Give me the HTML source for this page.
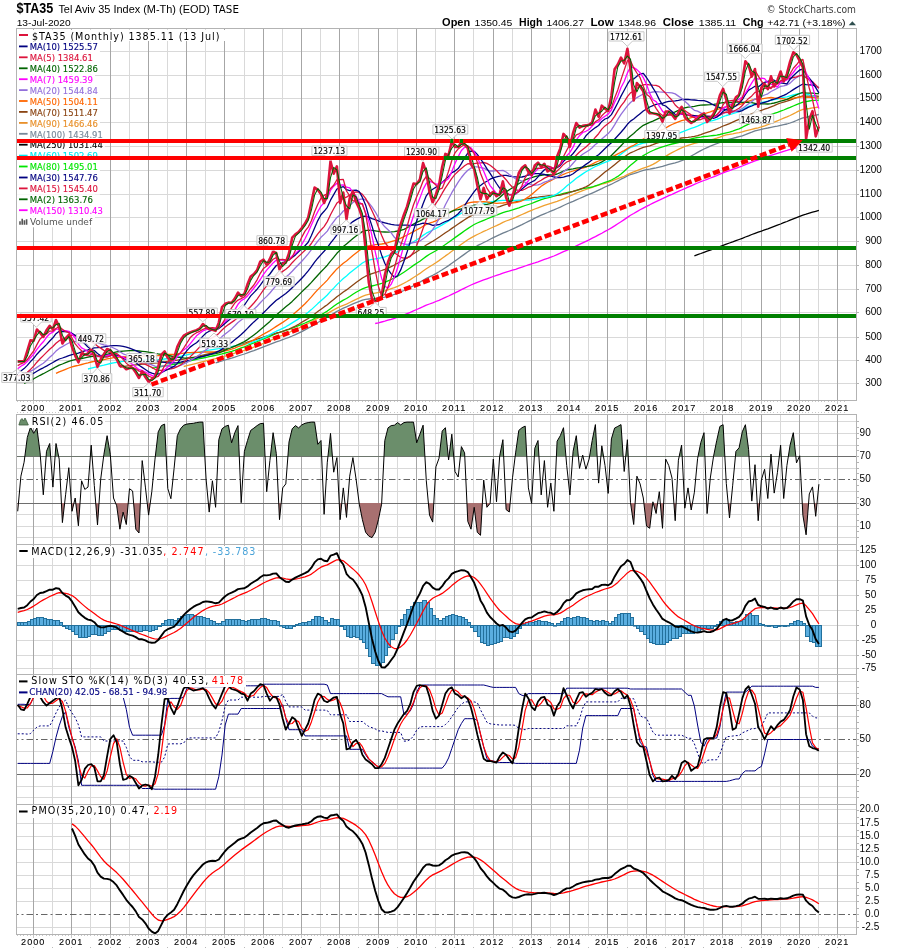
<!DOCTYPE html><html><head><meta charset="utf-8"><style>html,body{margin:0;padding:0;background:#fff;overflow:hidden}svg{display:block}text{font-family:'Liberation Sans', Arial, sans-serif}</style></head><body>
<svg width="900" height="950" viewBox="0 0 900 950">
<rect width="900" height="950" fill="#fff"/>
<text x="16.5" y="13.4" font-size="14.6" textLength="36.8" lengthAdjust="spacingAndGlyphs" style="font-family:'Liberation Sans', Arial, sans-serif" fill="#000" font-weight="bold">$TA35</text>
<text x="58.4" y="13.3" font-size="11" textLength="151.6" lengthAdjust="spacingAndGlyphs" style="font-family:'Liberation Sans', Arial, sans-serif" fill="#000">Tel Aviv 35 Index (M-Th) (EOD)</text>
<text x="213.3" y="13.3" font-size="10" textLength="25.6" lengthAdjust="spacingAndGlyphs" style="font-family:'DejaVu Sans', Verdana, sans-serif" fill="#000">TASE</text>
<text x="16.7" y="25.6" font-size="9.2" textLength="54.0" lengthAdjust="spacingAndGlyphs" style="font-family:'Liberation Sans', Arial, sans-serif" fill="#000">13-Jul-2020</text>
<text x="766.5" y="12.7" font-size="11" textLength="89.5" lengthAdjust="spacingAndGlyphs" style="font-family:'DejaVu Sans', Verdana, sans-serif" fill="#3a3a3a">© StockCharts.com</text>
<text x="442.1" y="25.7" font-size="11.6" textLength="28.1" lengthAdjust="spacingAndGlyphs" style="font-family:'Liberation Sans', Arial, sans-serif" fill="#000" font-weight="bold">Open</text>
<text x="474.6" y="25.7" font-size="9.8" textLength="37.7" lengthAdjust="spacingAndGlyphs" style="font-family:'Liberation Sans', Arial, sans-serif" fill="#000">1350.45</text>
<text x="519.1" y="25.7" font-size="11.6" textLength="23.3" lengthAdjust="spacingAndGlyphs" style="font-family:'Liberation Sans', Arial, sans-serif" fill="#000" font-weight="bold">High</text>
<text x="546.5" y="25.7" font-size="9.8" textLength="37.4" lengthAdjust="spacingAndGlyphs" style="font-family:'Liberation Sans', Arial, sans-serif" fill="#000">1406.27</text>
<text x="590.5" y="25.7" font-size="11.6" textLength="23.3" lengthAdjust="spacingAndGlyphs" style="font-family:'Liberation Sans', Arial, sans-serif" fill="#000" font-weight="bold">Low</text>
<text x="618.2" y="25.7" font-size="9.8" textLength="37.8" lengthAdjust="spacingAndGlyphs" style="font-family:'Liberation Sans', Arial, sans-serif" fill="#000">1348.96</text>
<text x="662.8" y="25.7" font-size="11.6" textLength="31.1" lengthAdjust="spacingAndGlyphs" style="font-family:'Liberation Sans', Arial, sans-serif" fill="#000" font-weight="bold">Close</text>
<text x="698.8" y="25.7" font-size="9.8" textLength="37.4" lengthAdjust="spacingAndGlyphs" style="font-family:'Liberation Sans', Arial, sans-serif" fill="#000">1385.11</text>
<text x="742.8" y="25.7" font-size="11.6" textLength="20.8" lengthAdjust="spacingAndGlyphs" style="font-family:'Liberation Sans', Arial, sans-serif" fill="#000" font-weight="bold">Chg</text>
<text x="767.2" y="25.7" font-size="9.8" textLength="78.3" lengthAdjust="spacingAndGlyphs" style="font-family:'Liberation Sans', Arial, sans-serif" fill="#000">+42.71 (+3.18%)</text>
<path d="M848.7,25.3 L852.35,21.2 L856,25.3 Z" fill="#2f4f4f"/>
<line x1="16" y1="51.5" x2="857" y2="51.5" stroke="#d9d9d9" stroke-width="1" />
<line x1="16" y1="75.5" x2="857" y2="75.5" stroke="#d9d9d9" stroke-width="1" />
<line x1="16" y1="98.5" x2="857" y2="98.5" stroke="#d9d9d9" stroke-width="1" />
<line x1="16" y1="122.5" x2="857" y2="122.5" stroke="#d9d9d9" stroke-width="1" />
<line x1="16" y1="146.5" x2="857" y2="146.5" stroke="#d9d9d9" stroke-width="1" />
<line x1="16" y1="170.5" x2="857" y2="170.5" stroke="#d9d9d9" stroke-width="1" />
<line x1="16" y1="194.5" x2="857" y2="194.5" stroke="#d9d9d9" stroke-width="1" />
<line x1="16" y1="217.5" x2="857" y2="217.5" stroke="#d9d9d9" stroke-width="1" />
<line x1="16" y1="241.5" x2="857" y2="241.5" stroke="#d9d9d9" stroke-width="1" />
<line x1="16" y1="265.5" x2="857" y2="265.5" stroke="#d9d9d9" stroke-width="1" />
<line x1="16" y1="289.5" x2="857" y2="289.5" stroke="#d9d9d9" stroke-width="1" />
<line x1="16" y1="312.5" x2="857" y2="312.5" stroke="#d9d9d9" stroke-width="1" />
<line x1="16" y1="337.5" x2="857" y2="337.5" stroke="#d9d9d9" stroke-width="1" />
<line x1="16" y1="360.5" x2="857" y2="360.5" stroke="#d9d9d9" stroke-width="1" />
<line x1="16" y1="383.5" x2="857" y2="383.5" stroke="#d9d9d9" stroke-width="1" />
<line x1="52.5" y1="28" x2="52.5" y2="401" stroke="#d9d9d9" stroke-width="1"/>
<line x1="33.5" y1="28" x2="33.5" y2="401" stroke="#a6a6a6" stroke-width="1"/>
<line x1="90.5" y1="28" x2="90.5" y2="401" stroke="#d9d9d9" stroke-width="1"/>
<line x1="71.5" y1="28" x2="71.5" y2="401" stroke="#a6a6a6" stroke-width="1"/>
<line x1="129.5" y1="28" x2="129.5" y2="401" stroke="#d9d9d9" stroke-width="1"/>
<line x1="110.5" y1="28" x2="110.5" y2="401" stroke="#a6a6a6" stroke-width="1"/>
<line x1="167.5" y1="28" x2="167.5" y2="401" stroke="#d9d9d9" stroke-width="1"/>
<line x1="148.5" y1="28" x2="148.5" y2="401" stroke="#a6a6a6" stroke-width="1"/>
<line x1="205.5" y1="28" x2="205.5" y2="401" stroke="#d9d9d9" stroke-width="1"/>
<line x1="186.5" y1="28" x2="186.5" y2="401" stroke="#a6a6a6" stroke-width="1"/>
<line x1="244.5" y1="28" x2="244.5" y2="401" stroke="#d9d9d9" stroke-width="1"/>
<line x1="224.5" y1="28" x2="224.5" y2="401" stroke="#a6a6a6" stroke-width="1"/>
<line x1="282.5" y1="28" x2="282.5" y2="401" stroke="#d9d9d9" stroke-width="1"/>
<line x1="263.5" y1="28" x2="263.5" y2="401" stroke="#a6a6a6" stroke-width="1"/>
<line x1="320.5" y1="28" x2="320.5" y2="401" stroke="#d9d9d9" stroke-width="1"/>
<line x1="301.5" y1="28" x2="301.5" y2="401" stroke="#a6a6a6" stroke-width="1"/>
<line x1="358.5" y1="28" x2="358.5" y2="401" stroke="#d9d9d9" stroke-width="1"/>
<line x1="339.5" y1="28" x2="339.5" y2="401" stroke="#a6a6a6" stroke-width="1"/>
<line x1="397.5" y1="28" x2="397.5" y2="401" stroke="#d9d9d9" stroke-width="1"/>
<line x1="378.5" y1="28" x2="378.5" y2="401" stroke="#a6a6a6" stroke-width="1"/>
<line x1="435.5" y1="28" x2="435.5" y2="401" stroke="#d9d9d9" stroke-width="1"/>
<line x1="416.5" y1="28" x2="416.5" y2="401" stroke="#a6a6a6" stroke-width="1"/>
<line x1="473.5" y1="28" x2="473.5" y2="401" stroke="#d9d9d9" stroke-width="1"/>
<line x1="454.5" y1="28" x2="454.5" y2="401" stroke="#a6a6a6" stroke-width="1"/>
<line x1="512.5" y1="28" x2="512.5" y2="401" stroke="#d9d9d9" stroke-width="1"/>
<line x1="493.5" y1="28" x2="493.5" y2="401" stroke="#a6a6a6" stroke-width="1"/>
<line x1="550.5" y1="28" x2="550.5" y2="401" stroke="#d9d9d9" stroke-width="1"/>
<line x1="531.5" y1="28" x2="531.5" y2="401" stroke="#a6a6a6" stroke-width="1"/>
<line x1="588.5" y1="28" x2="588.5" y2="401" stroke="#d9d9d9" stroke-width="1"/>
<line x1="569.5" y1="28" x2="569.5" y2="401" stroke="#a6a6a6" stroke-width="1"/>
<line x1="627.5" y1="28" x2="627.5" y2="401" stroke="#d9d9d9" stroke-width="1"/>
<line x1="607.5" y1="28" x2="607.5" y2="401" stroke="#a6a6a6" stroke-width="1"/>
<line x1="665.5" y1="28" x2="665.5" y2="401" stroke="#d9d9d9" stroke-width="1"/>
<line x1="646.5" y1="28" x2="646.5" y2="401" stroke="#a6a6a6" stroke-width="1"/>
<line x1="703.5" y1="28" x2="703.5" y2="401" stroke="#d9d9d9" stroke-width="1"/>
<line x1="684.5" y1="28" x2="684.5" y2="401" stroke="#a6a6a6" stroke-width="1"/>
<line x1="741.5" y1="28" x2="741.5" y2="401" stroke="#d9d9d9" stroke-width="1"/>
<line x1="722.5" y1="28" x2="722.5" y2="401" stroke="#a6a6a6" stroke-width="1"/>
<line x1="780.5" y1="28" x2="780.5" y2="401" stroke="#d9d9d9" stroke-width="1"/>
<line x1="761.5" y1="28" x2="761.5" y2="401" stroke="#a6a6a6" stroke-width="1"/>
<line x1="818.5" y1="28" x2="818.5" y2="401" stroke="#d9d9d9" stroke-width="1"/>
<line x1="799.5" y1="28" x2="799.5" y2="401" stroke="#a6a6a6" stroke-width="1"/>
<line x1="837.5" y1="28" x2="837.5" y2="401" stroke="#a6a6a6" stroke-width="1"/>
<line x1="857" y1="383.5" x2="859" y2="383.5" stroke="#b3b3b3" stroke-width="1"/>
<line x1="857" y1="360.5" x2="859" y2="360.5" stroke="#b3b3b3" stroke-width="1"/>
<line x1="857" y1="337.5" x2="859" y2="337.5" stroke="#b3b3b3" stroke-width="1"/>
<line x1="857" y1="312.5" x2="859" y2="312.5" stroke="#b3b3b3" stroke-width="1"/>
<line x1="857" y1="289.5" x2="859" y2="289.5" stroke="#b3b3b3" stroke-width="1"/>
<line x1="857" y1="265.5" x2="859" y2="265.5" stroke="#b3b3b3" stroke-width="1"/>
<line x1="857" y1="241.5" x2="859" y2="241.5" stroke="#b3b3b3" stroke-width="1"/>
<line x1="857" y1="217.5" x2="859" y2="217.5" stroke="#b3b3b3" stroke-width="1"/>
<line x1="857" y1="194.5" x2="859" y2="194.5" stroke="#b3b3b3" stroke-width="1"/>
<line x1="857" y1="170.5" x2="859" y2="170.5" stroke="#b3b3b3" stroke-width="1"/>
<line x1="857" y1="146.5" x2="859" y2="146.5" stroke="#b3b3b3" stroke-width="1"/>
<line x1="857" y1="122.5" x2="859" y2="122.5" stroke="#b3b3b3" stroke-width="1"/>
<line x1="857" y1="98.5" x2="859" y2="98.5" stroke="#b3b3b3" stroke-width="1"/>
<line x1="857" y1="75.5" x2="859" y2="75.5" stroke="#b3b3b3" stroke-width="1"/>
<line x1="857" y1="51.5" x2="859" y2="51.5" stroke="#b3b3b3" stroke-width="1"/>
<text x="865.2" y="385.6" font-size="10" textLength="16.6" lengthAdjust="spacing" style="font-family:'Liberation Sans', Arial, sans-serif" fill="#000">300</text>
<text x="865.2" y="362.6" font-size="10" textLength="16.6" lengthAdjust="spacing" style="font-family:'Liberation Sans', Arial, sans-serif" fill="#000">400</text>
<text x="865.2" y="339.6" font-size="10" textLength="16.6" lengthAdjust="spacing" style="font-family:'Liberation Sans', Arial, sans-serif" fill="#000">500</text>
<text x="865.2" y="314.6" font-size="10" textLength="16.6" lengthAdjust="spacing" style="font-family:'Liberation Sans', Arial, sans-serif" fill="#000">600</text>
<text x="865.2" y="291.6" font-size="10" textLength="16.6" lengthAdjust="spacing" style="font-family:'Liberation Sans', Arial, sans-serif" fill="#000">700</text>
<text x="865.2" y="267.6" font-size="10" textLength="16.6" lengthAdjust="spacing" style="font-family:'Liberation Sans', Arial, sans-serif" fill="#000">800</text>
<text x="865.2" y="243.6" font-size="10" textLength="16.6" lengthAdjust="spacing" style="font-family:'Liberation Sans', Arial, sans-serif" fill="#000">900</text>
<text x="859.6" y="219.6" font-size="10" textLength="22.2" lengthAdjust="spacing" style="font-family:'Liberation Sans', Arial, sans-serif" fill="#000">1000</text>
<text x="859.6" y="196.6" font-size="10" textLength="22.2" lengthAdjust="spacing" style="font-family:'Liberation Sans', Arial, sans-serif" fill="#000">1100</text>
<text x="859.6" y="172.6" font-size="10" textLength="22.2" lengthAdjust="spacing" style="font-family:'Liberation Sans', Arial, sans-serif" fill="#000">1200</text>
<text x="859.6" y="148.6" font-size="10" textLength="22.2" lengthAdjust="spacing" style="font-family:'Liberation Sans', Arial, sans-serif" fill="#000">1300</text>
<text x="859.6" y="124.6" font-size="10" textLength="22.2" lengthAdjust="spacing" style="font-family:'Liberation Sans', Arial, sans-serif" fill="#000">1400</text>
<text x="859.6" y="100.6" font-size="10" textLength="22.2" lengthAdjust="spacing" style="font-family:'Liberation Sans', Arial, sans-serif" fill="#000">1500</text>
<text x="859.6" y="77.6" font-size="10" textLength="22.2" lengthAdjust="spacing" style="font-family:'Liberation Sans', Arial, sans-serif" fill="#000">1600</text>
<text x="859.6" y="53.6" font-size="10" textLength="22.2" lengthAdjust="spacing" style="font-family:'Liberation Sans', Arial, sans-serif" fill="#000">1700</text>
<polyline points="694.4,255.8 697.6,254.6 700.8,253.5 704.0,252.3 707.1,251.2 710.3,250.1 713.5,248.9 716.7,247.7 719.9,246.5 723.1,245.3 726.3,244.1 729.5,243.0 732.7,241.9 735.9,240.7 739.1,239.5 742.3,238.3 745.4,237.0 748.6,235.8 751.8,234.5 755.0,233.3 758.2,232.2 761.4,231.1 764.6,229.9 767.8,228.8 771.0,227.6 774.2,226.4 777.4,225.2 780.6,224.0 783.7,222.7 786.9,221.5 790.1,220.2 793.3,218.9 796.5,217.6 799.7,216.3 802.9,215.1 806.1,214.2 809.3,213.2 812.5,212.2 815.7,211.3 818.9,210.4" fill="none" stroke="#000000" stroke-width="1.3" stroke-linejoin="round" />
<polyline points="375.2,323.5 378.4,322.8 381.6,322.0 384.8,321.2 388.0,320.2 391.2,319.3 394.4,318.3 397.6,317.2 400.7,316.1 403.9,314.9 407.1,313.6 410.3,312.3 413.5,310.9 416.7,309.5 419.9,308.1 423.1,306.7 426.3,305.2 429.5,304.0 432.7,302.8 435.9,301.5 439.0,300.3 442.2,298.9 445.4,297.4 448.6,296.0 451.8,294.4 455.0,292.9 458.2,291.3 461.4,289.7 464.6,288.1 467.8,286.5 471.0,285.0 474.2,283.6 477.3,282.3 480.5,281.1 483.7,279.9 486.9,278.8 490.1,277.7 493.3,276.5 496.5,275.4 499.7,274.3 502.9,273.1 506.1,272.1 509.3,271.2 512.5,270.2 515.6,269.3 518.8,268.2 522.0,267.1 525.2,266.0 528.4,264.9 531.6,263.9 534.8,262.9 538.0,261.8 541.2,260.6 544.4,259.4 547.6,258.4 550.8,257.2 553.9,256.0 557.1,254.6 560.3,253.2 563.5,251.7 566.7,250.3 569.9,249.0 573.1,247.5 576.3,245.8 579.5,244.3 582.7,242.8 585.9,241.3 589.1,239.8 592.2,238.2 595.4,236.6 598.6,234.9 601.8,233.2 605.0,231.4 608.2,229.7 611.4,227.9 614.6,225.9 617.8,223.8 621.0,221.7 624.2,219.6 627.4,217.4 630.5,215.3 633.7,213.5 636.9,211.6 640.1,209.8 643.3,208.1 646.5,206.4 649.7,204.8 652.9,203.1 656.1,201.6 659.3,200.1 662.5,198.7 665.7,197.2 668.8,195.7 672.0,194.3 675.2,192.8 678.4,191.4 681.6,190.0 684.8,188.6 688.0,187.2 691.2,185.8 694.4,184.4 697.6,183.0 700.8,181.7 704.0,180.5 707.1,179.3 710.3,178.0 713.5,176.8 716.7,175.6 719.9,174.2 723.1,172.9 726.3,171.6 729.5,170.6 732.7,169.4 735.9,168.3 739.1,167.2 742.3,166.0 745.4,164.6 748.6,163.3 751.8,162.2 755.0,160.9 758.2,159.8 761.4,158.7 764.6,157.5 767.8,156.4 771.0,155.3 774.2,154.3 777.4,153.3 780.6,152.3 783.7,151.3 786.9,150.4 790.1,149.4 793.3,148.5 796.5,147.6 799.7,146.7 802.9,145.8 806.1,145.5 809.3,145.2 812.5,144.8 815.7,144.6 818.9,144.1" fill="none" stroke="#ff00ff" stroke-width="1.3" stroke-linejoin="round" />
<polyline points="215.6,362.8 218.8,362.0 222.0,361.0 225.2,360.0 228.4,359.0 231.6,358.1 234.8,357.1 238.0,356.0 241.2,355.0 244.4,354.0 247.5,352.9 250.7,351.7 253.9,350.6 257.1,349.4 260.3,348.1 263.5,346.9 266.7,345.7 269.9,344.4 273.1,343.1 276.3,341.8 279.5,340.8 282.7,339.6 285.8,338.5 289.0,337.3 292.2,336.0 295.4,334.6 298.6,333.1 301.8,331.6 305.0,329.9 308.2,328.2 311.4,326.4 314.6,324.4 317.8,322.5 321.0,320.7 324.1,319.0 327.3,317.3 330.5,315.3 333.7,313.4 336.9,311.4 340.1,309.8 343.3,308.2 346.5,306.8 349.7,305.4 352.9,303.9 356.1,302.6 359.3,301.4 362.4,300.2 365.6,299.4 368.8,299.0 372.0,298.7 375.2,298.5 378.4,298.2 381.6,297.7 384.8,297.1 388.0,296.4 391.2,295.5 394.4,294.4 397.6,293.1 400.7,291.9 403.9,290.5 407.1,289.0 410.3,287.4 413.5,285.7 416.7,283.9 419.9,282.1 423.1,280.2 426.3,278.4 429.5,276.8 432.7,275.3 435.9,273.6 439.0,271.8 442.2,269.8 445.4,267.7 448.6,265.6 451.8,263.3 455.0,261.0 458.2,258.7 461.4,256.4 464.6,254.1 467.8,251.8 471.0,249.6 474.2,247.6 477.3,245.7 480.5,244.2 483.7,242.5 486.9,241.0 490.1,239.3 493.3,237.6 496.5,236.1 499.7,234.7 502.9,233.1 506.1,231.8 509.3,230.5 512.5,229.1 515.6,227.7 518.8,226.1 522.0,224.6 525.2,223.0 528.4,221.4 531.6,219.8 534.8,218.2 538.0,216.6 541.2,215.2 544.4,213.8 547.6,212.5 550.8,211.1 553.9,209.9 557.1,208.5 560.3,207.1 563.5,205.5 566.7,204.0 569.9,202.7 573.1,201.3 576.3,199.8 579.5,198.5 582.7,197.1 585.9,195.7 589.1,194.4 592.2,193.1 595.4,191.7 598.6,190.1 601.8,188.6 605.0,187.0 608.2,185.6 611.4,184.2 614.6,182.5 617.8,180.9 621.0,179.2 624.2,177.6 627.4,175.9 630.5,174.5 633.7,173.7 636.9,172.6 640.1,171.5 643.3,170.4 646.5,169.6 649.7,169.1 652.9,168.5 656.1,167.9 659.3,167.1 662.5,166.4 665.7,165.3 668.8,164.4 672.0,163.6 675.2,162.8 678.4,161.9 681.6,160.7 684.8,159.4 688.0,157.8 691.2,156.0 694.4,154.2 697.6,152.4 700.8,150.6 704.0,149.0 707.1,147.6 710.3,146.2 713.5,144.8 716.7,143.6 719.9,142.3 723.1,141.0 726.3,140.0 729.5,139.1 732.7,138.3 735.9,137.5 739.1,136.6 742.3,135.8 745.4,134.7 748.6,133.4 751.8,132.2 755.0,130.9 758.2,130.1 761.4,129.3 764.6,128.6 767.8,128.0 771.0,127.3 774.2,126.7 777.4,126.1 780.6,125.4 783.7,124.7 786.9,124.0 790.1,123.0 793.3,121.8 796.5,120.5 799.7,119.1 802.9,117.9 806.1,117.3 809.3,116.5 812.5,115.7 815.7,115.1 818.9,114.5" fill="none" stroke="#708090" stroke-width="1.3" stroke-linejoin="round" />
<polyline points="183.7,366.5 186.9,365.7 190.1,364.9 193.3,364.1 196.5,363.3 199.7,362.5 202.9,361.7 206.1,360.9 209.2,360.1 212.4,359.4 215.6,358.7 218.8,358.0 222.0,357.0 225.2,356.1 228.4,355.1 231.6,354.2 234.8,353.2 238.0,352.2 241.2,351.3 244.4,350.3 247.5,349.3 250.7,348.2 253.9,347.1 257.1,346.0 260.3,344.7 263.5,343.4 266.7,342.2 269.9,340.8 273.1,339.2 276.3,337.7 279.5,336.4 282.7,335.1 285.8,333.8 289.0,332.5 292.2,331.0 295.4,329.5 298.6,328.1 301.8,326.6 305.0,325.0 308.2,323.4 311.4,321.7 314.6,319.8 317.8,318.2 321.0,316.5 324.1,315.1 327.3,313.6 330.5,311.6 333.7,309.9 336.9,308.1 340.1,306.7 343.3,305.3 346.5,304.1 349.7,302.5 352.9,300.9 356.1,299.4 359.3,297.9 362.4,296.3 365.6,295.1 368.8,294.3 372.0,293.7 375.2,293.1 378.4,292.5 381.6,291.9 384.8,290.9 388.0,289.8 391.2,288.7 394.4,287.6 397.6,286.3 400.7,284.9 403.9,283.2 407.1,281.5 410.3,279.6 413.5,277.5 416.7,275.5 419.9,273.4 423.1,271.0 426.3,268.8 429.5,266.8 432.7,264.8 435.9,262.7 439.0,260.6 442.2,258.3 445.4,255.9 448.6,253.7 451.8,251.3 455.0,249.0 458.2,246.6 461.4,244.2 464.6,242.0 467.8,239.8 471.0,237.9 474.2,236.1 477.3,234.5 480.5,233.0 483.7,231.4 486.9,230.0 490.1,228.5 493.3,227.0 496.5,225.6 499.7,224.1 502.9,222.4 506.1,221.0 509.3,219.9 512.5,218.7 515.6,217.4 518.8,215.9 522.0,214.5 525.2,213.1 528.4,211.7 531.6,210.4 534.8,209.0 538.0,207.8 541.2,206.6 544.4,205.4 547.6,204.4 550.8,203.4 553.9,202.4 557.1,201.3 560.3,200.1 563.5,198.8 566.7,197.3 569.9,196.0 573.1,194.6 576.3,193.1 579.5,191.9 582.7,190.7 585.9,189.5 589.1,188.4 592.2,187.3 595.4,186.1 598.6,185.1 601.8,184.2 605.0,183.3 608.2,182.4 611.4,181.2 614.6,179.8 617.8,178.7 621.0,177.4 624.2,176.3 627.4,174.6 630.5,173.2 633.7,171.9 636.9,170.6 640.1,169.4 643.3,168.2 646.5,167.1 649.7,165.9 652.9,164.4 656.1,162.6 659.3,160.5 662.5,158.5 665.7,156.4 668.8,154.4 672.0,152.6 675.2,151.0 678.4,149.4 681.6,147.8 684.8,146.5 688.0,145.3 691.2,144.3 694.4,143.4 697.6,142.5 700.8,141.8 704.0,141.0 707.1,140.3 710.3,139.8 713.5,139.2 716.7,138.2 719.9,137.1 723.1,135.9 726.3,134.9 729.5,134.3 732.7,133.8 735.9,133.1 739.1,132.6 742.3,131.9 745.4,130.9 748.6,130.1 751.8,129.3 755.0,128.5 758.2,127.8 761.4,126.9 764.6,125.8 767.8,124.6 771.0,123.3 774.2,122.1 777.4,120.8 780.6,119.5 783.7,118.2 786.9,116.9 790.1,115.5 793.3,113.9 796.5,112.2 799.7,110.7 802.9,109.4 806.1,109.0 809.3,108.5 812.5,107.9 815.7,107.5 818.9,107.0" fill="none" stroke="#f0a030" stroke-width="1.3" stroke-linejoin="round" />
<polyline points="151.8,368.0 155.0,367.6 158.2,367.1 161.4,366.5 164.6,365.9 167.8,365.4 170.9,364.9 174.1,364.4 177.3,363.8 180.5,363.1 183.7,362.4 186.9,361.6 190.1,360.9 193.3,360.2 196.5,359.4 199.7,358.7 202.9,358.0 206.1,357.3 209.2,356.6 212.4,356.0 215.6,355.4 218.8,354.7 222.0,353.9 225.2,353.0 228.4,352.2 231.6,351.3 234.8,350.3 238.0,349.1 241.2,347.9 244.4,346.8 247.5,345.5 250.7,344.2 253.9,342.9 257.1,341.6 260.3,340.2 263.5,338.9 266.7,337.6 269.9,336.3 273.1,334.9 276.3,333.6 279.5,332.4 282.7,331.3 285.8,330.4 289.0,329.3 292.2,328.1 295.4,326.9 298.6,325.6 301.8,324.3 305.0,323.0 308.2,321.6 311.4,320.2 314.6,318.4 317.8,316.5 321.0,314.7 324.1,313.0 327.3,311.1 330.5,308.7 333.7,306.3 336.9,304.0 340.1,302.1 343.3,300.1 346.5,298.5 349.7,296.5 352.9,294.3 356.1,292.3 359.3,290.5 362.4,288.9 365.6,287.6 368.8,286.7 372.0,286.0 375.2,285.2 378.4,284.3 381.6,283.4 384.8,282.3 388.0,280.9 391.2,279.5 394.4,277.9 397.6,276.2 400.7,274.3 403.9,272.2 407.1,270.0 410.3,267.7 413.5,265.4 416.7,263.3 419.9,261.2 423.1,258.7 426.3,256.4 429.5,254.3 432.7,252.5 435.9,250.7 439.0,248.8 442.2,246.7 445.4,244.5 448.6,242.3 451.8,239.9 455.0,237.6 458.2,235.4 461.4,233.1 464.6,230.8 467.8,228.6 471.0,226.5 474.2,224.5 477.3,223.0 480.5,221.7 483.7,220.3 486.9,219.0 490.1,217.7 493.3,216.4 496.5,215.2 499.7,213.9 502.9,212.6 506.1,211.6 509.3,210.8 512.5,209.9 515.6,208.9 518.8,207.8 522.0,206.6 525.2,205.5 528.4,204.5 531.6,203.5 534.8,202.2 538.0,200.9 541.2,199.7 544.4,198.6 547.6,197.8 550.8,197.0 553.9,196.2 557.1,195.4 560.3,194.4 563.5,193.4 566.7,192.6 569.9,192.0 573.1,191.3 576.3,190.4 579.5,189.5 582.7,188.6 585.9,188.2 589.1,187.6 592.2,187.0 595.4,185.9 598.6,184.9 601.8,183.5 605.0,182.4 608.2,181.4 611.4,180.0 614.6,178.3 617.8,176.4 621.0,174.0 624.2,171.2 627.4,168.1 630.5,165.2 633.7,162.7 636.9,160.1 640.1,157.7 643.3,155.6 646.5,153.8 649.7,152.0 652.9,150.5 656.1,149.1 659.3,147.9 662.5,146.8 665.7,145.8 668.8,144.9 672.0,144.0 675.2,143.3 678.4,142.6 681.6,141.8 684.8,140.9 688.0,139.8 691.2,139.0 694.4,138.1 697.6,137.5 700.8,137.1 704.0,136.5 707.1,136.3 710.3,135.9 713.5,135.5 716.7,135.1 719.9,134.5 723.1,133.7 726.3,132.9 729.5,132.2 732.7,131.2 735.9,129.9 739.1,128.8 742.3,127.3 745.4,125.6 748.6,124.1 751.8,122.6 755.0,121.0 758.2,120.1 761.4,118.7 764.6,117.2 767.8,115.8 771.0,114.5 774.2,113.4 777.4,112.3 780.6,111.1 783.7,110.0 786.9,108.7 790.1,107.4 793.3,106.0 796.5,104.6 799.7,103.4 802.9,102.1 806.1,101.7 809.3,101.0 812.5,100.4 815.7,100.3 818.9,100.2" fill="none" stroke="#00e000" stroke-width="1.3" stroke-linejoin="round" />
<polyline points="119.9,367.2 123.1,366.7 126.3,366.2 129.5,365.7 132.6,365.2 135.8,364.8 139.0,364.5 142.2,364.1 145.4,363.8 148.6,363.6 151.8,363.4 155.0,363.2 158.2,362.9 161.4,362.4 164.6,361.8 167.8,361.4 170.9,361.1 174.1,360.7 177.3,360.2 180.5,359.7 183.7,359.1 186.9,358.5 190.1,357.9 193.3,357.3 196.5,356.7 199.7,356.0 202.9,355.2 206.1,354.4 209.2,353.5 212.4,352.7 215.6,351.9 218.8,351.1 222.0,350.1 225.2,349.1 228.4,348.1 231.6,347.2 234.8,346.2 238.0,345.2 241.2,344.3 244.4,343.3 247.5,342.2 250.7,341.1 253.9,340.2 257.1,339.2 260.3,338.2 263.5,337.2 266.7,336.1 269.9,335.1 273.1,334.1 276.3,333.0 279.5,332.3 282.7,331.3 285.8,330.2 289.0,329.0 292.2,327.6 295.4,326.0 298.6,324.2 301.8,322.3 305.0,320.4 308.2,318.5 311.4,316.3 314.6,314.0 317.8,311.6 321.0,309.2 324.1,306.9 327.3,304.7 330.5,302.0 333.7,299.4 336.9,296.7 340.1,294.5 343.3,292.0 346.5,289.9 349.7,287.5 352.9,285.0 356.1,282.6 359.3,280.3 362.4,278.0 365.6,276.2 368.8,274.9 372.0,273.7 375.2,272.6 378.4,271.5 381.6,270.5 384.8,269.4 388.0,268.1 391.2,266.6 394.4,265.0 397.6,263.3 400.7,261.5 403.9,259.7 407.1,257.9 410.3,255.9 413.5,253.8 416.7,251.7 419.9,249.5 423.1,247.2 426.3,245.0 429.5,243.1 432.7,241.3 435.9,239.3 439.0,237.2 442.2,235.0 445.4,232.8 448.6,230.7 451.8,228.4 455.0,226.2 458.2,224.0 461.4,221.9 464.6,219.7 467.8,217.6 471.0,215.9 474.2,214.4 477.3,213.1 480.5,212.1 483.7,211.0 486.9,210.2 490.1,209.2 493.3,208.2 496.5,207.4 499.7,206.6 502.9,205.3 506.1,204.4 509.3,203.5 512.5,202.7 515.6,202.0 518.8,201.1 522.0,200.2 525.2,199.3 528.4,198.6 531.6,198.0 534.8,197.4 538.0,197.1 541.2,196.7 544.4,196.3 547.6,195.9 550.8,195.5 553.9,195.7 557.1,195.4 560.3,195.2 563.5,194.2 566.7,193.4 569.9,192.4 573.1,191.4 576.3,190.5 579.5,189.4 582.7,188.2 585.9,186.9 589.1,185.1 592.2,182.8 595.4,180.1 598.6,177.5 601.8,174.7 605.0,172.0 608.2,169.7 611.4,167.3 614.6,164.7 617.8,162.0 621.0,159.4 624.2,157.1 627.4,154.8 630.5,152.8 633.7,151.5 636.9,150.0 640.1,148.6 643.3,147.4 646.5,146.6 649.7,145.8 652.9,144.7 656.1,143.4 659.3,142.3 662.5,141.3 665.7,140.6 668.8,140.0 672.0,139.4 675.2,139.1 678.4,138.6 681.6,138.0 684.8,137.6 688.0,137.3 691.2,136.9 694.4,136.3 697.6,135.6 700.8,134.6 704.0,133.4 707.1,132.4 710.3,131.3 713.5,130.1 716.7,128.9 719.9,127.5 723.1,126.0 726.3,124.8 729.5,123.6 732.7,122.1 735.9,120.7 739.1,119.4 742.3,118.1 745.4,116.6 748.6,115.2 751.8,113.8 755.0,112.3 758.2,111.4 761.4,110.4 764.6,109.2 767.8,108.1 771.0,106.8 774.2,105.6 777.4,104.2 780.6,103.0 783.7,102.1 786.9,101.2 790.1,100.1 793.3,98.8 796.5,97.7 799.7,96.8 802.9,95.9 806.1,96.1 809.3,96.0 812.5,95.8 815.7,96.0 818.9,96.3" fill="none" stroke="#8b4513" stroke-width="1.3" stroke-linejoin="round" />
<polyline points="88.0,369.0 91.2,368.1 94.3,367.3 97.5,366.7 100.7,365.9 103.9,365.2 107.1,364.3 110.3,363.5 113.5,362.9 116.7,362.3 119.9,361.8 123.1,361.4 126.3,361.0 129.5,360.6 132.6,360.3 135.8,360.1 139.0,360.0 142.2,359.8 145.4,359.7 148.6,359.7 151.8,359.8 155.0,359.8 158.2,359.7 161.4,359.4 164.6,359.0 167.8,358.7 170.9,358.4 174.1,358.0 177.3,357.3 180.5,356.5 183.7,355.6 186.9,354.8 190.1,354.1 193.3,353.4 196.5,352.7 199.7,352.0 202.9,351.3 206.1,350.7 209.2,350.2 212.4,349.7 215.6,349.2 218.8,348.7 222.0,348.1 225.2,347.5 228.4,347.1 231.6,346.6 234.8,345.9 238.0,345.3 241.2,344.8 244.4,344.2 247.5,343.6 250.7,342.8 253.9,341.6 257.1,340.5 260.3,339.3 263.5,337.8 266.7,336.3 269.9,334.6 273.1,332.9 276.3,331.2 279.5,329.8 282.7,328.4 285.8,326.8 289.0,324.9 292.2,322.9 295.4,320.9 298.6,318.9 301.8,316.9 305.0,314.7 308.2,312.3 311.4,309.6 314.6,306.6 317.8,303.6 321.0,300.8 324.1,298.0 327.3,295.0 330.5,291.4 333.7,288.1 336.9,284.6 340.1,281.6 343.3,278.5 346.5,275.9 349.7,273.1 352.9,270.4 356.1,267.9 359.3,265.4 362.4,263.0 365.6,261.2 368.8,260.1 372.0,259.4 375.2,258.9 378.4,258.3 381.6,257.7 384.8,256.8 388.0,255.6 391.2,254.4 394.4,253.2 397.6,251.7 400.7,249.9 403.9,248.0 407.1,245.9 410.3,243.8 413.5,241.7 416.7,239.7 419.9,237.7 423.1,235.4 426.3,233.2 429.5,231.6 432.7,230.0 435.9,228.4 439.0,226.7 442.2,224.9 445.4,222.9 448.6,221.0 451.8,219.0 455.0,217.1 458.2,215.1 461.4,213.2 464.6,211.4 467.8,209.6 471.0,207.9 474.2,206.3 477.3,205.0 480.5,204.1 483.7,203.3 486.9,202.7 490.1,202.1 493.3,201.5 496.5,201.0 499.7,200.6 502.9,200.3 506.1,200.4 509.3,200.7 512.5,200.7 515.6,200.4 518.8,200.1 522.0,200.2 525.2,200.1 528.4,200.1 531.6,199.7 534.8,199.2 538.0,198.3 541.2,197.8 544.4,197.3 547.6,196.8 550.8,196.1 553.9,195.4 557.1,193.9 560.3,191.6 563.5,188.9 566.7,186.1 569.9,183.6 573.1,180.9 576.3,178.3 579.5,176.1 582.7,173.9 585.9,171.8 589.1,170.0 592.2,168.3 595.4,166.5 598.6,165.1 601.8,163.6 605.0,162.3 608.2,161.1 611.4,159.7 614.6,158.1 617.8,156.4 621.0,154.1 624.2,151.8 627.4,149.4 630.5,147.4 633.7,146.3 636.9,145.1 640.1,144.0 643.3,143.2 646.5,142.5 649.7,142.0 652.9,141.5 656.1,141.0 659.3,140.4 662.5,139.7 665.7,138.8 668.8,137.5 672.0,136.1 675.2,135.0 678.4,133.5 681.6,132.1 684.8,130.8 688.0,129.6 691.2,128.4 694.4,127.4 697.6,126.1 700.8,124.6 704.0,123.2 707.1,122.1 710.3,121.2 713.5,120.3 716.7,119.3 719.9,118.1 723.1,116.6 726.3,115.5 729.5,114.7 732.7,113.7 735.9,112.6 739.1,111.3 742.3,109.8 745.4,107.9 748.6,106.4 751.8,105.2 755.0,104.1 758.2,103.6 761.4,102.6 764.6,101.8 767.8,101.2 771.0,100.4 774.2,99.7 777.4,99.0 780.6,98.1 783.7,97.4 786.9,96.8 790.1,95.9 793.3,95.0 796.5,94.1 799.7,93.3 802.9,92.8 806.1,94.0 809.3,94.9 812.5,95.8 815.7,97.0 818.9,98.3" fill="none" stroke="#00ffff" stroke-width="1.3" stroke-linejoin="round" />
<polyline points="56.0,373.4 59.2,371.8 62.4,370.6 65.6,369.3 68.8,368.0 72.0,366.9 75.2,366.0 78.4,365.3 81.6,364.5 84.8,363.7 88.0,362.9 91.2,362.0 94.3,361.3 97.5,360.8 100.7,360.3 103.9,359.6 107.1,358.9 110.3,358.3 113.5,357.7 116.7,357.3 119.9,357.1 123.1,356.9 126.3,356.8 129.5,356.7 132.6,356.6 135.8,356.6 139.0,356.6 142.2,356.3 145.4,356.0 148.6,355.9 151.8,355.8 155.0,355.7 158.2,355.5 161.4,355.1 164.6,354.7 167.8,354.5 170.9,354.4 174.1,354.3 177.3,354.0 180.5,353.6 183.7,353.1 186.9,352.7 190.1,352.6 193.3,352.4 196.5,352.4 199.7,352.3 202.9,352.0 206.1,352.0 209.2,352.0 212.4,352.0 215.6,352.3 218.8,352.2 222.0,351.5 225.2,350.8 228.4,350.1 231.6,349.2 234.8,348.1 238.0,346.7 241.2,345.6 244.4,344.3 247.5,343.0 250.7,341.5 253.9,339.9 257.1,337.9 260.3,336.0 263.5,334.1 266.7,332.4 269.9,330.6 273.1,328.5 276.3,326.4 279.5,324.4 282.7,322.4 285.8,320.3 289.0,318.0 292.2,315.3 295.4,312.6 298.6,309.7 301.8,306.8 305.0,303.7 308.2,300.4 311.4,296.9 314.6,293.1 317.8,289.6 321.0,286.4 324.1,283.4 327.3,280.1 330.5,276.1 333.7,272.5 336.9,268.9 340.1,266.1 343.3,263.2 346.5,261.0 349.7,258.3 352.9,255.5 356.1,252.9 359.3,250.5 362.4,248.4 365.6,246.8 368.8,245.9 372.0,245.3 375.2,244.7 378.4,244.3 381.6,244.0 384.8,243.5 388.0,242.7 391.2,241.7 394.4,240.7 397.6,239.6 400.7,238.2 403.9,236.6 407.1,235.0 410.3,233.4 413.5,231.6 416.7,229.8 419.9,228.2 423.1,226.3 426.3,224.4 429.5,223.1 432.7,222.1 435.9,220.9 439.0,219.3 442.2,217.3 445.4,215.1 448.6,213.2 451.8,211.3 455.0,209.5 458.2,207.8 461.4,206.1 464.6,204.5 467.8,203.1 471.0,202.4 474.2,202.0 477.3,201.9 480.5,202.0 483.7,201.7 486.9,201.8 490.1,202.5 493.3,202.8 496.5,203.4 499.7,203.2 502.9,203.0 506.1,202.6 509.3,202.7 512.5,202.8 515.6,202.5 518.8,201.8 522.0,200.8 525.2,199.1 528.4,196.9 531.6,194.4 534.8,191.7 538.0,188.9 541.2,186.3 544.4,184.1 547.6,182.3 550.8,180.6 553.9,179.0 557.1,177.5 560.3,176.0 563.5,174.3 566.7,173.0 569.9,172.0 573.1,171.0 576.3,169.8 579.5,168.7 582.7,168.0 585.9,167.1 589.1,165.7 592.2,164.1 595.4,162.4 598.6,161.0 601.8,159.8 605.0,158.9 608.2,158.0 611.4,157.1 614.6,155.6 617.8,153.9 621.0,152.2 624.2,150.6 627.4,148.6 630.5,146.7 633.7,145.3 636.9,143.3 640.1,141.0 643.3,139.1 646.5,137.3 649.7,135.7 652.9,134.1 656.1,132.5 659.3,130.9 662.5,129.7 665.7,128.0 668.8,126.1 672.0,124.5 675.2,123.2 678.4,121.9 681.6,120.7 684.8,119.8 688.0,118.7 691.2,117.7 694.4,116.8 697.6,115.9 700.8,114.9 704.0,113.9 707.1,112.9 710.3,111.9 713.5,110.6 716.7,109.7 719.9,108.6 723.1,107.7 726.3,106.9 729.5,106.3 732.7,105.7 735.9,105.2 739.1,104.5 742.3,103.6 745.4,102.3 748.6,101.2 751.8,100.2 755.0,99.4 758.2,99.2 761.4,98.9 764.6,98.4 767.8,97.9 771.0,97.5 774.2,97.9 777.4,98.2 780.6,98.5 783.7,98.9 786.9,99.4 790.1,99.2 793.3,98.2 796.5,97.7 799.7,97.2 802.9,96.7 806.1,97.3 809.3,97.4 812.5,97.3 815.7,97.8 818.9,98.0" fill="none" stroke="#ff6600" stroke-width="1.3" stroke-linejoin="round" />
<polyline points="24.1,383.3 27.3,382.0 30.5,380.4 33.7,378.8 36.9,377.0 40.1,375.3 43.3,373.7 46.5,372.0 49.7,370.3 52.9,368.6 56.0,366.8 59.2,365.2 62.4,364.0 65.6,362.7 68.8,361.4 72.0,360.4 75.2,359.7 78.4,359.2 81.6,358.5 84.8,357.8 88.0,357.2 91.2,356.5 94.3,356.1 97.5,356.0 100.7,355.6 103.9,355.1 107.1,354.4 110.3,353.5 113.5,352.7 116.7,351.9 119.9,351.5 123.1,351.1 126.3,350.8 129.5,350.7 132.6,350.6 135.8,350.7 139.0,351.0 142.2,351.3 145.4,351.6 148.6,352.2 151.8,352.6 155.0,353.3 158.2,353.9 161.4,354.3 164.6,354.8 167.8,355.4 170.9,356.0 174.1,356.7 177.3,357.2 180.5,357.5 183.7,357.9 186.9,358.1 190.1,357.8 193.3,357.6 196.5,357.5 199.7,357.0 202.9,356.3 206.1,355.4 209.2,354.8 212.4,354.1 215.6,353.6 218.8,352.9 222.0,351.7 225.2,350.1 228.4,348.7 231.6,347.4 234.8,346.1 238.0,344.7 241.2,343.2 244.4,341.6 247.5,339.6 250.7,337.3 253.9,334.9 257.1,332.5 260.3,329.8 263.5,327.0 266.7,324.2 269.9,321.4 273.1,318.2 276.3,315.0 279.5,312.3 282.7,309.4 285.8,306.8 289.0,304.3 292.2,301.4 295.4,298.3 298.6,295.1 301.8,291.9 305.0,288.8 308.2,285.7 311.4,282.4 314.6,278.8 317.8,275.2 321.0,271.8 324.1,268.6 327.3,265.2 330.5,261.2 333.7,257.3 336.9,253.3 340.1,250.1 343.3,246.6 346.5,244.0 349.7,241.3 352.9,238.5 356.1,236.0 359.3,233.6 362.4,231.6 365.6,230.6 368.8,230.2 372.0,230.3 375.2,230.8 378.4,231.3 381.6,231.9 384.8,232.0 388.0,232.1 391.2,231.9 394.4,231.6 397.6,231.0 400.7,230.3 403.9,229.3 407.1,227.8 410.3,226.0 413.5,224.1 416.7,222.3 419.9,220.9 423.1,219.1 426.3,217.6 429.5,216.7 432.7,216.2 435.9,215.6 439.0,215.2 442.2,214.7 445.4,213.8 448.6,212.8 451.8,211.3 455.0,210.1 458.2,209.7 461.4,208.9 464.6,208.4 467.8,207.0 471.0,206.3 474.2,205.1 477.3,204.7 480.5,204.9 483.7,204.6 486.9,204.3 490.1,203.7 493.3,202.3 496.5,200.1 499.7,197.5 502.9,194.5 506.1,191.9 509.3,189.7 512.5,187.7 515.6,185.8 518.8,183.7 522.0,181.7 525.2,179.9 528.4,178.6 531.6,177.6 534.8,176.6 538.0,175.8 541.2,175.4 544.4,174.9 547.6,174.7 550.8,174.8 553.9,174.9 557.1,174.0 560.3,172.6 563.5,171.1 566.7,169.9 569.9,169.4 573.1,168.9 576.3,168.1 579.5,167.7 582.7,167.2 585.9,166.7 589.1,166.2 592.2,165.7 595.4,164.7 598.6,163.5 601.8,161.9 605.0,160.0 608.2,157.8 611.4,155.5 614.6,152.3 617.8,149.0 621.0,145.7 624.2,142.4 627.4,138.7 630.5,135.9 633.7,133.5 636.9,130.4 640.1,127.7 643.3,125.3 646.5,123.8 649.7,122.4 652.9,121.1 656.1,119.6 659.3,118.1 662.5,117.1 665.7,115.8 668.8,114.4 672.0,113.2 675.2,111.9 678.4,110.4 681.6,108.7 684.8,107.8 688.0,107.1 691.2,106.8 694.4,106.4 697.6,105.7 700.8,105.2 704.0,105.0 707.1,104.8 710.3,104.7 713.5,104.4 716.7,103.9 719.9,103.2 723.1,102.7 726.3,102.3 729.5,102.5 732.7,102.4 735.9,102.0 739.1,102.0 742.3,102.3 745.4,102.2 748.6,102.4 751.8,102.7 755.0,103.3 758.2,104.2 761.4,103.9 764.6,103.9 767.8,104.0 771.0,103.6 774.2,103.0 777.4,102.2 780.6,101.1 783.7,100.3 786.9,99.3 790.1,97.8 793.3,96.3 796.5,94.9 799.7,93.5 802.9,92.3 806.1,92.9 809.3,93.2 812.5,93.1 815.7,93.5 818.9,93.6" fill="none" stroke="#006400" stroke-width="1.3" stroke-linejoin="round" />
<polyline points="17.7,380.0 20.9,378.9 24.1,377.8 27.3,376.5 30.5,374.8 33.7,373.2 36.9,371.2 40.1,369.4 43.3,367.8 46.5,366.1 49.7,364.2 52.9,362.5 56.0,360.6 59.2,359.0 62.4,358.0 65.6,356.9 68.8,355.6 72.0,354.6 75.2,353.9 78.4,353.2 81.6,351.9 84.8,350.8 88.0,349.8 91.2,348.7 94.3,347.9 97.5,347.7 100.7,347.3 103.9,346.8 107.1,346.3 110.3,345.9 113.5,345.7 116.7,345.6 119.9,345.8 123.1,346.3 126.3,347.2 129.5,348.1 132.6,349.4 135.8,350.7 139.0,352.1 142.2,353.5 145.4,355.2 148.6,356.9 151.8,358.9 155.0,360.6 158.2,361.4 161.4,361.9 164.6,362.4 167.8,362.8 170.9,363.0 174.1,362.8 177.3,362.6 180.5,362.1 183.7,361.5 186.9,361.0 190.1,360.2 193.3,359.0 196.5,358.1 199.7,357.2 202.9,356.4 206.1,355.6 209.2,354.7 212.4,353.7 215.6,352.6 218.8,351.1 222.0,349.1 225.2,346.9 228.4,344.7 231.6,342.4 234.8,339.8 238.0,337.2 241.2,334.5 244.4,331.5 247.5,328.4 250.7,325.0 253.9,321.9 257.1,319.1 260.3,316.1 263.5,312.8 266.7,309.6 269.9,306.3 273.1,303.2 276.3,300.3 279.5,298.1 282.7,295.7 285.8,293.4 289.0,290.8 292.2,287.7 295.4,284.6 298.6,281.5 301.8,278.2 305.0,274.7 308.2,270.9 311.4,266.7 314.6,262.2 317.8,258.2 321.0,254.6 324.1,251.3 327.3,247.6 330.5,243.1 333.7,239.1 336.9,234.8 340.1,231.7 343.3,228.7 346.5,226.8 349.7,224.2 352.9,221.6 356.1,219.6 359.3,217.9 362.4,216.4 365.6,216.1 368.8,217.1 372.0,218.6 375.2,219.7 378.4,220.9 381.6,222.0 384.8,222.8 388.0,223.6 391.2,224.3 394.4,224.9 397.6,225.1 400.7,225.2 403.9,225.1 407.1,225.2 410.3,225.4 413.5,225.2 416.7,224.9 419.9,224.1 423.1,223.1 426.3,223.4 429.5,224.1 432.7,225.3 435.9,225.0 439.0,224.7 442.2,223.0 445.4,221.5 448.6,220.3 451.8,218.3 455.0,216.2 458.2,213.8 461.4,210.3 464.6,205.7 467.8,200.6 471.0,196.1 474.2,191.7 477.3,188.0 480.5,185.5 483.7,183.0 486.9,181.2 490.1,179.2 493.3,177.8 496.5,176.9 499.7,176.2 502.9,175.3 506.1,175.4 509.3,176.2 512.5,176.6 515.6,176.8 518.8,177.1 522.0,177.0 525.2,176.1 528.4,175.0 531.6,174.4 534.8,173.7 538.0,173.6 541.2,174.0 544.4,174.3 547.6,175.3 550.8,176.1 553.9,177.0 557.1,177.5 560.3,177.6 563.5,177.1 566.7,176.2 569.9,175.5 573.1,173.7 576.3,171.2 579.5,169.2 582.7,166.7 585.9,164.4 589.1,162.2 592.2,159.7 595.4,156.9 598.6,154.8 601.8,151.7 605.0,148.5 608.2,145.6 611.4,142.7 614.6,139.2 617.8,135.7 621.0,132.2 624.2,128.5 627.4,124.3 630.5,121.1 633.7,119.0 636.9,116.3 640.1,113.7 643.3,111.0 646.5,109.0 649.7,107.0 652.9,105.6 656.1,104.4 659.3,103.8 662.5,103.3 665.7,102.1 668.8,101.4 672.0,101.1 675.2,100.8 678.4,100.4 681.6,99.7 684.8,99.5 688.0,99.4 691.2,99.9 694.4,100.0 697.6,100.4 700.8,100.6 704.0,100.7 707.1,101.6 710.3,103.2 713.5,104.9 716.7,106.5 719.9,107.6 723.1,108.9 726.3,109.9 729.5,110.4 732.7,111.1 735.9,111.4 739.1,111.5 742.3,110.6 745.4,108.8 748.6,107.2 751.8,106.0 755.0,104.5 758.2,104.0 761.4,103.2 764.6,102.3 767.8,101.4 771.0,100.0 774.2,99.1 777.4,98.2 780.6,96.7 783.7,95.4 786.9,93.8 790.1,91.8 793.3,89.6 796.5,87.6 799.7,85.8 802.9,84.0 806.1,84.7 809.3,84.9 812.5,85.0 815.7,86.4 818.9,87.6" fill="none" stroke="#000080" stroke-width="1.3" stroke-linejoin="round" />
<polyline points="17.7,375.8 20.9,374.9 24.1,374.1 27.3,372.8 30.5,371.2 33.7,369.6 36.9,367.4 40.1,365.3 43.3,363.2 46.5,360.5 49.7,357.3 52.9,354.4 56.0,351.1 59.2,348.4 62.4,346.6 65.6,344.8 68.8,343.0 72.0,342.0 75.2,341.5 78.4,341.5 81.6,341.1 84.8,340.8 88.0,340.4 91.2,340.3 94.3,341.1 97.5,342.4 100.7,343.9 103.9,344.9 107.1,345.5 110.3,346.5 113.5,348.0 116.7,349.5 119.9,351.8 123.1,353.8 126.3,355.0 129.5,356.5 132.6,358.2 135.8,359.5 139.0,360.6 142.2,361.0 145.4,362.2 148.6,363.6 151.8,364.8 155.0,366.2 158.2,366.8 161.4,366.2 164.6,365.8 167.8,366.0 170.9,366.5 174.1,366.9 177.3,366.5 180.5,365.5 183.7,364.0 186.9,362.4 190.1,360.6 193.3,358.7 196.5,356.8 199.7,354.6 202.9,351.9 206.1,349.7 209.2,347.3 212.4,344.7 215.6,342.3 218.8,339.6 222.0,336.6 225.2,334.1 228.4,331.6 231.6,328.9 234.8,325.8 238.0,322.5 241.2,320.0 244.4,317.7 247.5,315.1 250.7,312.2 253.9,309.3 257.1,306.3 260.3,302.8 263.5,299.4 266.7,296.4 269.9,293.0 273.1,289.1 276.3,285.3 279.5,282.2 282.7,279.3 285.8,277.0 289.0,274.5 292.2,271.3 295.4,267.8 298.6,264.5 301.8,261.3 305.0,257.6 308.2,253.8 311.4,249.7 314.6,245.3 317.8,241.1 321.0,237.3 324.1,234.4 327.3,231.1 330.5,225.9 333.7,221.6 336.9,217.4 340.1,214.9 343.3,211.0 346.5,208.8 349.7,205.6 352.9,202.5 356.1,200.7 359.3,199.5 362.4,198.8 365.6,199.8 368.8,202.8 372.0,206.8 375.2,211.8 378.4,217.4 381.6,222.8 384.8,226.8 388.0,229.8 391.2,232.8 394.4,237.3 397.6,240.3 400.7,243.2 403.9,243.8 407.1,244.5 410.3,243.3 413.5,242.5 416.7,242.2 419.9,241.0 423.1,238.8 426.3,236.5 429.5,233.6 432.7,229.6 435.9,224.4 439.0,218.6 442.2,211.9 445.4,204.8 448.6,198.8 451.8,192.7 455.0,187.4 458.2,182.2 461.4,177.5 464.6,173.5 467.8,170.2 471.0,168.1 474.2,166.8 477.3,166.9 480.5,167.7 483.7,168.1 486.9,169.9 490.1,171.0 493.3,171.0 496.5,170.6 499.7,170.6 502.9,170.4 506.1,172.0 509.3,174.5 512.5,176.6 515.6,178.8 518.8,180.1 522.0,181.2 525.2,182.3 528.4,183.7 531.6,185.0 534.8,185.1 538.0,184.8 541.2,183.8 544.4,182.1 547.6,181.2 550.8,179.7 553.9,178.8 557.1,177.0 560.3,174.6 563.5,171.6 566.7,169.4 569.9,166.9 573.1,163.2 576.3,159.6 579.5,156.7 582.7,154.3 585.9,152.2 589.1,150.2 592.2,147.7 595.4,144.4 598.6,142.0 601.8,139.1 605.0,136.2 608.2,133.6 611.4,129.8 614.6,124.8 617.8,119.3 621.0,114.4 624.2,110.1 627.4,105.9 630.5,102.5 633.7,100.1 636.9,97.6 640.1,95.8 643.3,94.0 646.5,93.2 649.7,92.6 652.9,92.0 656.1,91.6 659.3,91.9 662.5,92.1 665.7,92.4 668.8,92.6 672.0,92.8 675.2,93.9 678.4,96.1 681.6,98.2 684.8,101.2 688.0,104.0 691.2,107.7 694.4,110.3 697.6,111.2 700.8,112.8 704.0,114.1 707.1,115.7 710.3,116.1 713.5,116.1 716.7,115.8 719.9,114.9 723.1,113.6 726.3,112.5 729.5,112.6 732.7,112.2 735.9,111.3 739.1,110.1 742.3,108.5 745.4,106.3 748.6,103.7 751.8,101.5 755.0,98.8 758.2,98.1 761.4,96.5 764.6,95.0 767.8,93.8 771.0,91.5 774.2,89.9 777.4,88.2 780.6,86.4 783.7,85.8 786.9,85.0 790.1,83.1 793.3,80.0 796.5,77.6 799.7,75.8 802.9,74.4 806.1,77.3 809.3,80.2 812.5,82.5 815.7,85.5 818.9,88.3" fill="none" stroke="#9370db" stroke-width="1.3" stroke-linejoin="round" />
<polyline points="17.7,375.8 20.9,375.0 24.1,374.1 27.3,372.3 30.5,369.4 33.7,366.1 36.9,362.2 40.1,358.7 43.3,355.6 46.5,352.4 49.7,349.2 52.9,346.5 56.0,343.3 59.2,340.7 62.4,339.4 65.6,337.9 68.8,336.1 72.0,335.2 75.2,335.5 78.4,336.9 81.6,337.8 84.8,339.5 88.0,340.9 91.2,341.7 94.3,343.4 97.5,346.1 100.7,348.1 103.9,350.4 107.1,351.9 110.3,352.3 113.5,353.5 116.7,355.1 119.9,356.4 123.1,357.1 126.3,357.5 129.5,358.5 132.6,359.4 135.8,360.6 139.0,362.6 142.2,363.6 145.4,364.3 148.6,365.8 151.8,367.4 155.0,369.3 158.2,370.4 161.4,370.3 164.6,369.8 167.8,369.3 170.9,368.9 174.1,368.1 177.3,366.7 180.5,364.9 183.7,362.4 186.9,359.5 190.1,356.9 193.3,353.8 196.5,350.4 199.7,347.0 202.9,343.5 206.1,340.8 209.2,339.1 212.4,337.7 215.6,335.9 218.8,333.4 222.0,330.0 225.2,327.1 228.4,324.6 231.6,322.4 234.8,320.1 238.0,317.4 241.2,315.1 244.4,312.7 247.5,309.7 250.7,306.5 253.9,303.0 257.1,299.1 260.3,294.5 263.5,289.8 266.7,285.9 269.9,282.7 273.1,279.2 276.3,275.9 279.5,273.7 282.7,271.4 285.8,269.3 289.0,266.5 292.2,262.7 295.4,259.4 298.6,256.4 301.8,253.4 305.0,250.3 308.2,247.3 311.4,243.5 314.6,238.4 317.8,233.8 321.0,230.0 324.1,226.6 327.3,221.6 330.5,214.8 333.7,208.8 336.9,203.1 340.1,200.7 343.3,198.0 346.5,197.1 349.7,195.1 352.9,193.0 356.1,191.9 359.3,192.4 362.4,194.4 365.6,198.4 368.8,204.2 372.0,210.7 375.2,217.8 378.4,227.0 381.6,235.3 384.8,242.5 388.0,246.5 391.2,250.5 394.4,252.7 397.6,255.1 400.7,257.3 403.9,258.2 407.1,258.0 410.3,256.4 413.5,252.1 416.7,245.5 419.9,237.5 423.1,228.3 426.3,219.8 429.5,212.8 432.7,208.0 435.9,203.5 439.0,198.9 442.2,193.2 445.4,187.8 448.6,183.2 451.8,178.4 455.0,174.4 458.2,171.2 461.4,168.5 464.6,165.8 467.8,163.7 471.0,163.8 474.2,163.6 477.3,163.1 480.5,162.9 483.7,162.5 486.9,163.4 490.1,165.2 493.3,167.7 496.5,170.5 499.7,174.0 502.9,176.3 506.1,179.7 509.3,183.9 512.5,187.3 515.6,189.8 518.8,190.4 522.0,190.3 525.2,189.0 528.4,187.2 531.6,186.3 534.8,184.1 538.0,182.0 541.2,180.3 544.4,178.1 547.6,176.6 550.8,175.8 553.9,174.3 557.1,171.0 560.3,167.9 563.5,164.4 566.7,162.0 569.9,160.6 573.1,158.4 576.3,155.2 579.5,152.0 582.7,149.4 585.9,146.9 589.1,144.1 592.2,141.3 595.4,137.2 598.6,133.7 601.8,129.1 605.0,125.9 608.2,123.4 611.4,120.9 614.6,116.4 617.8,110.9 621.0,105.9 624.2,101.9 627.4,96.6 630.5,92.9 633.7,91.2 636.9,88.4 640.1,86.0 643.3,84.8 646.5,84.4 649.7,84.9 652.9,85.2 656.1,85.4 659.3,86.7 662.5,90.1 665.7,93.3 668.8,96.9 672.0,100.3 675.2,105.0 678.4,107.9 681.6,108.3 684.8,110.6 688.0,112.8 691.2,114.9 694.4,115.7 697.6,116.0 700.8,116.1 704.0,116.1 707.1,116.5 710.3,116.3 713.5,116.5 716.7,116.2 719.9,114.9 723.1,112.9 726.3,112.0 729.5,112.5 732.7,111.6 735.9,110.0 739.1,108.2 742.3,105.5 745.4,101.7 748.6,98.4 751.8,95.9 755.0,92.4 758.2,91.6 761.4,89.9 764.6,88.3 767.8,87.9 771.0,87.1 774.2,86.2 777.4,84.0 780.6,81.8 783.7,80.8 786.9,79.4 790.1,78.1 793.3,77.5 796.5,76.8 799.7,75.7 802.9,75.6 806.1,77.8 809.3,79.9 812.5,81.7 815.7,84.9 818.9,88.2" fill="none" stroke="#dc143c" stroke-width="1.3" stroke-linejoin="round" />
<polyline points="17.7,373.6 20.9,371.0 24.1,368.6 27.3,365.4 30.5,361.6 33.7,358.3 36.9,354.2 40.1,350.7 43.3,347.8 46.5,344.6 49.7,341.0 52.9,337.8 56.0,333.7 59.2,331.3 62.4,331.6 65.6,331.4 68.8,331.9 72.0,333.3 75.2,335.2 78.4,338.4 81.6,341.1 84.8,343.7 88.0,347.0 91.2,349.3 94.3,350.5 97.5,353.4 100.7,355.8 103.9,356.5 107.1,355.9 110.3,354.7 113.5,354.9 116.7,355.3 119.9,356.5 123.1,358.3 126.3,359.6 129.5,359.7 132.6,360.5 135.8,362.4 139.0,365.3 142.2,367.4 145.4,369.5 148.6,371.8 151.8,373.1 155.0,374.2 158.2,374.0 161.4,372.7 164.6,371.0 167.8,369.5 170.9,367.8 174.1,366.4 177.3,363.4 180.5,359.2 183.7,354.9 186.9,350.6 190.1,347.1 193.3,344.8 196.5,342.7 199.7,339.7 202.9,336.1 206.1,333.0 209.2,331.2 212.4,330.2 215.6,329.7 218.8,328.6 222.0,326.1 225.2,323.3 228.4,320.6 231.6,318.0 234.8,315.5 238.0,312.0 241.2,308.7 244.4,305.1 247.5,300.5 250.7,295.9 253.9,292.6 257.1,289.2 260.3,285.1 263.5,280.7 266.7,277.4 269.9,274.0 273.1,269.5 276.3,265.5 279.5,264.0 282.7,262.7 285.8,261.5 289.0,259.8 292.2,257.5 295.4,254.9 298.6,251.7 301.8,248.6 305.0,245.8 308.2,242.2 311.4,235.5 314.6,227.9 317.8,220.6 321.0,214.7 324.1,211.3 327.3,207.3 330.5,200.2 333.7,194.7 336.9,189.0 340.1,187.6 343.3,186.6 346.5,189.7 349.7,190.6 352.9,190.3 356.1,190.2 359.3,191.7 362.4,197.4 365.6,204.9 368.8,216.5 372.0,226.1 375.2,237.0 378.4,245.1 381.6,254.9 384.8,263.3 388.0,269.3 391.2,273.9 394.4,277.2 397.6,275.8 400.7,269.9 403.9,261.5 407.1,252.0 410.3,241.5 413.5,230.1 416.7,221.0 419.9,212.7 423.1,203.7 426.3,195.8 429.5,191.5 432.7,189.3 435.9,187.3 439.0,185.2 442.2,182.4 445.4,179.4 448.6,176.5 451.8,172.7 455.0,171.1 458.2,168.6 461.4,163.6 464.6,157.8 467.8,153.1 471.0,151.0 474.2,151.3 477.3,154.4 480.5,158.8 483.7,163.5 486.9,168.7 490.1,173.4 493.3,178.4 496.5,183.5 499.7,188.1 502.9,189.8 506.1,192.6 509.3,194.7 512.5,194.3 515.6,194.1 518.8,191.5 522.0,188.9 525.2,186.3 528.4,183.8 531.6,182.0 534.8,180.4 538.0,176.9 541.2,173.0 544.4,169.8 547.6,168.3 550.8,168.0 553.9,168.6 557.1,167.7 560.3,165.4 563.5,161.3 566.7,158.5 569.9,156.9 573.1,153.5 576.3,149.4 579.5,145.0 582.7,140.7 585.9,135.8 589.1,132.6 592.2,130.0 595.4,127.6 598.6,125.5 601.8,121.4 605.0,119.0 608.2,117.8 611.4,114.6 614.6,108.9 617.8,102.8 621.0,96.1 624.2,90.2 627.4,84.2 630.5,79.4 633.7,78.9 636.9,76.3 640.1,73.9 643.3,73.4 646.5,77.5 649.7,82.4 652.9,87.9 656.1,93.0 659.3,99.6 662.5,104.9 665.7,106.0 668.8,108.8 672.0,111.6 675.2,114.4 678.4,114.7 681.6,114.0 684.8,114.4 688.0,115.1 691.2,115.8 694.4,115.7 697.6,116.4 700.8,116.8 704.0,116.6 707.1,117.0 710.3,117.5 713.5,118.3 716.7,117.2 719.9,114.7 723.1,111.3 726.3,109.2 729.5,108.7 732.7,107.6 735.9,106.0 739.1,103.3 742.3,99.6 745.4,94.3 748.6,90.1 751.8,88.2 755.0,86.2 758.2,87.0 761.4,84.4 764.6,82.4 767.8,81.5 771.0,79.7 774.2,80.2 777.4,82.1 780.6,82.8 783.7,83.3 786.9,83.8 790.1,79.2 793.3,75.7 796.5,72.8 799.7,70.0 802.9,69.1 806.1,74.3 809.3,78.2 812.5,82.2 815.7,87.7 818.9,92.9" fill="none" stroke="#000080" stroke-width="1.3" stroke-linejoin="round" />
<polyline points="17.7,368.7 20.9,366.3 24.1,364.4 27.3,361.6 30.5,357.7 33.7,354.1 36.9,349.4 40.1,345.3 43.3,341.8 46.5,337.3 49.7,333.8 52.9,332.2 56.0,329.3 59.2,328.9 62.4,330.4 65.6,330.6 68.8,331.3 72.0,334.3 75.2,338.0 78.4,344.1 81.6,347.9 84.8,349.5 88.0,351.7 91.2,353.7 94.3,355.0 97.5,356.6 100.7,356.2 103.9,356.3 107.1,355.4 110.3,355.0 113.5,355.9 116.7,356.4 119.9,356.2 123.1,357.2 126.3,359.3 129.5,362.0 132.6,364.6 135.8,367.0 139.0,369.7 142.2,370.5 145.4,372.0 148.6,373.8 151.8,375.4 155.0,376.7 158.2,375.9 161.4,372.6 164.6,369.7 167.8,367.0 170.9,363.9 174.1,360.9 177.3,356.6 180.5,352.8 183.7,350.0 186.9,347.6 190.1,343.9 193.3,339.8 196.5,335.8 199.7,333.2 202.9,330.9 206.1,329.6 209.2,328.9 212.4,328.5 215.6,328.5 218.8,327.4 222.0,324.4 225.2,321.5 228.4,318.0 231.6,314.3 234.8,309.8 238.0,304.3 241.2,300.6 244.4,298.7 247.5,295.9 250.7,292.1 253.9,288.0 257.1,284.0 260.3,279.5 263.5,274.3 266.7,270.1 269.9,266.5 273.1,262.9 276.3,260.0 279.5,259.9 282.7,260.2 285.8,260.6 289.0,258.9 292.2,255.9 295.4,253.4 298.6,250.4 301.8,244.5 305.0,238.8 308.2,232.3 311.4,225.1 314.6,218.0 317.8,211.6 321.0,206.2 324.1,202.6 327.3,198.4 330.5,190.4 333.7,186.2 336.9,183.2 340.1,185.1 343.3,184.9 346.5,187.2 349.7,187.8 352.9,192.1 356.1,196.1 359.3,202.2 362.4,204.4 365.6,212.4 368.8,221.5 372.0,235.9 375.2,251.6 378.4,265.6 381.6,278.2 384.8,286.3 388.0,288.2 391.2,284.1 394.4,277.3 397.6,267.8 400.7,257.0 403.9,245.3 407.1,235.4 410.3,225.8 413.5,215.7 416.7,206.1 419.9,198.1 423.1,189.4 426.3,183.4 429.5,181.3 432.7,182.5 435.9,184.1 439.0,184.2 442.2,182.4 445.4,181.1 448.6,178.6 451.8,171.4 455.0,163.4 458.2,156.6 461.4,150.5 464.6,147.3 467.8,146.5 471.0,147.8 474.2,151.8 477.3,157.2 480.5,164.7 483.7,171.2 486.9,179.0 490.1,185.6 493.3,189.5 496.5,193.4 499.7,194.6 502.9,192.1 506.1,193.4 509.3,194.3 512.5,194.6 515.6,193.8 518.8,190.5 522.0,186.7 525.2,184.5 528.4,180.8 531.6,176.4 534.8,172.1 538.0,168.8 541.2,167.9 544.4,167.3 547.6,168.2 550.8,167.8 553.9,167.7 557.1,166.4 560.3,164.4 563.5,159.7 566.7,155.9 569.9,152.4 573.1,147.2 576.3,139.8 579.5,135.7 582.7,132.5 585.9,131.3 589.1,129.5 592.2,126.0 595.4,122.6 598.6,121.8 601.8,118.6 605.0,116.2 608.2,114.1 611.4,110.0 614.6,102.4 617.8,96.0 621.0,87.5 624.2,81.5 627.4,72.9 630.5,67.0 633.7,67.6 636.9,69.6 640.1,72.7 643.3,77.6 646.5,84.2 649.7,93.4 652.9,99.7 656.1,101.6 659.3,106.2 662.5,111.2 665.7,114.1 668.8,114.3 672.0,114.6 675.2,115.4 678.4,115.2 681.6,114.0 684.8,113.3 688.0,114.6 691.2,116.2 694.4,117.1 697.6,117.0 700.8,117.4 704.0,118.3 707.1,119.0 710.3,118.7 713.5,117.4 716.7,115.4 719.9,112.1 723.1,108.4 726.3,106.4 729.5,105.2 732.7,103.2 735.9,100.8 739.1,99.1 742.3,97.0 745.4,93.1 748.6,88.2 751.8,82.9 755.0,77.9 758.2,79.2 761.4,78.2 764.6,78.6 767.8,82.6 771.0,84.2 774.2,85.6 777.4,87.2 780.6,82.2 783.7,81.3 786.9,79.9 790.1,76.0 793.3,72.5 796.5,68.0 799.7,65.2 802.9,64.6 806.1,72.8 809.3,79.3 812.5,86.4 815.7,98.4 818.9,108.6" fill="none" stroke="#ff00ff" stroke-width="1.3" stroke-linejoin="round" />
<polyline points="17.7,365.6 20.9,363.8 24.1,362.5 27.3,359.6 30.5,355.1 33.7,351.0 36.9,344.6 40.1,338.9 43.3,336.1 46.5,334.0 49.7,331.1 52.9,331.1 56.0,328.5 59.2,326.5 62.4,329.2 65.6,331.6 68.8,332.7 72.0,338.1 75.2,343.9 78.4,347.6 81.6,350.7 84.8,354.6 88.0,356.0 91.2,354.6 94.3,353.4 97.5,356.1 100.7,357.0 103.9,357.1 107.1,357.1 110.3,355.9 113.5,353.7 116.7,353.6 119.9,356.0 123.1,359.4 126.3,363.2 129.5,365.7 132.6,367.4 135.8,368.8 139.0,371.1 142.2,371.6 145.4,373.4 148.6,376.2 151.8,377.5 155.0,377.3 158.2,376.4 161.4,371.9 164.6,365.8 167.8,361.6 170.9,358.2 174.1,356.5 177.3,354.9 180.5,352.7 183.7,348.2 186.9,343.0 190.1,337.8 193.3,334.7 196.5,332.7 199.7,331.3 202.9,329.3 206.1,328.2 209.2,327.8 212.4,327.7 215.6,328.2 218.8,327.9 222.0,323.9 225.2,318.9 228.4,313.4 231.6,307.8 234.8,303.0 238.0,300.1 241.2,298.6 244.4,296.8 247.5,293.1 250.7,288.7 253.9,285.0 257.1,279.8 260.3,273.3 263.5,268.4 266.7,266.0 269.9,263.0 273.1,259.3 276.3,257.6 279.5,259.6 282.7,259.3 285.8,260.0 289.0,260.4 292.2,257.3 295.4,250.3 298.6,244.0 301.8,237.1 305.0,231.1 308.2,227.1 311.4,220.7 314.6,211.8 317.8,204.2 321.0,198.3 324.1,195.4 327.3,193.8 330.5,188.5 333.7,185.3 336.9,179.7 340.1,179.7 343.3,179.4 346.5,191.0 349.7,195.9 352.9,200.9 356.1,200.7 359.3,203.9 362.4,203.7 365.6,213.9 368.8,232.1 372.0,251.6 375.2,270.1 378.4,286.4 381.6,295.9 384.8,294.5 388.0,287.1 391.2,277.7 394.4,268.0 397.6,255.6 400.7,245.4 403.9,235.9 407.1,226.4 410.3,215.0 413.5,204.7 416.7,196.7 419.9,189.6 423.1,181.0 426.3,176.5 429.5,178.3 432.7,182.0 435.9,185.0 439.0,189.4 442.2,188.2 445.4,180.6 448.6,171.1 451.8,160.5 455.0,152.8 458.2,148.9 461.4,146.5 464.6,144.5 467.8,145.8 471.0,149.3 474.2,153.7 477.3,162.3 480.5,173.2 483.7,181.2 486.9,188.1 490.1,193.1 493.3,194.4 496.5,193.8 499.7,195.0 502.9,191.5 506.1,192.2 509.3,194.9 512.5,194.9 515.6,193.2 518.8,191.6 522.0,185.6 525.2,177.6 528.4,172.8 531.6,170.7 534.8,169.2 538.0,168.1 541.2,168.4 544.4,166.8 547.6,166.0 550.8,166.8 553.9,169.1 557.1,167.1 560.3,164.0 563.5,156.5 566.7,150.2 569.9,144.6 573.1,139.9 576.3,134.8 579.5,133.6 582.7,131.2 585.9,126.9 589.1,125.3 592.2,125.2 595.4,121.6 598.6,119.8 601.8,115.8 605.0,112.6 608.2,110.3 611.4,107.6 614.6,98.1 617.8,89.9 621.0,79.6 624.2,70.1 627.4,60.7 630.5,60.7 633.7,67.9 636.9,73.0 640.1,77.7 643.3,86.2 646.5,94.2 649.7,96.8 652.9,102.8 656.1,108.3 659.3,113.1 662.5,115.5 665.7,115.1 668.8,114.8 672.0,115.0 675.2,115.7 678.4,113.8 681.6,112.9 684.8,114.0 688.0,115.2 691.2,116.0 694.4,117.6 697.6,120.0 700.8,119.5 704.0,118.1 707.1,117.9 710.3,117.4 713.5,116.5 716.7,114.9 719.9,111.3 723.1,104.7 726.3,100.9 729.5,100.8 732.7,100.3 735.9,100.7 739.1,101.9 742.3,98.2 745.4,87.7 748.6,79.9 751.8,75.8 755.0,70.6 758.2,75.8 761.4,81.1 764.6,84.8 767.8,87.3 771.0,88.7 774.2,84.7 777.4,83.2 780.6,80.8 783.7,79.2 786.9,78.8 790.1,73.8 793.3,68.2 796.5,64.8 799.7,60.7 802.9,59.4 806.1,74.9 809.3,88.3 812.5,99.6 815.7,114.7 818.9,126.4" fill="none" stroke="#dc143c" stroke-width="1.3" stroke-linejoin="round" />
<polyline points="17.7,361.4 20.9,361.4 24.1,361.4 27.3,350.9 30.5,340.4 33.7,340.7 36.9,329.5 40.1,332.8 43.3,336.9 46.5,330.2 49.7,325.9 52.9,329.5 56.0,320.0 59.2,326.9 62.4,343.5 65.6,338.3 68.8,335.0 72.0,346.9 75.2,355.6 78.4,362.3 81.6,353.5 84.8,354.9 88.0,353.5 91.2,349.0 94.3,356.1 97.5,366.8 100.7,359.4 103.9,354.2 107.1,349.0 110.3,350.2 113.5,355.6 116.7,359.2 119.9,365.9 123.1,366.1 126.3,369.2 129.5,368.0 132.6,368.0 135.8,372.5 139.0,378.0 142.2,371.3 145.4,377.0 148.6,381.9 151.8,379.2 155.0,377.0 158.2,366.8 161.4,354.7 164.6,351.4 167.8,358.0 170.9,360.2 174.1,358.0 177.3,346.9 180.5,340.2 183.7,335.7 186.9,334.0 190.1,332.4 193.3,331.2 196.5,330.2 199.7,328.5 202.9,324.0 206.1,326.9 209.2,329.3 212.4,329.7 215.6,330.9 218.8,322.6 222.0,307.2 225.2,303.8 228.4,302.6 231.6,302.9 234.8,298.6 238.0,292.7 241.2,296.2 244.4,293.8 247.5,284.3 250.7,276.5 253.9,274.1 257.1,270.1 260.3,261.5 263.5,259.6 266.7,264.8 269.9,258.9 273.1,251.5 276.3,253.2 279.5,269.4 282.7,263.7 285.8,262.5 289.0,253.2 292.2,237.7 295.4,234.4 298.6,232.0 301.8,228.0 305.0,223.5 308.2,217.5 311.4,202.6 314.6,187.6 317.8,189.7 321.0,194.2 324.1,203.0 327.3,194.2 330.5,161.2 333.7,173.6 336.9,166.4 340.1,203.0 343.3,192.6 346.5,219.2 349.7,198.3 352.9,191.4 356.1,201.9 359.3,208.8 362.4,218.3 365.6,249.2 368.8,282.5 372.0,299.1 375.2,301.2 378.4,300.1 381.6,296.7 384.8,275.3 388.0,262.3 391.2,253.9 394.4,251.6 397.6,234.9 400.7,224.2 403.9,214.7 407.1,206.4 410.3,194.5 413.5,183.6 416.7,184.1 419.9,179.5 423.1,163.1 426.3,172.4 429.5,192.1 432.7,202.6 435.9,194.5 439.0,185.2 442.2,166.7 445.4,153.9 448.6,155.1 451.8,141.5 455.0,147.0 458.2,147.0 461.4,142.2 464.6,144.6 467.8,148.2 471.0,164.3 474.2,169.1 477.3,185.2 480.5,199.3 483.7,187.9 486.9,199.3 490.1,194.0 493.3,191.7 496.5,196.2 499.7,194.0 502.9,181.4 506.1,197.5 509.3,205.6 512.5,195.9 515.6,185.9 518.8,173.0 522.0,167.8 525.2,165.4 528.4,171.9 531.6,175.2 534.8,165.5 538.0,162.6 541.2,166.7 544.4,163.8 547.6,171.4 550.8,169.3 553.9,174.5 557.1,156.5 560.3,148.4 563.5,133.9 566.7,137.5 569.9,146.8 573.1,132.8 576.3,123.0 579.5,127.6 582.7,125.9 585.9,125.4 589.1,124.7 592.2,122.3 595.4,109.5 598.6,116.8 601.8,105.7 605.0,108.7 608.2,110.9 611.4,95.9 614.6,69.3 617.8,64.5 621.0,57.6 624.2,63.3 627.4,48.8 630.5,69.3 633.7,100.4 636.9,83.1 640.1,86.6 643.3,91.4 646.5,109.7 649.7,113.3 652.9,113.3 656.1,114.0 659.3,115.2 662.5,121.7 665.7,111.5 668.8,111.5 672.0,114.8 675.2,118.9 678.4,112.5 681.6,106.8 684.8,117.2 688.0,120.5 691.2,122.9 694.4,120.8 697.6,118.4 700.8,115.1 704.0,113.4 707.1,122.0 710.3,118.4 713.5,113.9 716.7,107.0 719.9,95.3 723.1,88.9 726.3,99.5 729.5,113.5 732.7,104.2 735.9,97.3 739.1,94.9 742.3,80.9 745.4,61.2 748.6,65.2 751.8,76.6 755.0,69.0 758.2,106.7 761.4,87.7 764.6,83.9 767.8,89.1 771.0,76.3 774.2,86.5 777.4,80.3 780.6,71.5 783.7,81.5 786.9,73.9 790.1,61.6 793.3,52.3 796.5,54.7 799.7,60.9 802.9,67.5 806.1,138.9 809.3,119.4 812.5,111.1 815.7,136.4 818.9,126.3" fill="none" stroke="#dc143c" stroke-width="2.6" stroke-linejoin="round" />
<polyline points="17.7,362.1 20.9,361.4 24.1,361.4 27.3,356.1 30.5,345.7 33.7,340.6 36.9,335.1 40.1,331.2 43.3,334.8 46.5,333.5 49.7,328.1 52.9,327.7 56.0,324.7 59.2,323.4 62.4,335.2 65.6,340.9 68.8,336.6 72.0,340.9 75.2,351.2 78.4,359.0 81.6,357.9 84.8,354.2 88.0,354.2 91.2,351.2 94.3,352.6 97.5,361.5 100.7,363.1 103.9,356.8 107.1,351.6 110.3,349.6 113.5,352.9 116.7,357.4 119.9,362.5 123.1,366.0 126.3,367.7 129.5,368.6 132.6,368.0 135.8,370.3 139.0,375.3 142.2,374.7 145.4,374.2 148.6,379.5 151.8,380.6 155.0,378.1 158.2,371.9 161.4,360.8 164.6,353.0 167.8,354.7 170.9,359.1 174.1,359.1 177.3,352.4 180.5,343.5 183.7,337.9 186.9,334.8 190.1,333.2 193.3,331.8 196.5,330.7 199.7,329.4 202.9,326.3 206.1,325.5 209.2,328.1 212.4,329.5 215.6,330.3 218.8,326.8 222.0,314.9 225.2,305.5 228.4,303.2 231.6,302.8 234.8,300.7 238.0,295.6 241.2,294.4 244.4,295.0 247.5,289.1 250.7,280.4 253.9,275.3 257.1,272.1 260.3,265.8 263.5,260.6 266.7,262.2 269.9,261.9 273.1,255.2 276.3,252.4 279.5,261.3 282.7,266.5 285.8,263.1 289.0,257.8 292.2,245.5 295.4,236.1 298.6,233.2 301.8,230.0 305.0,225.7 308.2,220.5 311.4,210.1 314.6,195.1 317.8,188.7 321.0,192.0 324.1,198.6 327.3,198.6 330.5,177.7 333.7,167.4 336.9,170.0 340.1,184.7 343.3,197.8 346.5,205.9 349.7,208.8 352.9,194.9 356.1,196.7 359.3,205.3 362.4,213.5 365.6,233.7 368.8,265.8 372.0,290.8 375.2,300.2 378.4,300.6 381.6,298.4 384.8,286.0 388.0,268.8 391.2,258.1 394.4,252.8 397.6,243.2 400.7,229.6 403.9,219.5 407.1,210.6 410.3,200.5 413.5,189.0 416.7,183.8 419.9,181.8 423.1,171.3 426.3,167.8 429.5,182.3 432.7,197.4 435.9,198.6 439.0,189.9 442.2,176.0 445.4,160.3 448.6,154.5 451.8,148.3 455.0,144.2 458.2,147.0 461.4,144.6 464.6,143.4 467.8,146.4 471.0,156.2 474.2,166.7 477.3,177.2 480.5,192.3 483.7,193.6 486.9,193.6 490.1,196.7 493.3,192.9 496.5,193.9 499.7,195.1 502.9,187.7 506.1,189.4 509.3,201.6 512.5,200.7 515.6,190.9 518.8,179.5 522.0,170.4 525.2,166.6 528.4,168.6 531.6,173.5 534.8,170.3 538.0,164.1 541.2,164.7 544.4,165.2 547.6,167.6 550.8,170.4 553.9,171.9 557.1,165.5 560.3,152.4 563.5,141.1 566.7,135.7 569.9,142.2 573.1,139.8 576.3,127.9 579.5,125.3 582.7,126.7 585.9,125.7 589.1,125.1 592.2,123.5 595.4,115.9 598.6,113.2 601.8,111.2 605.0,107.2 608.2,109.8 611.4,103.4 614.6,82.6 617.8,66.9 621.0,61.1 624.2,60.5 627.4,56.1 630.5,59.1 633.7,84.9 636.9,91.7 640.1,84.9 643.3,89.0 646.5,100.5 649.7,111.5 652.9,113.3 656.1,113.6 659.3,114.6 662.5,118.4 665.7,116.6 668.8,111.5 672.0,113.2 675.2,116.9 678.4,115.7 681.6,109.6 684.8,112.0 688.0,118.9 691.2,121.7 694.4,121.8 697.6,119.6 700.8,116.7 704.0,114.2 707.1,117.7 710.3,120.2 713.5,116.1 716.7,110.4 719.9,101.2 723.1,92.1 726.3,94.2 729.5,106.5 732.7,108.9 735.9,100.8 739.1,96.1 742.3,87.9 745.4,71.1 748.6,63.2 751.8,70.9 755.0,72.8 758.2,87.9 761.4,97.2 764.6,85.8 767.8,86.5 771.0,82.7 774.2,81.4 777.4,83.4 780.6,75.9 783.7,76.5 786.9,77.7 790.1,67.8 793.3,57.0 796.5,53.5 799.7,57.8 802.9,64.2 806.1,103.2 809.3,129.1 812.5,115.2 815.7,123.8 818.9,131.4" fill="none" stroke="#006400" stroke-width="1.05" stroke-linejoin="round" />
<path d="M1.8,372.7 H12.2 L17.5,369.0 L22.8,372.7 H32.4 V382.4 H1.8 Z" fill="#fff" fill-opacity="0.88" stroke="#c8c8c8" stroke-width="1"/>
<text x="3.1" y="381.0" font-size="9.2" textLength="27.4" lengthAdjust="spacingAndGlyphs" style="font-family:'DejaVu Sans Condensed', 'DejaVu Sans', sans-serif" fill="#000" stroke="#000" stroke-width="0.15">377.03</text>
<path d="M20.8,312.7 H51.2 V322.0 H41.6 L36.3,327.3 L31.0,322.0 H20.8 Z" fill="#fff" fill-opacity="0.88" stroke="#c8c8c8" stroke-width="1"/>
<text x="22.1" y="321.0" font-size="9.2" textLength="27.2" lengthAdjust="spacingAndGlyphs" style="font-family:'DejaVu Sans Condensed', 'DejaVu Sans', sans-serif" fill="#000" stroke="#000" stroke-width="0.15">557.42</text>
<path d="M76.5,333.8 H105.8 V343.0 H96.6 L91.3,348.7 L86.0,343.0 H76.5 Z" fill="#fff" fill-opacity="0.88" stroke="#c8c8c8" stroke-width="1"/>
<text x="77.8" y="342.1" font-size="9.2" textLength="26.1" lengthAdjust="spacingAndGlyphs" style="font-family:'DejaVu Sans Condensed', 'DejaVu Sans', sans-serif" fill="#000" stroke="#000" stroke-width="0.15">449.72</text>
<path d="M82.3,373.7 H92.1 L97.4,368.0 L102.7,373.7 H111.8 V382.9 H82.3 Z" fill="#fff" fill-opacity="0.88" stroke="#c8c8c8" stroke-width="1"/>
<text x="83.6" y="382.0" font-size="9.2" textLength="26.3" lengthAdjust="spacingAndGlyphs" style="font-family:'DejaVu Sans Condensed', 'DejaVu Sans', sans-serif" fill="#000" stroke="#000" stroke-width="0.15">370.86</text>
<path d="M126.8,353.5 H156.8 V362.7 H126.8 Z" fill="#fff" fill-opacity="0.88" stroke="#c8c8c8" stroke-width="1"/>
<text x="128.1" y="361.8" font-size="9.2" textLength="26.8" lengthAdjust="spacingAndGlyphs" style="font-family:'DejaVu Sans Condensed', 'DejaVu Sans', sans-serif" fill="#000" stroke="#000" stroke-width="0.15">365.18</text>
<path d="M132.8,387.5 H143.4 L148.7,383.0 L154.0,387.5 H163.2 V396.8 H132.8 Z" fill="#fff" fill-opacity="0.88" stroke="#c8c8c8" stroke-width="1"/>
<text x="134.1" y="395.8" font-size="9.2" textLength="27.2" lengthAdjust="spacingAndGlyphs" style="font-family:'DejaVu Sans Condensed', 'DejaVu Sans', sans-serif" fill="#000" stroke="#000" stroke-width="0.15">311.70</text>
<path d="M187.2,308.0 H217.3 V317.3 H208.0 L202.7,321.7 L197.4,317.3 H187.2 Z" fill="#fff" fill-opacity="0.88" stroke="#c8c8c8" stroke-width="1"/>
<text x="188.5" y="316.3" font-size="9.2" textLength="26.9" lengthAdjust="spacingAndGlyphs" style="font-family:'DejaVu Sans Condensed', 'DejaVu Sans', sans-serif" fill="#000" stroke="#000" stroke-width="0.15">557.89</text>
<path d="M199.9,338.2 H208.7 L214.0,333.0 L219.3,338.2 H230.1 V347.6 H199.9 Z" fill="#fff" fill-opacity="0.88" stroke="#c8c8c8" stroke-width="1"/>
<text x="201.2" y="346.5" font-size="9.2" textLength="27.0" lengthAdjust="spacingAndGlyphs" style="font-family:'DejaVu Sans Condensed', 'DejaVu Sans', sans-serif" fill="#000" stroke="#000" stroke-width="0.15">519.33</text>
<path d="M225.8,309.5 H237.6 L242.9,304.5 L248.2,309.5 H255.9 V318.7 H225.8 Z" fill="#fff" fill-opacity="0.88" stroke="#c8c8c8" stroke-width="1"/>
<text x="227.1" y="317.8" font-size="9.2" textLength="26.9" lengthAdjust="spacingAndGlyphs" style="font-family:'DejaVu Sans Condensed', 'DejaVu Sans', sans-serif" fill="#000" stroke="#000" stroke-width="0.15">670.10</text>
<path d="M256.9,235.7 H287.1 V245.0 H277.9 L272.6,251.0 L267.3,245.0 H256.9 Z" fill="#fff" fill-opacity="0.88" stroke="#c8c8c8" stroke-width="1"/>
<text x="258.2" y="244.0" font-size="9.2" textLength="27.0" lengthAdjust="spacingAndGlyphs" style="font-family:'DejaVu Sans Condensed', 'DejaVu Sans', sans-serif" fill="#000" stroke="#000" stroke-width="0.15">860.78</text>
<path d="M264.0,276.8 H274.2 L279.5,270.5 L284.8,276.8 H294.1 V286.0 H264.0 Z" fill="#fff" fill-opacity="0.88" stroke="#c8c8c8" stroke-width="1"/>
<text x="265.3" y="285.1" font-size="9.2" textLength="26.9" lengthAdjust="spacingAndGlyphs" style="font-family:'DejaVu Sans Condensed', 'DejaVu Sans', sans-serif" fill="#000" stroke="#000" stroke-width="0.15">779.69</text>
<path d="M311.9,146.1 H347.0 V155.3 H335.3 L330.0,160.8 L324.7,155.3 H311.9 Z" fill="#fff" fill-opacity="0.88" stroke="#c8c8c8" stroke-width="1"/>
<text x="313.2" y="154.4" font-size="9.2" textLength="31.9" lengthAdjust="spacingAndGlyphs" style="font-family:'DejaVu Sans Condensed', 'DejaVu Sans', sans-serif" fill="#000" stroke="#000" stroke-width="0.15">1237.13</text>
<path d="M331.0,225.1 H340.9 L346.2,220.0 L351.5,225.1 H360.1 V234.3 H331.0 Z" fill="#fff" fill-opacity="0.88" stroke="#c8c8c8" stroke-width="1"/>
<text x="332.3" y="233.4" font-size="9.2" textLength="25.9" lengthAdjust="spacingAndGlyphs" style="font-family:'DejaVu Sans Condensed', 'DejaVu Sans', sans-serif" fill="#000" stroke="#000" stroke-width="0.15">997.16</text>
<path d="M356.3,307.4 H369.7 L375.0,302.5 L380.3,307.4 H386.2 V316.7 H356.3 Z" fill="#fff" fill-opacity="0.88" stroke="#c8c8c8" stroke-width="1"/>
<text x="357.6" y="315.7" font-size="9.2" textLength="26.7" lengthAdjust="spacingAndGlyphs" style="font-family:'DejaVu Sans Condensed', 'DejaVu Sans', sans-serif" fill="#000" stroke="#000" stroke-width="0.15">648.25</text>
<path d="M404.6,146.9 H438.9 V156.1 H427.9 L422.6,161.1 L417.3,156.1 H404.6 Z" fill="#fff" fill-opacity="0.88" stroke="#c8c8c8" stroke-width="1"/>
<text x="405.9" y="155.2" font-size="9.2" textLength="31.1" lengthAdjust="spacingAndGlyphs" style="font-family:'DejaVu Sans Condensed', 'DejaVu Sans', sans-serif" fill="#000" stroke="#000" stroke-width="0.15">1230.90</text>
<path d="M432.9,124.9 H467.8 V134.1 H457.4 L452.1,139.1 L446.8,134.1 H432.9 Z" fill="#fff" fill-opacity="0.88" stroke="#c8c8c8" stroke-width="1"/>
<text x="434.2" y="133.2" font-size="9.2" textLength="31.7" lengthAdjust="spacingAndGlyphs" style="font-family:'DejaVu Sans Condensed', 'DejaVu Sans', sans-serif" fill="#000" stroke="#000" stroke-width="0.15">1325.63</text>
<path d="M414.4,208.7 H427.1 L432.4,203.0 L437.7,208.7 H448.7 V217.9 H414.4 Z" fill="#fff" fill-opacity="0.88" stroke="#c8c8c8" stroke-width="1"/>
<text x="415.7" y="217.0" font-size="9.2" textLength="31.1" lengthAdjust="spacingAndGlyphs" style="font-family:'DejaVu Sans Condensed', 'DejaVu Sans', sans-serif" fill="#000" stroke="#000" stroke-width="0.15">1064.17</text>
<path d="M462.5,205.9 H474.6 L479.9,201.0 L485.2,205.9 H496.8 V215.1 H462.5 Z" fill="#fff" fill-opacity="0.88" stroke="#c8c8c8" stroke-width="1"/>
<text x="463.8" y="214.2" font-size="9.2" textLength="31.1" lengthAdjust="spacingAndGlyphs" style="font-family:'DejaVu Sans Condensed', 'DejaVu Sans', sans-serif" fill="#000" stroke="#000" stroke-width="0.15">1077.79</text>
<path d="M608.8,31.8 H644.0 V41.0 H632.6 L627.3,46.3 L622.0,41.0 H608.8 Z" fill="#fff" fill-opacity="0.88" stroke="#c8c8c8" stroke-width="1"/>
<text x="610.1" y="40.1" font-size="9.2" textLength="32.0" lengthAdjust="spacingAndGlyphs" style="font-family:'DejaVu Sans Condensed', 'DejaVu Sans', sans-serif" fill="#000" stroke="#000" stroke-width="0.15">1712.61</text>
<path d="M644.8,130.5 H656.9 L662.2,123.0 L667.5,130.5 H679.1 V139.7 H644.8 Z" fill="#fff" fill-opacity="0.88" stroke="#c8c8c8" stroke-width="1"/>
<text x="646.1" y="138.8" font-size="9.2" textLength="31.1" lengthAdjust="spacingAndGlyphs" style="font-family:'DejaVu Sans Condensed', 'DejaVu Sans', sans-serif" fill="#000" stroke="#000" stroke-width="0.15">1397.95</text>
<path d="M704.7,72.1 H739.0 V81.3 H728.0 L722.7,86.7 L717.4,81.3 H704.7 Z" fill="#fff" fill-opacity="0.88" stroke="#c8c8c8" stroke-width="1"/>
<text x="706.0" y="80.4" font-size="9.2" textLength="31.1" lengthAdjust="spacingAndGlyphs" style="font-family:'DejaVu Sans Condensed', 'DejaVu Sans', sans-serif" fill="#000" stroke="#000" stroke-width="0.15">1547.55</text>
<path d="M727.2,44.1 H762.1 V53.3 H750.6 L745.3,58.7 L740.0,53.3 H727.2 Z" fill="#fff" fill-opacity="0.88" stroke="#c8c8c8" stroke-width="1"/>
<text x="728.5" y="52.4" font-size="9.2" textLength="31.7" lengthAdjust="spacingAndGlyphs" style="font-family:'DejaVu Sans Condensed', 'DejaVu Sans', sans-serif" fill="#000" stroke="#000" stroke-width="0.15">1666.04</text>
<path d="M739.4,114.3 H752.1 L757.4,108.7 L762.7,114.3 H773.7 V123.5 H739.4 Z" fill="#fff" fill-opacity="0.88" stroke="#c8c8c8" stroke-width="1"/>
<text x="740.7" y="122.6" font-size="9.2" textLength="31.1" lengthAdjust="spacingAndGlyphs" style="font-family:'DejaVu Sans Condensed', 'DejaVu Sans', sans-serif" fill="#000" stroke="#000" stroke-width="0.15">1463.87</text>
<path d="M775.3,35.3 H809.6 V44.5 H799.0 L793.7,50.2 L788.4,44.5 H775.3 Z" fill="#fff" fill-opacity="0.88" stroke="#c8c8c8" stroke-width="1"/>
<text x="776.6" y="43.6" font-size="9.2" textLength="31.1" lengthAdjust="spacingAndGlyphs" style="font-family:'DejaVu Sans Condensed', 'DejaVu Sans', sans-serif" fill="#000" stroke="#000" stroke-width="0.15">1702.52</text>
<path d="M796.8,143.1 H832.2 V152.1 H796.8 Z" fill="#fff" fill-opacity="0.88" stroke="#c8c8c8" stroke-width="1"/>
<text x="798.1" y="151.4" font-size="9.2" textLength="32.2" lengthAdjust="spacingAndGlyphs" style="font-family:'DejaVu Sans Condensed', 'DejaVu Sans', sans-serif" fill="#000" stroke="#000" stroke-width="0.15">1342.40</text>
<rect x="17" y="30" width="208" height="11" fill="#fff"/>
<rect x="19" y="34" width="9" height="2" fill="#dc143c"/>
<text x="31.9" y="39.5" font-size="9.6" textLength="187.5" lengthAdjust="spacing" style="font-family:'DejaVu Sans', Verdana, sans-serif" fill="#000">$TA35 (Monthly) 1385.11 (13 Jul)</text>
<rect x="17" y="41.6" width="82.9" height="11" fill="#fff"/>
<rect x="19" y="45.5" width="8.6" height="1.8" fill="#000080"/>
<text x="29.7" y="50.1" font-size="9.2" textLength="68.2" lengthAdjust="spacingAndGlyphs" style="font-family:'DejaVu Sans Condensed', 'DejaVu Sans', sans-serif" fill="#000080" stroke="#000080" stroke-width="0.12">MA(10) 1525.57</text>
<rect x="17" y="52.5" width="78.0" height="11" fill="#fff"/>
<rect x="19" y="56.4" width="8.6" height="1.8" fill="#dc143c"/>
<text x="29.7" y="61.0" font-size="9.2" textLength="63.3" lengthAdjust="spacingAndGlyphs" style="font-family:'DejaVu Sans Condensed', 'DejaVu Sans', sans-serif" fill="#dc143c" stroke="#dc143c" stroke-width="0.12">MA(5) 1384.61</text>
<rect x="17" y="63.5" width="82.9" height="11" fill="#fff"/>
<rect x="19" y="67.4" width="8.6" height="1.8" fill="#006400"/>
<text x="29.7" y="72.0" font-size="9.2" textLength="68.2" lengthAdjust="spacingAndGlyphs" style="font-family:'DejaVu Sans Condensed', 'DejaVu Sans', sans-serif" fill="#006400" stroke="#006400" stroke-width="0.12">MA(40) 1522.86</text>
<rect x="17" y="74.4" width="78.0" height="11" fill="#fff"/>
<rect x="19" y="78.3" width="8.6" height="1.8" fill="#ff00ff"/>
<text x="29.7" y="82.9" font-size="9.2" textLength="63.3" lengthAdjust="spacingAndGlyphs" style="font-family:'DejaVu Sans Condensed', 'DejaVu Sans', sans-serif" fill="#ff00ff" stroke="#ff00ff" stroke-width="0.12">MA(7) 1459.39</text>
<rect x="17" y="85.3" width="82.9" height="11" fill="#fff"/>
<rect x="19" y="89.2" width="8.6" height="1.8" fill="#9370db"/>
<text x="29.7" y="93.8" font-size="9.2" textLength="68.2" lengthAdjust="spacingAndGlyphs" style="font-family:'DejaVu Sans Condensed', 'DejaVu Sans', sans-serif" fill="#9370db" stroke="#9370db" stroke-width="0.12">MA(20) 1544.84</text>
<rect x="17" y="96.2" width="82.9" height="11" fill="#fff"/>
<rect x="19" y="100.1" width="8.6" height="1.8" fill="#ff6600"/>
<text x="29.7" y="104.7" font-size="9.2" textLength="68.2" lengthAdjust="spacingAndGlyphs" style="font-family:'DejaVu Sans Condensed', 'DejaVu Sans', sans-serif" fill="#ff6600" stroke="#ff6600" stroke-width="0.12">MA(50) 1504.11</text>
<rect x="17" y="107.1" width="82.9" height="11" fill="#fff"/>
<rect x="19" y="111.0" width="8.6" height="1.8" fill="#8b4513"/>
<text x="29.7" y="115.6" font-size="9.2" textLength="68.2" lengthAdjust="spacingAndGlyphs" style="font-family:'DejaVu Sans Condensed', 'DejaVu Sans', sans-serif" fill="#8b4513" stroke="#8b4513" stroke-width="0.12">MA(70) 1511.47</text>
<rect x="17" y="118.1" width="82.9" height="11" fill="#fff"/>
<rect x="19" y="122.0" width="8.6" height="1.8" fill="#e8902a"/>
<text x="29.7" y="126.6" font-size="9.2" textLength="68.2" lengthAdjust="spacingAndGlyphs" style="font-family:'DejaVu Sans Condensed', 'DejaVu Sans', sans-serif" fill="#e8902a" stroke="#e8902a" stroke-width="0.12">MA(90) 1466.46</text>
<rect x="17" y="129.0" width="87.8" height="11" fill="#fff"/>
<rect x="19" y="132.9" width="8.6" height="1.8" fill="#778899"/>
<text x="29.7" y="137.5" font-size="9.2" textLength="73.1" lengthAdjust="spacingAndGlyphs" style="font-family:'DejaVu Sans Condensed', 'DejaVu Sans', sans-serif" fill="#778899" stroke="#778899" stroke-width="0.12">MA(100) 1434.91</text>
<rect x="17" y="139.9" width="87.8" height="11" fill="#fff"/>
<rect x="19" y="143.8" width="8.6" height="1.8" fill="#000000"/>
<text x="29.7" y="148.4" font-size="9.2" textLength="73.1" lengthAdjust="spacingAndGlyphs" style="font-family:'DejaVu Sans Condensed', 'DejaVu Sans', sans-serif" fill="#000000" stroke="#000000" stroke-width="0.12">MA(250) 1031.44</text>
<rect x="17" y="150.8" width="82.9" height="11" fill="#fff"/>
<rect x="19" y="154.7" width="8.6" height="1.8" fill="#00e5ee"/>
<text x="29.7" y="159.3" font-size="9.2" textLength="68.2" lengthAdjust="spacingAndGlyphs" style="font-family:'DejaVu Sans Condensed', 'DejaVu Sans', sans-serif" fill="#00e5ee" stroke="#00e5ee" stroke-width="0.12">MA(60) 1502.69</text>
<rect x="17" y="161.7" width="82.9" height="11" fill="#fff"/>
<rect x="19" y="165.6" width="8.6" height="1.8" fill="#00e600"/>
<text x="29.7" y="170.2" font-size="9.2" textLength="68.2" lengthAdjust="spacingAndGlyphs" style="font-family:'DejaVu Sans Condensed', 'DejaVu Sans', sans-serif" fill="#00e600" stroke="#00e600" stroke-width="0.12">MA(80) 1495.01</text>
<rect x="17" y="172.7" width="82.9" height="11" fill="#fff"/>
<rect x="19" y="176.6" width="8.6" height="1.8" fill="#000080"/>
<text x="29.7" y="181.2" font-size="9.2" textLength="68.2" lengthAdjust="spacingAndGlyphs" style="font-family:'DejaVu Sans Condensed', 'DejaVu Sans', sans-serif" fill="#000080" stroke="#000080" stroke-width="0.12">MA(30) 1547.76</text>
<rect x="17" y="183.6" width="82.9" height="11" fill="#fff"/>
<rect x="19" y="187.5" width="8.6" height="1.8" fill="#dc143c"/>
<text x="29.7" y="192.1" font-size="9.2" textLength="68.2" lengthAdjust="spacingAndGlyphs" style="font-family:'DejaVu Sans Condensed', 'DejaVu Sans', sans-serif" fill="#dc143c" stroke="#dc143c" stroke-width="0.12">MA(15) 1545.40</text>
<rect x="17" y="194.5" width="78.0" height="11" fill="#fff"/>
<rect x="19" y="198.4" width="8.6" height="1.8" fill="#006400"/>
<text x="29.7" y="203.0" font-size="9.2" textLength="63.3" lengthAdjust="spacingAndGlyphs" style="font-family:'DejaVu Sans Condensed', 'DejaVu Sans', sans-serif" fill="#006400" stroke="#006400" stroke-width="0.12">MA(2) 1363.76</text>
<rect x="17" y="205.4" width="87.8" height="11" fill="#fff"/>
<rect x="19" y="209.3" width="8.6" height="1.8" fill="#ff00ff"/>
<text x="29.7" y="213.9" font-size="9.2" textLength="73.1" lengthAdjust="spacingAndGlyphs" style="font-family:'DejaVu Sans Condensed', 'DejaVu Sans', sans-serif" fill="#ff00ff" stroke="#ff00ff" stroke-width="0.12">MA(150) 1310.43</text>
<rect x="17" y="216.3" width="78" height="11" fill="#fff"/>
<path d="M19.2,224.83999999999997 v-3.5 h1.6 v3.5 z M21.4,224.83999999999997 v-6 h1.6 v6 z M23.6,224.83999999999997 v-4.5 h1.6 v4.5 z M25.8,224.83999999999997 v-5.5 h1.6 v5.5 z" fill="#555"/>
<text x="29.9" y="224.8" font-size="9.2" textLength="62.2" lengthAdjust="spacingAndGlyphs" style="font-family:'DejaVu Sans Condensed', 'DejaVu Sans', sans-serif" fill="#555">Volume undef</text>
<rect x="17.0" y="139" width="433.2" height="4" fill="#ff0000"/>
<rect x="450.2" y="139" width="3.2" height="4" fill="#008000"/>
<rect x="453.4" y="139" width="6.4" height="4" fill="#ff0000"/>
<rect x="459.8" y="139" width="3.2" height="4" fill="#008000"/>
<rect x="463.0" y="139" width="98.9" height="4" fill="#ff0000"/>
<rect x="561.9" y="139" width="6.4" height="4" fill="#008000"/>
<rect x="568.3" y="139" width="3.2" height="4" fill="#ff0000"/>
<rect x="571.5" y="139" width="284.5" height="4" fill="#008000"/>
<rect x="17.0" y="156" width="426.8" height="4" fill="#ff0000"/>
<rect x="443.8" y="156" width="25.5" height="4" fill="#008000"/>
<rect x="469.4" y="156" width="86.2" height="4" fill="#ff0000"/>
<rect x="555.5" y="156" width="300.5" height="4" fill="#008000"/>
<rect x="17.0" y="246" width="273.6" height="4" fill="#ff0000"/>
<rect x="290.6" y="246" width="76.6" height="4" fill="#008000"/>
<rect x="367.2" y="246" width="28.7" height="4" fill="#ff0000"/>
<rect x="396.0" y="246" width="460.0" height="4" fill="#008000"/>
<rect x="17.0" y="314" width="203.4" height="4" fill="#ff0000"/>
<rect x="220.4" y="314" width="635.6" height="4" fill="#008000"/>
<line x1="151.5" y1="384.5" x2="789.0" y2="144.8" stroke="#ff0000" stroke-width="4.5" stroke-dasharray="7,3"/>
<path d="M802.7,140.3 L786.2,138.0 L791.6,151.8 Z" fill="#ff0000"/>
<line x1="17.5" y1="401" x2="17.5" y2="402" stroke="#c8c8c8" stroke-width="1"/>
<line x1="20.5" y1="401" x2="20.5" y2="402" stroke="#c8c8c8" stroke-width="1"/>
<line x1="23.5" y1="401" x2="23.5" y2="402" stroke="#c8c8c8" stroke-width="1"/>
<line x1="27.5" y1="401" x2="27.5" y2="402" stroke="#c8c8c8" stroke-width="1"/>
<line x1="30.5" y1="401" x2="30.5" y2="402" stroke="#c8c8c8" stroke-width="1"/>
<line x1="33.5" y1="401" x2="33.5" y2="404" stroke="#c8c8c8" stroke-width="1"/>
<line x1="36.5" y1="401" x2="36.5" y2="402" stroke="#c8c8c8" stroke-width="1"/>
<line x1="39.5" y1="401" x2="39.5" y2="402" stroke="#c8c8c8" stroke-width="1"/>
<line x1="42.5" y1="401" x2="42.5" y2="402" stroke="#c8c8c8" stroke-width="1"/>
<line x1="46.5" y1="401" x2="46.5" y2="402" stroke="#c8c8c8" stroke-width="1"/>
<line x1="49.5" y1="401" x2="49.5" y2="402" stroke="#c8c8c8" stroke-width="1"/>
<line x1="52.5" y1="401" x2="52.5" y2="402" stroke="#c8c8c8" stroke-width="1"/>
<line x1="55.5" y1="401" x2="55.5" y2="402" stroke="#c8c8c8" stroke-width="1"/>
<line x1="58.5" y1="401" x2="58.5" y2="402" stroke="#c8c8c8" stroke-width="1"/>
<line x1="62.5" y1="401" x2="62.5" y2="402" stroke="#c8c8c8" stroke-width="1"/>
<line x1="65.5" y1="401" x2="65.5" y2="402" stroke="#c8c8c8" stroke-width="1"/>
<line x1="68.5" y1="401" x2="68.5" y2="402" stroke="#c8c8c8" stroke-width="1"/>
<line x1="71.5" y1="401" x2="71.5" y2="404" stroke="#c8c8c8" stroke-width="1"/>
<line x1="74.5" y1="401" x2="74.5" y2="402" stroke="#c8c8c8" stroke-width="1"/>
<line x1="78.5" y1="401" x2="78.5" y2="402" stroke="#c8c8c8" stroke-width="1"/>
<line x1="81.5" y1="401" x2="81.5" y2="402" stroke="#c8c8c8" stroke-width="1"/>
<line x1="84.5" y1="401" x2="84.5" y2="402" stroke="#c8c8c8" stroke-width="1"/>
<line x1="87.5" y1="401" x2="87.5" y2="402" stroke="#c8c8c8" stroke-width="1"/>
<line x1="90.5" y1="401" x2="90.5" y2="402" stroke="#c8c8c8" stroke-width="1"/>
<line x1="94.5" y1="401" x2="94.5" y2="402" stroke="#c8c8c8" stroke-width="1"/>
<line x1="97.5" y1="401" x2="97.5" y2="402" stroke="#c8c8c8" stroke-width="1"/>
<line x1="100.5" y1="401" x2="100.5" y2="402" stroke="#c8c8c8" stroke-width="1"/>
<line x1="103.5" y1="401" x2="103.5" y2="402" stroke="#c8c8c8" stroke-width="1"/>
<line x1="106.5" y1="401" x2="106.5" y2="402" stroke="#c8c8c8" stroke-width="1"/>
<line x1="110.5" y1="401" x2="110.5" y2="404" stroke="#c8c8c8" stroke-width="1"/>
<line x1="113.5" y1="401" x2="113.5" y2="402" stroke="#c8c8c8" stroke-width="1"/>
<line x1="116.5" y1="401" x2="116.5" y2="402" stroke="#c8c8c8" stroke-width="1"/>
<line x1="119.5" y1="401" x2="119.5" y2="402" stroke="#c8c8c8" stroke-width="1"/>
<line x1="122.5" y1="401" x2="122.5" y2="402" stroke="#c8c8c8" stroke-width="1"/>
<line x1="125.5" y1="401" x2="125.5" y2="402" stroke="#c8c8c8" stroke-width="1"/>
<line x1="129.5" y1="401" x2="129.5" y2="402" stroke="#c8c8c8" stroke-width="1"/>
<line x1="132.5" y1="401" x2="132.5" y2="402" stroke="#c8c8c8" stroke-width="1"/>
<line x1="135.5" y1="401" x2="135.5" y2="402" stroke="#c8c8c8" stroke-width="1"/>
<line x1="138.5" y1="401" x2="138.5" y2="402" stroke="#c8c8c8" stroke-width="1"/>
<line x1="141.5" y1="401" x2="141.5" y2="402" stroke="#c8c8c8" stroke-width="1"/>
<line x1="145.5" y1="401" x2="145.5" y2="402" stroke="#c8c8c8" stroke-width="1"/>
<line x1="148.5" y1="401" x2="148.5" y2="404" stroke="#c8c8c8" stroke-width="1"/>
<line x1="151.5" y1="401" x2="151.5" y2="402" stroke="#c8c8c8" stroke-width="1"/>
<line x1="154.5" y1="401" x2="154.5" y2="402" stroke="#c8c8c8" stroke-width="1"/>
<line x1="157.5" y1="401" x2="157.5" y2="402" stroke="#c8c8c8" stroke-width="1"/>
<line x1="161.5" y1="401" x2="161.5" y2="402" stroke="#c8c8c8" stroke-width="1"/>
<line x1="164.5" y1="401" x2="164.5" y2="402" stroke="#c8c8c8" stroke-width="1"/>
<line x1="167.5" y1="401" x2="167.5" y2="402" stroke="#c8c8c8" stroke-width="1"/>
<line x1="170.5" y1="401" x2="170.5" y2="402" stroke="#c8c8c8" stroke-width="1"/>
<line x1="173.5" y1="401" x2="173.5" y2="402" stroke="#c8c8c8" stroke-width="1"/>
<line x1="177.5" y1="401" x2="177.5" y2="402" stroke="#c8c8c8" stroke-width="1"/>
<line x1="180.5" y1="401" x2="180.5" y2="402" stroke="#c8c8c8" stroke-width="1"/>
<line x1="183.5" y1="401" x2="183.5" y2="402" stroke="#c8c8c8" stroke-width="1"/>
<line x1="186.5" y1="401" x2="186.5" y2="404" stroke="#c8c8c8" stroke-width="1"/>
<line x1="189.5" y1="401" x2="189.5" y2="402" stroke="#c8c8c8" stroke-width="1"/>
<line x1="192.5" y1="401" x2="192.5" y2="402" stroke="#c8c8c8" stroke-width="1"/>
<line x1="196.5" y1="401" x2="196.5" y2="402" stroke="#c8c8c8" stroke-width="1"/>
<line x1="199.5" y1="401" x2="199.5" y2="402" stroke="#c8c8c8" stroke-width="1"/>
<line x1="202.5" y1="401" x2="202.5" y2="402" stroke="#c8c8c8" stroke-width="1"/>
<line x1="205.5" y1="401" x2="205.5" y2="402" stroke="#c8c8c8" stroke-width="1"/>
<line x1="208.5" y1="401" x2="208.5" y2="402" stroke="#c8c8c8" stroke-width="1"/>
<line x1="212.5" y1="401" x2="212.5" y2="402" stroke="#c8c8c8" stroke-width="1"/>
<line x1="215.5" y1="401" x2="215.5" y2="402" stroke="#c8c8c8" stroke-width="1"/>
<line x1="218.5" y1="401" x2="218.5" y2="402" stroke="#c8c8c8" stroke-width="1"/>
<line x1="221.5" y1="401" x2="221.5" y2="402" stroke="#c8c8c8" stroke-width="1"/>
<line x1="224.5" y1="401" x2="224.5" y2="404" stroke="#c8c8c8" stroke-width="1"/>
<line x1="228.5" y1="401" x2="228.5" y2="402" stroke="#c8c8c8" stroke-width="1"/>
<line x1="231.5" y1="401" x2="231.5" y2="402" stroke="#c8c8c8" stroke-width="1"/>
<line x1="234.5" y1="401" x2="234.5" y2="402" stroke="#c8c8c8" stroke-width="1"/>
<line x1="237.5" y1="401" x2="237.5" y2="402" stroke="#c8c8c8" stroke-width="1"/>
<line x1="240.5" y1="401" x2="240.5" y2="402" stroke="#c8c8c8" stroke-width="1"/>
<line x1="244.5" y1="401" x2="244.5" y2="402" stroke="#c8c8c8" stroke-width="1"/>
<line x1="247.5" y1="401" x2="247.5" y2="402" stroke="#c8c8c8" stroke-width="1"/>
<line x1="250.5" y1="401" x2="250.5" y2="402" stroke="#c8c8c8" stroke-width="1"/>
<line x1="253.5" y1="401" x2="253.5" y2="402" stroke="#c8c8c8" stroke-width="1"/>
<line x1="256.5" y1="401" x2="256.5" y2="402" stroke="#c8c8c8" stroke-width="1"/>
<line x1="260.5" y1="401" x2="260.5" y2="402" stroke="#c8c8c8" stroke-width="1"/>
<line x1="263.5" y1="401" x2="263.5" y2="404" stroke="#c8c8c8" stroke-width="1"/>
<line x1="266.5" y1="401" x2="266.5" y2="402" stroke="#c8c8c8" stroke-width="1"/>
<line x1="269.5" y1="401" x2="269.5" y2="402" stroke="#c8c8c8" stroke-width="1"/>
<line x1="272.5" y1="401" x2="272.5" y2="402" stroke="#c8c8c8" stroke-width="1"/>
<line x1="275.5" y1="401" x2="275.5" y2="402" stroke="#c8c8c8" stroke-width="1"/>
<line x1="279.5" y1="401" x2="279.5" y2="402" stroke="#c8c8c8" stroke-width="1"/>
<line x1="282.5" y1="401" x2="282.5" y2="402" stroke="#c8c8c8" stroke-width="1"/>
<line x1="285.5" y1="401" x2="285.5" y2="402" stroke="#c8c8c8" stroke-width="1"/>
<line x1="288.5" y1="401" x2="288.5" y2="402" stroke="#c8c8c8" stroke-width="1"/>
<line x1="291.5" y1="401" x2="291.5" y2="402" stroke="#c8c8c8" stroke-width="1"/>
<line x1="295.5" y1="401" x2="295.5" y2="402" stroke="#c8c8c8" stroke-width="1"/>
<line x1="298.5" y1="401" x2="298.5" y2="402" stroke="#c8c8c8" stroke-width="1"/>
<line x1="301.5" y1="401" x2="301.5" y2="404" stroke="#c8c8c8" stroke-width="1"/>
<line x1="304.5" y1="401" x2="304.5" y2="402" stroke="#c8c8c8" stroke-width="1"/>
<line x1="307.5" y1="401" x2="307.5" y2="402" stroke="#c8c8c8" stroke-width="1"/>
<line x1="311.5" y1="401" x2="311.5" y2="402" stroke="#c8c8c8" stroke-width="1"/>
<line x1="314.5" y1="401" x2="314.5" y2="402" stroke="#c8c8c8" stroke-width="1"/>
<line x1="317.5" y1="401" x2="317.5" y2="402" stroke="#c8c8c8" stroke-width="1"/>
<line x1="320.5" y1="401" x2="320.5" y2="402" stroke="#c8c8c8" stroke-width="1"/>
<line x1="323.5" y1="401" x2="323.5" y2="402" stroke="#c8c8c8" stroke-width="1"/>
<line x1="327.5" y1="401" x2="327.5" y2="402" stroke="#c8c8c8" stroke-width="1"/>
<line x1="330.5" y1="401" x2="330.5" y2="402" stroke="#c8c8c8" stroke-width="1"/>
<line x1="333.5" y1="401" x2="333.5" y2="402" stroke="#c8c8c8" stroke-width="1"/>
<line x1="336.5" y1="401" x2="336.5" y2="402" stroke="#c8c8c8" stroke-width="1"/>
<line x1="339.5" y1="401" x2="339.5" y2="404" stroke="#c8c8c8" stroke-width="1"/>
<line x1="342.5" y1="401" x2="342.5" y2="402" stroke="#c8c8c8" stroke-width="1"/>
<line x1="346.5" y1="401" x2="346.5" y2="402" stroke="#c8c8c8" stroke-width="1"/>
<line x1="349.5" y1="401" x2="349.5" y2="402" stroke="#c8c8c8" stroke-width="1"/>
<line x1="352.5" y1="401" x2="352.5" y2="402" stroke="#c8c8c8" stroke-width="1"/>
<line x1="355.5" y1="401" x2="355.5" y2="402" stroke="#c8c8c8" stroke-width="1"/>
<line x1="358.5" y1="401" x2="358.5" y2="402" stroke="#c8c8c8" stroke-width="1"/>
<line x1="362.5" y1="401" x2="362.5" y2="402" stroke="#c8c8c8" stroke-width="1"/>
<line x1="365.5" y1="401" x2="365.5" y2="402" stroke="#c8c8c8" stroke-width="1"/>
<line x1="368.5" y1="401" x2="368.5" y2="402" stroke="#c8c8c8" stroke-width="1"/>
<line x1="371.5" y1="401" x2="371.5" y2="402" stroke="#c8c8c8" stroke-width="1"/>
<line x1="374.5" y1="401" x2="374.5" y2="402" stroke="#c8c8c8" stroke-width="1"/>
<line x1="378.5" y1="401" x2="378.5" y2="404" stroke="#c8c8c8" stroke-width="1"/>
<line x1="381.5" y1="401" x2="381.5" y2="402" stroke="#c8c8c8" stroke-width="1"/>
<line x1="384.5" y1="401" x2="384.5" y2="402" stroke="#c8c8c8" stroke-width="1"/>
<line x1="387.5" y1="401" x2="387.5" y2="402" stroke="#c8c8c8" stroke-width="1"/>
<line x1="390.5" y1="401" x2="390.5" y2="402" stroke="#c8c8c8" stroke-width="1"/>
<line x1="394.5" y1="401" x2="394.5" y2="402" stroke="#c8c8c8" stroke-width="1"/>
<line x1="397.5" y1="401" x2="397.5" y2="402" stroke="#c8c8c8" stroke-width="1"/>
<line x1="400.5" y1="401" x2="400.5" y2="402" stroke="#c8c8c8" stroke-width="1"/>
<line x1="403.5" y1="401" x2="403.5" y2="402" stroke="#c8c8c8" stroke-width="1"/>
<line x1="406.5" y1="401" x2="406.5" y2="402" stroke="#c8c8c8" stroke-width="1"/>
<line x1="410.5" y1="401" x2="410.5" y2="402" stroke="#c8c8c8" stroke-width="1"/>
<line x1="413.5" y1="401" x2="413.5" y2="402" stroke="#c8c8c8" stroke-width="1"/>
<line x1="416.5" y1="401" x2="416.5" y2="404" stroke="#c8c8c8" stroke-width="1"/>
<line x1="419.5" y1="401" x2="419.5" y2="402" stroke="#c8c8c8" stroke-width="1"/>
<line x1="422.5" y1="401" x2="422.5" y2="402" stroke="#c8c8c8" stroke-width="1"/>
<line x1="425.5" y1="401" x2="425.5" y2="402" stroke="#c8c8c8" stroke-width="1"/>
<line x1="429.5" y1="401" x2="429.5" y2="402" stroke="#c8c8c8" stroke-width="1"/>
<line x1="432.5" y1="401" x2="432.5" y2="402" stroke="#c8c8c8" stroke-width="1"/>
<line x1="435.5" y1="401" x2="435.5" y2="402" stroke="#c8c8c8" stroke-width="1"/>
<line x1="438.5" y1="401" x2="438.5" y2="402" stroke="#c8c8c8" stroke-width="1"/>
<line x1="441.5" y1="401" x2="441.5" y2="402" stroke="#c8c8c8" stroke-width="1"/>
<line x1="445.5" y1="401" x2="445.5" y2="402" stroke="#c8c8c8" stroke-width="1"/>
<line x1="448.5" y1="401" x2="448.5" y2="402" stroke="#c8c8c8" stroke-width="1"/>
<line x1="451.5" y1="401" x2="451.5" y2="402" stroke="#c8c8c8" stroke-width="1"/>
<line x1="454.5" y1="401" x2="454.5" y2="404" stroke="#c8c8c8" stroke-width="1"/>
<line x1="457.5" y1="401" x2="457.5" y2="402" stroke="#c8c8c8" stroke-width="1"/>
<line x1="461.5" y1="401" x2="461.5" y2="402" stroke="#c8c8c8" stroke-width="1"/>
<line x1="464.5" y1="401" x2="464.5" y2="402" stroke="#c8c8c8" stroke-width="1"/>
<line x1="467.5" y1="401" x2="467.5" y2="402" stroke="#c8c8c8" stroke-width="1"/>
<line x1="470.5" y1="401" x2="470.5" y2="402" stroke="#c8c8c8" stroke-width="1"/>
<line x1="473.5" y1="401" x2="473.5" y2="402" stroke="#c8c8c8" stroke-width="1"/>
<line x1="477.5" y1="401" x2="477.5" y2="402" stroke="#c8c8c8" stroke-width="1"/>
<line x1="480.5" y1="401" x2="480.5" y2="402" stroke="#c8c8c8" stroke-width="1"/>
<line x1="483.5" y1="401" x2="483.5" y2="402" stroke="#c8c8c8" stroke-width="1"/>
<line x1="486.5" y1="401" x2="486.5" y2="402" stroke="#c8c8c8" stroke-width="1"/>
<line x1="489.5" y1="401" x2="489.5" y2="402" stroke="#c8c8c8" stroke-width="1"/>
<line x1="493.5" y1="401" x2="493.5" y2="404" stroke="#c8c8c8" stroke-width="1"/>
<line x1="496.5" y1="401" x2="496.5" y2="402" stroke="#c8c8c8" stroke-width="1"/>
<line x1="499.5" y1="401" x2="499.5" y2="402" stroke="#c8c8c8" stroke-width="1"/>
<line x1="502.5" y1="401" x2="502.5" y2="402" stroke="#c8c8c8" stroke-width="1"/>
<line x1="505.5" y1="401" x2="505.5" y2="402" stroke="#c8c8c8" stroke-width="1"/>
<line x1="508.5" y1="401" x2="508.5" y2="402" stroke="#c8c8c8" stroke-width="1"/>
<line x1="512.5" y1="401" x2="512.5" y2="402" stroke="#c8c8c8" stroke-width="1"/>
<line x1="515.5" y1="401" x2="515.5" y2="402" stroke="#c8c8c8" stroke-width="1"/>
<line x1="518.5" y1="401" x2="518.5" y2="402" stroke="#c8c8c8" stroke-width="1"/>
<line x1="521.5" y1="401" x2="521.5" y2="402" stroke="#c8c8c8" stroke-width="1"/>
<line x1="524.5" y1="401" x2="524.5" y2="402" stroke="#c8c8c8" stroke-width="1"/>
<line x1="528.5" y1="401" x2="528.5" y2="402" stroke="#c8c8c8" stroke-width="1"/>
<line x1="531.5" y1="401" x2="531.5" y2="404" stroke="#c8c8c8" stroke-width="1"/>
<line x1="534.5" y1="401" x2="534.5" y2="402" stroke="#c8c8c8" stroke-width="1"/>
<line x1="537.5" y1="401" x2="537.5" y2="402" stroke="#c8c8c8" stroke-width="1"/>
<line x1="540.5" y1="401" x2="540.5" y2="402" stroke="#c8c8c8" stroke-width="1"/>
<line x1="544.5" y1="401" x2="544.5" y2="402" stroke="#c8c8c8" stroke-width="1"/>
<line x1="547.5" y1="401" x2="547.5" y2="402" stroke="#c8c8c8" stroke-width="1"/>
<line x1="550.5" y1="401" x2="550.5" y2="402" stroke="#c8c8c8" stroke-width="1"/>
<line x1="553.5" y1="401" x2="553.5" y2="402" stroke="#c8c8c8" stroke-width="1"/>
<line x1="556.5" y1="401" x2="556.5" y2="402" stroke="#c8c8c8" stroke-width="1"/>
<line x1="560.5" y1="401" x2="560.5" y2="402" stroke="#c8c8c8" stroke-width="1"/>
<line x1="563.5" y1="401" x2="563.5" y2="402" stroke="#c8c8c8" stroke-width="1"/>
<line x1="566.5" y1="401" x2="566.5" y2="402" stroke="#c8c8c8" stroke-width="1"/>
<line x1="569.5" y1="401" x2="569.5" y2="404" stroke="#c8c8c8" stroke-width="1"/>
<line x1="572.5" y1="401" x2="572.5" y2="402" stroke="#c8c8c8" stroke-width="1"/>
<line x1="575.5" y1="401" x2="575.5" y2="402" stroke="#c8c8c8" stroke-width="1"/>
<line x1="579.5" y1="401" x2="579.5" y2="402" stroke="#c8c8c8" stroke-width="1"/>
<line x1="582.5" y1="401" x2="582.5" y2="402" stroke="#c8c8c8" stroke-width="1"/>
<line x1="585.5" y1="401" x2="585.5" y2="402" stroke="#c8c8c8" stroke-width="1"/>
<line x1="588.5" y1="401" x2="588.5" y2="402" stroke="#c8c8c8" stroke-width="1"/>
<line x1="591.5" y1="401" x2="591.5" y2="402" stroke="#c8c8c8" stroke-width="1"/>
<line x1="595.5" y1="401" x2="595.5" y2="402" stroke="#c8c8c8" stroke-width="1"/>
<line x1="598.5" y1="401" x2="598.5" y2="402" stroke="#c8c8c8" stroke-width="1"/>
<line x1="601.5" y1="401" x2="601.5" y2="402" stroke="#c8c8c8" stroke-width="1"/>
<line x1="604.5" y1="401" x2="604.5" y2="402" stroke="#c8c8c8" stroke-width="1"/>
<line x1="607.5" y1="401" x2="607.5" y2="404" stroke="#c8c8c8" stroke-width="1"/>
<line x1="611.5" y1="401" x2="611.5" y2="402" stroke="#c8c8c8" stroke-width="1"/>
<line x1="614.5" y1="401" x2="614.5" y2="402" stroke="#c8c8c8" stroke-width="1"/>
<line x1="617.5" y1="401" x2="617.5" y2="402" stroke="#c8c8c8" stroke-width="1"/>
<line x1="620.5" y1="401" x2="620.5" y2="402" stroke="#c8c8c8" stroke-width="1"/>
<line x1="623.5" y1="401" x2="623.5" y2="402" stroke="#c8c8c8" stroke-width="1"/>
<line x1="627.5" y1="401" x2="627.5" y2="402" stroke="#c8c8c8" stroke-width="1"/>
<line x1="630.5" y1="401" x2="630.5" y2="402" stroke="#c8c8c8" stroke-width="1"/>
<line x1="633.5" y1="401" x2="633.5" y2="402" stroke="#c8c8c8" stroke-width="1"/>
<line x1="636.5" y1="401" x2="636.5" y2="402" stroke="#c8c8c8" stroke-width="1"/>
<line x1="639.5" y1="401" x2="639.5" y2="402" stroke="#c8c8c8" stroke-width="1"/>
<line x1="643.5" y1="401" x2="643.5" y2="402" stroke="#c8c8c8" stroke-width="1"/>
<line x1="646.5" y1="401" x2="646.5" y2="404" stroke="#c8c8c8" stroke-width="1"/>
<line x1="649.5" y1="401" x2="649.5" y2="402" stroke="#c8c8c8" stroke-width="1"/>
<line x1="652.5" y1="401" x2="652.5" y2="402" stroke="#c8c8c8" stroke-width="1"/>
<line x1="655.5" y1="401" x2="655.5" y2="402" stroke="#c8c8c8" stroke-width="1"/>
<line x1="658.5" y1="401" x2="658.5" y2="402" stroke="#c8c8c8" stroke-width="1"/>
<line x1="662.5" y1="401" x2="662.5" y2="402" stroke="#c8c8c8" stroke-width="1"/>
<line x1="665.5" y1="401" x2="665.5" y2="402" stroke="#c8c8c8" stroke-width="1"/>
<line x1="668.5" y1="401" x2="668.5" y2="402" stroke="#c8c8c8" stroke-width="1"/>
<line x1="671.5" y1="401" x2="671.5" y2="402" stroke="#c8c8c8" stroke-width="1"/>
<line x1="674.5" y1="401" x2="674.5" y2="402" stroke="#c8c8c8" stroke-width="1"/>
<line x1="678.5" y1="401" x2="678.5" y2="402" stroke="#c8c8c8" stroke-width="1"/>
<line x1="681.5" y1="401" x2="681.5" y2="402" stroke="#c8c8c8" stroke-width="1"/>
<line x1="684.5" y1="401" x2="684.5" y2="404" stroke="#c8c8c8" stroke-width="1"/>
<line x1="687.5" y1="401" x2="687.5" y2="402" stroke="#c8c8c8" stroke-width="1"/>
<line x1="690.5" y1="401" x2="690.5" y2="402" stroke="#c8c8c8" stroke-width="1"/>
<line x1="694.5" y1="401" x2="694.5" y2="402" stroke="#c8c8c8" stroke-width="1"/>
<line x1="697.5" y1="401" x2="697.5" y2="402" stroke="#c8c8c8" stroke-width="1"/>
<line x1="700.5" y1="401" x2="700.5" y2="402" stroke="#c8c8c8" stroke-width="1"/>
<line x1="703.5" y1="401" x2="703.5" y2="402" stroke="#c8c8c8" stroke-width="1"/>
<line x1="706.5" y1="401" x2="706.5" y2="402" stroke="#c8c8c8" stroke-width="1"/>
<line x1="710.5" y1="401" x2="710.5" y2="402" stroke="#c8c8c8" stroke-width="1"/>
<line x1="713.5" y1="401" x2="713.5" y2="402" stroke="#c8c8c8" stroke-width="1"/>
<line x1="716.5" y1="401" x2="716.5" y2="402" stroke="#c8c8c8" stroke-width="1"/>
<line x1="719.5" y1="401" x2="719.5" y2="402" stroke="#c8c8c8" stroke-width="1"/>
<line x1="722.5" y1="401" x2="722.5" y2="404" stroke="#c8c8c8" stroke-width="1"/>
<line x1="725.5" y1="401" x2="725.5" y2="402" stroke="#c8c8c8" stroke-width="1"/>
<line x1="729.5" y1="401" x2="729.5" y2="402" stroke="#c8c8c8" stroke-width="1"/>
<line x1="732.5" y1="401" x2="732.5" y2="402" stroke="#c8c8c8" stroke-width="1"/>
<line x1="735.5" y1="401" x2="735.5" y2="402" stroke="#c8c8c8" stroke-width="1"/>
<line x1="738.5" y1="401" x2="738.5" y2="402" stroke="#c8c8c8" stroke-width="1"/>
<line x1="741.5" y1="401" x2="741.5" y2="402" stroke="#c8c8c8" stroke-width="1"/>
<line x1="745.5" y1="401" x2="745.5" y2="402" stroke="#c8c8c8" stroke-width="1"/>
<line x1="748.5" y1="401" x2="748.5" y2="402" stroke="#c8c8c8" stroke-width="1"/>
<line x1="751.5" y1="401" x2="751.5" y2="402" stroke="#c8c8c8" stroke-width="1"/>
<line x1="754.5" y1="401" x2="754.5" y2="402" stroke="#c8c8c8" stroke-width="1"/>
<line x1="757.5" y1="401" x2="757.5" y2="402" stroke="#c8c8c8" stroke-width="1"/>
<line x1="761.5" y1="401" x2="761.5" y2="404" stroke="#c8c8c8" stroke-width="1"/>
<line x1="764.5" y1="401" x2="764.5" y2="402" stroke="#c8c8c8" stroke-width="1"/>
<line x1="767.5" y1="401" x2="767.5" y2="402" stroke="#c8c8c8" stroke-width="1"/>
<line x1="770.5" y1="401" x2="770.5" y2="402" stroke="#c8c8c8" stroke-width="1"/>
<line x1="773.5" y1="401" x2="773.5" y2="402" stroke="#c8c8c8" stroke-width="1"/>
<line x1="777.5" y1="401" x2="777.5" y2="402" stroke="#c8c8c8" stroke-width="1"/>
<line x1="780.5" y1="401" x2="780.5" y2="402" stroke="#c8c8c8" stroke-width="1"/>
<line x1="783.5" y1="401" x2="783.5" y2="402" stroke="#c8c8c8" stroke-width="1"/>
<line x1="786.5" y1="401" x2="786.5" y2="402" stroke="#c8c8c8" stroke-width="1"/>
<line x1="789.5" y1="401" x2="789.5" y2="402" stroke="#c8c8c8" stroke-width="1"/>
<line x1="793.5" y1="401" x2="793.5" y2="402" stroke="#c8c8c8" stroke-width="1"/>
<line x1="796.5" y1="401" x2="796.5" y2="402" stroke="#c8c8c8" stroke-width="1"/>
<line x1="799.5" y1="401" x2="799.5" y2="404" stroke="#c8c8c8" stroke-width="1"/>
<line x1="802.5" y1="401" x2="802.5" y2="402" stroke="#c8c8c8" stroke-width="1"/>
<line x1="805.5" y1="401" x2="805.5" y2="402" stroke="#c8c8c8" stroke-width="1"/>
<line x1="808.5" y1="401" x2="808.5" y2="402" stroke="#c8c8c8" stroke-width="1"/>
<line x1="812.5" y1="401" x2="812.5" y2="402" stroke="#c8c8c8" stroke-width="1"/>
<line x1="815.5" y1="401" x2="815.5" y2="402" stroke="#c8c8c8" stroke-width="1"/>
<line x1="818.5" y1="401" x2="818.5" y2="402" stroke="#c8c8c8" stroke-width="1"/>
<line x1="821.5" y1="401" x2="821.5" y2="402" stroke="#c8c8c8" stroke-width="1"/>
<line x1="824.5" y1="401" x2="824.5" y2="402" stroke="#c8c8c8" stroke-width="1"/>
<line x1="828.5" y1="401" x2="828.5" y2="402" stroke="#c8c8c8" stroke-width="1"/>
<line x1="831.5" y1="401" x2="831.5" y2="402" stroke="#c8c8c8" stroke-width="1"/>
<line x1="834.5" y1="401" x2="834.5" y2="402" stroke="#c8c8c8" stroke-width="1"/>
<line x1="837.5" y1="401" x2="837.5" y2="404" stroke="#c8c8c8" stroke-width="1"/>
<line x1="840.5" y1="401" x2="840.5" y2="402" stroke="#c8c8c8" stroke-width="1"/>
<line x1="844.5" y1="401" x2="844.5" y2="402" stroke="#c8c8c8" stroke-width="1"/>
<line x1="17.5" y1="412" x2="17.5" y2="413" stroke="#c8c8c8" stroke-width="1"/>
<line x1="20.5" y1="412" x2="20.5" y2="413" stroke="#c8c8c8" stroke-width="1"/>
<line x1="23.5" y1="412" x2="23.5" y2="413" stroke="#c8c8c8" stroke-width="1"/>
<line x1="27.5" y1="412" x2="27.5" y2="413" stroke="#c8c8c8" stroke-width="1"/>
<line x1="30.5" y1="412" x2="30.5" y2="413" stroke="#c8c8c8" stroke-width="1"/>
<line x1="33.5" y1="410" x2="33.5" y2="413" stroke="#c8c8c8" stroke-width="1"/>
<line x1="36.5" y1="412" x2="36.5" y2="413" stroke="#c8c8c8" stroke-width="1"/>
<line x1="39.5" y1="412" x2="39.5" y2="413" stroke="#c8c8c8" stroke-width="1"/>
<line x1="42.5" y1="412" x2="42.5" y2="413" stroke="#c8c8c8" stroke-width="1"/>
<line x1="46.5" y1="412" x2="46.5" y2="413" stroke="#c8c8c8" stroke-width="1"/>
<line x1="49.5" y1="412" x2="49.5" y2="413" stroke="#c8c8c8" stroke-width="1"/>
<line x1="52.5" y1="412" x2="52.5" y2="413" stroke="#c8c8c8" stroke-width="1"/>
<line x1="55.5" y1="412" x2="55.5" y2="413" stroke="#c8c8c8" stroke-width="1"/>
<line x1="58.5" y1="412" x2="58.5" y2="413" stroke="#c8c8c8" stroke-width="1"/>
<line x1="62.5" y1="412" x2="62.5" y2="413" stroke="#c8c8c8" stroke-width="1"/>
<line x1="65.5" y1="412" x2="65.5" y2="413" stroke="#c8c8c8" stroke-width="1"/>
<line x1="68.5" y1="412" x2="68.5" y2="413" stroke="#c8c8c8" stroke-width="1"/>
<line x1="71.5" y1="410" x2="71.5" y2="413" stroke="#c8c8c8" stroke-width="1"/>
<line x1="74.5" y1="412" x2="74.5" y2="413" stroke="#c8c8c8" stroke-width="1"/>
<line x1="78.5" y1="412" x2="78.5" y2="413" stroke="#c8c8c8" stroke-width="1"/>
<line x1="81.5" y1="412" x2="81.5" y2="413" stroke="#c8c8c8" stroke-width="1"/>
<line x1="84.5" y1="412" x2="84.5" y2="413" stroke="#c8c8c8" stroke-width="1"/>
<line x1="87.5" y1="412" x2="87.5" y2="413" stroke="#c8c8c8" stroke-width="1"/>
<line x1="90.5" y1="412" x2="90.5" y2="413" stroke="#c8c8c8" stroke-width="1"/>
<line x1="94.5" y1="412" x2="94.5" y2="413" stroke="#c8c8c8" stroke-width="1"/>
<line x1="97.5" y1="412" x2="97.5" y2="413" stroke="#c8c8c8" stroke-width="1"/>
<line x1="100.5" y1="412" x2="100.5" y2="413" stroke="#c8c8c8" stroke-width="1"/>
<line x1="103.5" y1="412" x2="103.5" y2="413" stroke="#c8c8c8" stroke-width="1"/>
<line x1="106.5" y1="412" x2="106.5" y2="413" stroke="#c8c8c8" stroke-width="1"/>
<line x1="110.5" y1="410" x2="110.5" y2="413" stroke="#c8c8c8" stroke-width="1"/>
<line x1="113.5" y1="412" x2="113.5" y2="413" stroke="#c8c8c8" stroke-width="1"/>
<line x1="116.5" y1="412" x2="116.5" y2="413" stroke="#c8c8c8" stroke-width="1"/>
<line x1="119.5" y1="412" x2="119.5" y2="413" stroke="#c8c8c8" stroke-width="1"/>
<line x1="122.5" y1="412" x2="122.5" y2="413" stroke="#c8c8c8" stroke-width="1"/>
<line x1="125.5" y1="412" x2="125.5" y2="413" stroke="#c8c8c8" stroke-width="1"/>
<line x1="129.5" y1="412" x2="129.5" y2="413" stroke="#c8c8c8" stroke-width="1"/>
<line x1="132.5" y1="412" x2="132.5" y2="413" stroke="#c8c8c8" stroke-width="1"/>
<line x1="135.5" y1="412" x2="135.5" y2="413" stroke="#c8c8c8" stroke-width="1"/>
<line x1="138.5" y1="412" x2="138.5" y2="413" stroke="#c8c8c8" stroke-width="1"/>
<line x1="141.5" y1="412" x2="141.5" y2="413" stroke="#c8c8c8" stroke-width="1"/>
<line x1="145.5" y1="412" x2="145.5" y2="413" stroke="#c8c8c8" stroke-width="1"/>
<line x1="148.5" y1="410" x2="148.5" y2="413" stroke="#c8c8c8" stroke-width="1"/>
<line x1="151.5" y1="412" x2="151.5" y2="413" stroke="#c8c8c8" stroke-width="1"/>
<line x1="154.5" y1="412" x2="154.5" y2="413" stroke="#c8c8c8" stroke-width="1"/>
<line x1="157.5" y1="412" x2="157.5" y2="413" stroke="#c8c8c8" stroke-width="1"/>
<line x1="161.5" y1="412" x2="161.5" y2="413" stroke="#c8c8c8" stroke-width="1"/>
<line x1="164.5" y1="412" x2="164.5" y2="413" stroke="#c8c8c8" stroke-width="1"/>
<line x1="167.5" y1="412" x2="167.5" y2="413" stroke="#c8c8c8" stroke-width="1"/>
<line x1="170.5" y1="412" x2="170.5" y2="413" stroke="#c8c8c8" stroke-width="1"/>
<line x1="173.5" y1="412" x2="173.5" y2="413" stroke="#c8c8c8" stroke-width="1"/>
<line x1="177.5" y1="412" x2="177.5" y2="413" stroke="#c8c8c8" stroke-width="1"/>
<line x1="180.5" y1="412" x2="180.5" y2="413" stroke="#c8c8c8" stroke-width="1"/>
<line x1="183.5" y1="412" x2="183.5" y2="413" stroke="#c8c8c8" stroke-width="1"/>
<line x1="186.5" y1="410" x2="186.5" y2="413" stroke="#c8c8c8" stroke-width="1"/>
<line x1="189.5" y1="412" x2="189.5" y2="413" stroke="#c8c8c8" stroke-width="1"/>
<line x1="192.5" y1="412" x2="192.5" y2="413" stroke="#c8c8c8" stroke-width="1"/>
<line x1="196.5" y1="412" x2="196.5" y2="413" stroke="#c8c8c8" stroke-width="1"/>
<line x1="199.5" y1="412" x2="199.5" y2="413" stroke="#c8c8c8" stroke-width="1"/>
<line x1="202.5" y1="412" x2="202.5" y2="413" stroke="#c8c8c8" stroke-width="1"/>
<line x1="205.5" y1="412" x2="205.5" y2="413" stroke="#c8c8c8" stroke-width="1"/>
<line x1="208.5" y1="412" x2="208.5" y2="413" stroke="#c8c8c8" stroke-width="1"/>
<line x1="212.5" y1="412" x2="212.5" y2="413" stroke="#c8c8c8" stroke-width="1"/>
<line x1="215.5" y1="412" x2="215.5" y2="413" stroke="#c8c8c8" stroke-width="1"/>
<line x1="218.5" y1="412" x2="218.5" y2="413" stroke="#c8c8c8" stroke-width="1"/>
<line x1="221.5" y1="412" x2="221.5" y2="413" stroke="#c8c8c8" stroke-width="1"/>
<line x1="224.5" y1="410" x2="224.5" y2="413" stroke="#c8c8c8" stroke-width="1"/>
<line x1="228.5" y1="412" x2="228.5" y2="413" stroke="#c8c8c8" stroke-width="1"/>
<line x1="231.5" y1="412" x2="231.5" y2="413" stroke="#c8c8c8" stroke-width="1"/>
<line x1="234.5" y1="412" x2="234.5" y2="413" stroke="#c8c8c8" stroke-width="1"/>
<line x1="237.5" y1="412" x2="237.5" y2="413" stroke="#c8c8c8" stroke-width="1"/>
<line x1="240.5" y1="412" x2="240.5" y2="413" stroke="#c8c8c8" stroke-width="1"/>
<line x1="244.5" y1="412" x2="244.5" y2="413" stroke="#c8c8c8" stroke-width="1"/>
<line x1="247.5" y1="412" x2="247.5" y2="413" stroke="#c8c8c8" stroke-width="1"/>
<line x1="250.5" y1="412" x2="250.5" y2="413" stroke="#c8c8c8" stroke-width="1"/>
<line x1="253.5" y1="412" x2="253.5" y2="413" stroke="#c8c8c8" stroke-width="1"/>
<line x1="256.5" y1="412" x2="256.5" y2="413" stroke="#c8c8c8" stroke-width="1"/>
<line x1="260.5" y1="412" x2="260.5" y2="413" stroke="#c8c8c8" stroke-width="1"/>
<line x1="263.5" y1="410" x2="263.5" y2="413" stroke="#c8c8c8" stroke-width="1"/>
<line x1="266.5" y1="412" x2="266.5" y2="413" stroke="#c8c8c8" stroke-width="1"/>
<line x1="269.5" y1="412" x2="269.5" y2="413" stroke="#c8c8c8" stroke-width="1"/>
<line x1="272.5" y1="412" x2="272.5" y2="413" stroke="#c8c8c8" stroke-width="1"/>
<line x1="275.5" y1="412" x2="275.5" y2="413" stroke="#c8c8c8" stroke-width="1"/>
<line x1="279.5" y1="412" x2="279.5" y2="413" stroke="#c8c8c8" stroke-width="1"/>
<line x1="282.5" y1="412" x2="282.5" y2="413" stroke="#c8c8c8" stroke-width="1"/>
<line x1="285.5" y1="412" x2="285.5" y2="413" stroke="#c8c8c8" stroke-width="1"/>
<line x1="288.5" y1="412" x2="288.5" y2="413" stroke="#c8c8c8" stroke-width="1"/>
<line x1="291.5" y1="412" x2="291.5" y2="413" stroke="#c8c8c8" stroke-width="1"/>
<line x1="295.5" y1="412" x2="295.5" y2="413" stroke="#c8c8c8" stroke-width="1"/>
<line x1="298.5" y1="412" x2="298.5" y2="413" stroke="#c8c8c8" stroke-width="1"/>
<line x1="301.5" y1="410" x2="301.5" y2="413" stroke="#c8c8c8" stroke-width="1"/>
<line x1="304.5" y1="412" x2="304.5" y2="413" stroke="#c8c8c8" stroke-width="1"/>
<line x1="307.5" y1="412" x2="307.5" y2="413" stroke="#c8c8c8" stroke-width="1"/>
<line x1="311.5" y1="412" x2="311.5" y2="413" stroke="#c8c8c8" stroke-width="1"/>
<line x1="314.5" y1="412" x2="314.5" y2="413" stroke="#c8c8c8" stroke-width="1"/>
<line x1="317.5" y1="412" x2="317.5" y2="413" stroke="#c8c8c8" stroke-width="1"/>
<line x1="320.5" y1="412" x2="320.5" y2="413" stroke="#c8c8c8" stroke-width="1"/>
<line x1="323.5" y1="412" x2="323.5" y2="413" stroke="#c8c8c8" stroke-width="1"/>
<line x1="327.5" y1="412" x2="327.5" y2="413" stroke="#c8c8c8" stroke-width="1"/>
<line x1="330.5" y1="412" x2="330.5" y2="413" stroke="#c8c8c8" stroke-width="1"/>
<line x1="333.5" y1="412" x2="333.5" y2="413" stroke="#c8c8c8" stroke-width="1"/>
<line x1="336.5" y1="412" x2="336.5" y2="413" stroke="#c8c8c8" stroke-width="1"/>
<line x1="339.5" y1="410" x2="339.5" y2="413" stroke="#c8c8c8" stroke-width="1"/>
<line x1="342.5" y1="412" x2="342.5" y2="413" stroke="#c8c8c8" stroke-width="1"/>
<line x1="346.5" y1="412" x2="346.5" y2="413" stroke="#c8c8c8" stroke-width="1"/>
<line x1="349.5" y1="412" x2="349.5" y2="413" stroke="#c8c8c8" stroke-width="1"/>
<line x1="352.5" y1="412" x2="352.5" y2="413" stroke="#c8c8c8" stroke-width="1"/>
<line x1="355.5" y1="412" x2="355.5" y2="413" stroke="#c8c8c8" stroke-width="1"/>
<line x1="358.5" y1="412" x2="358.5" y2="413" stroke="#c8c8c8" stroke-width="1"/>
<line x1="362.5" y1="412" x2="362.5" y2="413" stroke="#c8c8c8" stroke-width="1"/>
<line x1="365.5" y1="412" x2="365.5" y2="413" stroke="#c8c8c8" stroke-width="1"/>
<line x1="368.5" y1="412" x2="368.5" y2="413" stroke="#c8c8c8" stroke-width="1"/>
<line x1="371.5" y1="412" x2="371.5" y2="413" stroke="#c8c8c8" stroke-width="1"/>
<line x1="374.5" y1="412" x2="374.5" y2="413" stroke="#c8c8c8" stroke-width="1"/>
<line x1="378.5" y1="410" x2="378.5" y2="413" stroke="#c8c8c8" stroke-width="1"/>
<line x1="381.5" y1="412" x2="381.5" y2="413" stroke="#c8c8c8" stroke-width="1"/>
<line x1="384.5" y1="412" x2="384.5" y2="413" stroke="#c8c8c8" stroke-width="1"/>
<line x1="387.5" y1="412" x2="387.5" y2="413" stroke="#c8c8c8" stroke-width="1"/>
<line x1="390.5" y1="412" x2="390.5" y2="413" stroke="#c8c8c8" stroke-width="1"/>
<line x1="394.5" y1="412" x2="394.5" y2="413" stroke="#c8c8c8" stroke-width="1"/>
<line x1="397.5" y1="412" x2="397.5" y2="413" stroke="#c8c8c8" stroke-width="1"/>
<line x1="400.5" y1="412" x2="400.5" y2="413" stroke="#c8c8c8" stroke-width="1"/>
<line x1="403.5" y1="412" x2="403.5" y2="413" stroke="#c8c8c8" stroke-width="1"/>
<line x1="406.5" y1="412" x2="406.5" y2="413" stroke="#c8c8c8" stroke-width="1"/>
<line x1="410.5" y1="412" x2="410.5" y2="413" stroke="#c8c8c8" stroke-width="1"/>
<line x1="413.5" y1="412" x2="413.5" y2="413" stroke="#c8c8c8" stroke-width="1"/>
<line x1="416.5" y1="410" x2="416.5" y2="413" stroke="#c8c8c8" stroke-width="1"/>
<line x1="419.5" y1="412" x2="419.5" y2="413" stroke="#c8c8c8" stroke-width="1"/>
<line x1="422.5" y1="412" x2="422.5" y2="413" stroke="#c8c8c8" stroke-width="1"/>
<line x1="425.5" y1="412" x2="425.5" y2="413" stroke="#c8c8c8" stroke-width="1"/>
<line x1="429.5" y1="412" x2="429.5" y2="413" stroke="#c8c8c8" stroke-width="1"/>
<line x1="432.5" y1="412" x2="432.5" y2="413" stroke="#c8c8c8" stroke-width="1"/>
<line x1="435.5" y1="412" x2="435.5" y2="413" stroke="#c8c8c8" stroke-width="1"/>
<line x1="438.5" y1="412" x2="438.5" y2="413" stroke="#c8c8c8" stroke-width="1"/>
<line x1="441.5" y1="412" x2="441.5" y2="413" stroke="#c8c8c8" stroke-width="1"/>
<line x1="445.5" y1="412" x2="445.5" y2="413" stroke="#c8c8c8" stroke-width="1"/>
<line x1="448.5" y1="412" x2="448.5" y2="413" stroke="#c8c8c8" stroke-width="1"/>
<line x1="451.5" y1="412" x2="451.5" y2="413" stroke="#c8c8c8" stroke-width="1"/>
<line x1="454.5" y1="410" x2="454.5" y2="413" stroke="#c8c8c8" stroke-width="1"/>
<line x1="457.5" y1="412" x2="457.5" y2="413" stroke="#c8c8c8" stroke-width="1"/>
<line x1="461.5" y1="412" x2="461.5" y2="413" stroke="#c8c8c8" stroke-width="1"/>
<line x1="464.5" y1="412" x2="464.5" y2="413" stroke="#c8c8c8" stroke-width="1"/>
<line x1="467.5" y1="412" x2="467.5" y2="413" stroke="#c8c8c8" stroke-width="1"/>
<line x1="470.5" y1="412" x2="470.5" y2="413" stroke="#c8c8c8" stroke-width="1"/>
<line x1="473.5" y1="412" x2="473.5" y2="413" stroke="#c8c8c8" stroke-width="1"/>
<line x1="477.5" y1="412" x2="477.5" y2="413" stroke="#c8c8c8" stroke-width="1"/>
<line x1="480.5" y1="412" x2="480.5" y2="413" stroke="#c8c8c8" stroke-width="1"/>
<line x1="483.5" y1="412" x2="483.5" y2="413" stroke="#c8c8c8" stroke-width="1"/>
<line x1="486.5" y1="412" x2="486.5" y2="413" stroke="#c8c8c8" stroke-width="1"/>
<line x1="489.5" y1="412" x2="489.5" y2="413" stroke="#c8c8c8" stroke-width="1"/>
<line x1="493.5" y1="410" x2="493.5" y2="413" stroke="#c8c8c8" stroke-width="1"/>
<line x1="496.5" y1="412" x2="496.5" y2="413" stroke="#c8c8c8" stroke-width="1"/>
<line x1="499.5" y1="412" x2="499.5" y2="413" stroke="#c8c8c8" stroke-width="1"/>
<line x1="502.5" y1="412" x2="502.5" y2="413" stroke="#c8c8c8" stroke-width="1"/>
<line x1="505.5" y1="412" x2="505.5" y2="413" stroke="#c8c8c8" stroke-width="1"/>
<line x1="508.5" y1="412" x2="508.5" y2="413" stroke="#c8c8c8" stroke-width="1"/>
<line x1="512.5" y1="412" x2="512.5" y2="413" stroke="#c8c8c8" stroke-width="1"/>
<line x1="515.5" y1="412" x2="515.5" y2="413" stroke="#c8c8c8" stroke-width="1"/>
<line x1="518.5" y1="412" x2="518.5" y2="413" stroke="#c8c8c8" stroke-width="1"/>
<line x1="521.5" y1="412" x2="521.5" y2="413" stroke="#c8c8c8" stroke-width="1"/>
<line x1="524.5" y1="412" x2="524.5" y2="413" stroke="#c8c8c8" stroke-width="1"/>
<line x1="528.5" y1="412" x2="528.5" y2="413" stroke="#c8c8c8" stroke-width="1"/>
<line x1="531.5" y1="410" x2="531.5" y2="413" stroke="#c8c8c8" stroke-width="1"/>
<line x1="534.5" y1="412" x2="534.5" y2="413" stroke="#c8c8c8" stroke-width="1"/>
<line x1="537.5" y1="412" x2="537.5" y2="413" stroke="#c8c8c8" stroke-width="1"/>
<line x1="540.5" y1="412" x2="540.5" y2="413" stroke="#c8c8c8" stroke-width="1"/>
<line x1="544.5" y1="412" x2="544.5" y2="413" stroke="#c8c8c8" stroke-width="1"/>
<line x1="547.5" y1="412" x2="547.5" y2="413" stroke="#c8c8c8" stroke-width="1"/>
<line x1="550.5" y1="412" x2="550.5" y2="413" stroke="#c8c8c8" stroke-width="1"/>
<line x1="553.5" y1="412" x2="553.5" y2="413" stroke="#c8c8c8" stroke-width="1"/>
<line x1="556.5" y1="412" x2="556.5" y2="413" stroke="#c8c8c8" stroke-width="1"/>
<line x1="560.5" y1="412" x2="560.5" y2="413" stroke="#c8c8c8" stroke-width="1"/>
<line x1="563.5" y1="412" x2="563.5" y2="413" stroke="#c8c8c8" stroke-width="1"/>
<line x1="566.5" y1="412" x2="566.5" y2="413" stroke="#c8c8c8" stroke-width="1"/>
<line x1="569.5" y1="410" x2="569.5" y2="413" stroke="#c8c8c8" stroke-width="1"/>
<line x1="572.5" y1="412" x2="572.5" y2="413" stroke="#c8c8c8" stroke-width="1"/>
<line x1="575.5" y1="412" x2="575.5" y2="413" stroke="#c8c8c8" stroke-width="1"/>
<line x1="579.5" y1="412" x2="579.5" y2="413" stroke="#c8c8c8" stroke-width="1"/>
<line x1="582.5" y1="412" x2="582.5" y2="413" stroke="#c8c8c8" stroke-width="1"/>
<line x1="585.5" y1="412" x2="585.5" y2="413" stroke="#c8c8c8" stroke-width="1"/>
<line x1="588.5" y1="412" x2="588.5" y2="413" stroke="#c8c8c8" stroke-width="1"/>
<line x1="591.5" y1="412" x2="591.5" y2="413" stroke="#c8c8c8" stroke-width="1"/>
<line x1="595.5" y1="412" x2="595.5" y2="413" stroke="#c8c8c8" stroke-width="1"/>
<line x1="598.5" y1="412" x2="598.5" y2="413" stroke="#c8c8c8" stroke-width="1"/>
<line x1="601.5" y1="412" x2="601.5" y2="413" stroke="#c8c8c8" stroke-width="1"/>
<line x1="604.5" y1="412" x2="604.5" y2="413" stroke="#c8c8c8" stroke-width="1"/>
<line x1="607.5" y1="410" x2="607.5" y2="413" stroke="#c8c8c8" stroke-width="1"/>
<line x1="611.5" y1="412" x2="611.5" y2="413" stroke="#c8c8c8" stroke-width="1"/>
<line x1="614.5" y1="412" x2="614.5" y2="413" stroke="#c8c8c8" stroke-width="1"/>
<line x1="617.5" y1="412" x2="617.5" y2="413" stroke="#c8c8c8" stroke-width="1"/>
<line x1="620.5" y1="412" x2="620.5" y2="413" stroke="#c8c8c8" stroke-width="1"/>
<line x1="623.5" y1="412" x2="623.5" y2="413" stroke="#c8c8c8" stroke-width="1"/>
<line x1="627.5" y1="412" x2="627.5" y2="413" stroke="#c8c8c8" stroke-width="1"/>
<line x1="630.5" y1="412" x2="630.5" y2="413" stroke="#c8c8c8" stroke-width="1"/>
<line x1="633.5" y1="412" x2="633.5" y2="413" stroke="#c8c8c8" stroke-width="1"/>
<line x1="636.5" y1="412" x2="636.5" y2="413" stroke="#c8c8c8" stroke-width="1"/>
<line x1="639.5" y1="412" x2="639.5" y2="413" stroke="#c8c8c8" stroke-width="1"/>
<line x1="643.5" y1="412" x2="643.5" y2="413" stroke="#c8c8c8" stroke-width="1"/>
<line x1="646.5" y1="410" x2="646.5" y2="413" stroke="#c8c8c8" stroke-width="1"/>
<line x1="649.5" y1="412" x2="649.5" y2="413" stroke="#c8c8c8" stroke-width="1"/>
<line x1="652.5" y1="412" x2="652.5" y2="413" stroke="#c8c8c8" stroke-width="1"/>
<line x1="655.5" y1="412" x2="655.5" y2="413" stroke="#c8c8c8" stroke-width="1"/>
<line x1="658.5" y1="412" x2="658.5" y2="413" stroke="#c8c8c8" stroke-width="1"/>
<line x1="662.5" y1="412" x2="662.5" y2="413" stroke="#c8c8c8" stroke-width="1"/>
<line x1="665.5" y1="412" x2="665.5" y2="413" stroke="#c8c8c8" stroke-width="1"/>
<line x1="668.5" y1="412" x2="668.5" y2="413" stroke="#c8c8c8" stroke-width="1"/>
<line x1="671.5" y1="412" x2="671.5" y2="413" stroke="#c8c8c8" stroke-width="1"/>
<line x1="674.5" y1="412" x2="674.5" y2="413" stroke="#c8c8c8" stroke-width="1"/>
<line x1="678.5" y1="412" x2="678.5" y2="413" stroke="#c8c8c8" stroke-width="1"/>
<line x1="681.5" y1="412" x2="681.5" y2="413" stroke="#c8c8c8" stroke-width="1"/>
<line x1="684.5" y1="410" x2="684.5" y2="413" stroke="#c8c8c8" stroke-width="1"/>
<line x1="687.5" y1="412" x2="687.5" y2="413" stroke="#c8c8c8" stroke-width="1"/>
<line x1="690.5" y1="412" x2="690.5" y2="413" stroke="#c8c8c8" stroke-width="1"/>
<line x1="694.5" y1="412" x2="694.5" y2="413" stroke="#c8c8c8" stroke-width="1"/>
<line x1="697.5" y1="412" x2="697.5" y2="413" stroke="#c8c8c8" stroke-width="1"/>
<line x1="700.5" y1="412" x2="700.5" y2="413" stroke="#c8c8c8" stroke-width="1"/>
<line x1="703.5" y1="412" x2="703.5" y2="413" stroke="#c8c8c8" stroke-width="1"/>
<line x1="706.5" y1="412" x2="706.5" y2="413" stroke="#c8c8c8" stroke-width="1"/>
<line x1="710.5" y1="412" x2="710.5" y2="413" stroke="#c8c8c8" stroke-width="1"/>
<line x1="713.5" y1="412" x2="713.5" y2="413" stroke="#c8c8c8" stroke-width="1"/>
<line x1="716.5" y1="412" x2="716.5" y2="413" stroke="#c8c8c8" stroke-width="1"/>
<line x1="719.5" y1="412" x2="719.5" y2="413" stroke="#c8c8c8" stroke-width="1"/>
<line x1="722.5" y1="410" x2="722.5" y2="413" stroke="#c8c8c8" stroke-width="1"/>
<line x1="725.5" y1="412" x2="725.5" y2="413" stroke="#c8c8c8" stroke-width="1"/>
<line x1="729.5" y1="412" x2="729.5" y2="413" stroke="#c8c8c8" stroke-width="1"/>
<line x1="732.5" y1="412" x2="732.5" y2="413" stroke="#c8c8c8" stroke-width="1"/>
<line x1="735.5" y1="412" x2="735.5" y2="413" stroke="#c8c8c8" stroke-width="1"/>
<line x1="738.5" y1="412" x2="738.5" y2="413" stroke="#c8c8c8" stroke-width="1"/>
<line x1="741.5" y1="412" x2="741.5" y2="413" stroke="#c8c8c8" stroke-width="1"/>
<line x1="745.5" y1="412" x2="745.5" y2="413" stroke="#c8c8c8" stroke-width="1"/>
<line x1="748.5" y1="412" x2="748.5" y2="413" stroke="#c8c8c8" stroke-width="1"/>
<line x1="751.5" y1="412" x2="751.5" y2="413" stroke="#c8c8c8" stroke-width="1"/>
<line x1="754.5" y1="412" x2="754.5" y2="413" stroke="#c8c8c8" stroke-width="1"/>
<line x1="757.5" y1="412" x2="757.5" y2="413" stroke="#c8c8c8" stroke-width="1"/>
<line x1="761.5" y1="410" x2="761.5" y2="413" stroke="#c8c8c8" stroke-width="1"/>
<line x1="764.5" y1="412" x2="764.5" y2="413" stroke="#c8c8c8" stroke-width="1"/>
<line x1="767.5" y1="412" x2="767.5" y2="413" stroke="#c8c8c8" stroke-width="1"/>
<line x1="770.5" y1="412" x2="770.5" y2="413" stroke="#c8c8c8" stroke-width="1"/>
<line x1="773.5" y1="412" x2="773.5" y2="413" stroke="#c8c8c8" stroke-width="1"/>
<line x1="777.5" y1="412" x2="777.5" y2="413" stroke="#c8c8c8" stroke-width="1"/>
<line x1="780.5" y1="412" x2="780.5" y2="413" stroke="#c8c8c8" stroke-width="1"/>
<line x1="783.5" y1="412" x2="783.5" y2="413" stroke="#c8c8c8" stroke-width="1"/>
<line x1="786.5" y1="412" x2="786.5" y2="413" stroke="#c8c8c8" stroke-width="1"/>
<line x1="789.5" y1="412" x2="789.5" y2="413" stroke="#c8c8c8" stroke-width="1"/>
<line x1="793.5" y1="412" x2="793.5" y2="413" stroke="#c8c8c8" stroke-width="1"/>
<line x1="796.5" y1="412" x2="796.5" y2="413" stroke="#c8c8c8" stroke-width="1"/>
<line x1="799.5" y1="410" x2="799.5" y2="413" stroke="#c8c8c8" stroke-width="1"/>
<line x1="802.5" y1="412" x2="802.5" y2="413" stroke="#c8c8c8" stroke-width="1"/>
<line x1="805.5" y1="412" x2="805.5" y2="413" stroke="#c8c8c8" stroke-width="1"/>
<line x1="808.5" y1="412" x2="808.5" y2="413" stroke="#c8c8c8" stroke-width="1"/>
<line x1="812.5" y1="412" x2="812.5" y2="413" stroke="#c8c8c8" stroke-width="1"/>
<line x1="815.5" y1="412" x2="815.5" y2="413" stroke="#c8c8c8" stroke-width="1"/>
<line x1="818.5" y1="412" x2="818.5" y2="413" stroke="#c8c8c8" stroke-width="1"/>
<line x1="821.5" y1="412" x2="821.5" y2="413" stroke="#c8c8c8" stroke-width="1"/>
<line x1="824.5" y1="412" x2="824.5" y2="413" stroke="#c8c8c8" stroke-width="1"/>
<line x1="828.5" y1="412" x2="828.5" y2="413" stroke="#c8c8c8" stroke-width="1"/>
<line x1="831.5" y1="412" x2="831.5" y2="413" stroke="#c8c8c8" stroke-width="1"/>
<line x1="834.5" y1="412" x2="834.5" y2="413" stroke="#c8c8c8" stroke-width="1"/>
<line x1="837.5" y1="410" x2="837.5" y2="413" stroke="#c8c8c8" stroke-width="1"/>
<line x1="840.5" y1="412" x2="840.5" y2="413" stroke="#c8c8c8" stroke-width="1"/>
<line x1="844.5" y1="412" x2="844.5" y2="413" stroke="#c8c8c8" stroke-width="1"/>
<text x="21.1" y="410.6" font-size="9.1" textLength="23.3" lengthAdjust="spacing" stroke="#000" stroke-width="0.1" style="font-family:'Liberation Sans', Arial, sans-serif">2000</text>
<text x="59.1" y="410.6" font-size="9.1" textLength="23.3" lengthAdjust="spacing" stroke="#000" stroke-width="0.1" style="font-family:'Liberation Sans', Arial, sans-serif">2001</text>
<text x="98.1" y="410.6" font-size="9.1" textLength="23.3" lengthAdjust="spacing" stroke="#000" stroke-width="0.1" style="font-family:'Liberation Sans', Arial, sans-serif">2002</text>
<text x="136.1" y="410.6" font-size="9.1" textLength="23.3" lengthAdjust="spacing" stroke="#000" stroke-width="0.1" style="font-family:'Liberation Sans', Arial, sans-serif">2003</text>
<text x="174.1" y="410.6" font-size="9.1" textLength="23.3" lengthAdjust="spacing" stroke="#000" stroke-width="0.1" style="font-family:'Liberation Sans', Arial, sans-serif">2004</text>
<text x="212.1" y="410.6" font-size="9.1" textLength="23.3" lengthAdjust="spacing" stroke="#000" stroke-width="0.1" style="font-family:'Liberation Sans', Arial, sans-serif">2005</text>
<text x="251.1" y="410.6" font-size="9.1" textLength="23.3" lengthAdjust="spacing" stroke="#000" stroke-width="0.1" style="font-family:'Liberation Sans', Arial, sans-serif">2006</text>
<text x="289.1" y="410.6" font-size="9.1" textLength="23.3" lengthAdjust="spacing" stroke="#000" stroke-width="0.1" style="font-family:'Liberation Sans', Arial, sans-serif">2007</text>
<text x="327.1" y="410.6" font-size="9.1" textLength="23.3" lengthAdjust="spacing" stroke="#000" stroke-width="0.1" style="font-family:'Liberation Sans', Arial, sans-serif">2008</text>
<text x="366.1" y="410.6" font-size="9.1" textLength="23.3" lengthAdjust="spacing" stroke="#000" stroke-width="0.1" style="font-family:'Liberation Sans', Arial, sans-serif">2009</text>
<text x="404.1" y="410.6" font-size="9.1" textLength="23.3" lengthAdjust="spacing" stroke="#000" stroke-width="0.1" style="font-family:'Liberation Sans', Arial, sans-serif">2010</text>
<text x="442.1" y="410.6" font-size="9.1" textLength="23.3" lengthAdjust="spacing" stroke="#000" stroke-width="0.1" style="font-family:'Liberation Sans', Arial, sans-serif">2011</text>
<text x="480.1" y="410.6" font-size="9.1" textLength="23.3" lengthAdjust="spacing" stroke="#000" stroke-width="0.1" style="font-family:'Liberation Sans', Arial, sans-serif">2012</text>
<text x="519.1" y="410.6" font-size="9.1" textLength="23.3" lengthAdjust="spacing" stroke="#000" stroke-width="0.1" style="font-family:'Liberation Sans', Arial, sans-serif">2013</text>
<text x="557.1" y="410.6" font-size="9.1" textLength="23.3" lengthAdjust="spacing" stroke="#000" stroke-width="0.1" style="font-family:'Liberation Sans', Arial, sans-serif">2014</text>
<text x="595.1" y="410.6" font-size="9.1" textLength="23.3" lengthAdjust="spacing" stroke="#000" stroke-width="0.1" style="font-family:'Liberation Sans', Arial, sans-serif">2015</text>
<text x="634.1" y="410.6" font-size="9.1" textLength="23.3" lengthAdjust="spacing" stroke="#000" stroke-width="0.1" style="font-family:'Liberation Sans', Arial, sans-serif">2016</text>
<text x="672.1" y="410.6" font-size="9.1" textLength="23.3" lengthAdjust="spacing" stroke="#000" stroke-width="0.1" style="font-family:'Liberation Sans', Arial, sans-serif">2017</text>
<text x="710.1" y="410.6" font-size="9.1" textLength="23.3" lengthAdjust="spacing" stroke="#000" stroke-width="0.1" style="font-family:'Liberation Sans', Arial, sans-serif">2018</text>
<text x="749.1" y="410.6" font-size="9.1" textLength="23.3" lengthAdjust="spacing" stroke="#000" stroke-width="0.1" style="font-family:'Liberation Sans', Arial, sans-serif">2019</text>
<text x="787.1" y="410.6" font-size="9.1" textLength="23.3" lengthAdjust="spacing" stroke="#000" stroke-width="0.1" style="font-family:'Liberation Sans', Arial, sans-serif">2020</text>
<text x="825.1" y="410.6" font-size="9.1" textLength="23.3" lengthAdjust="spacing" stroke="#000" stroke-width="0.1" style="font-family:'Liberation Sans', Arial, sans-serif">2021</text>
<line x1="16" y1="421.5" x2="857" y2="421.5" stroke="#d9d9d9" stroke-width="1" />
<line x1="16" y1="433.5" x2="857" y2="433.5" stroke="#d9d9d9" stroke-width="1" />
<line x1="16" y1="445.5" x2="857" y2="445.5" stroke="#d9d9d9" stroke-width="1" />
<line x1="16" y1="468.5" x2="857" y2="468.5" stroke="#d9d9d9" stroke-width="1" />
<line x1="16" y1="491.5" x2="857" y2="491.5" stroke="#d9d9d9" stroke-width="1" />
<line x1="16" y1="514.5" x2="857" y2="514.5" stroke="#d9d9d9" stroke-width="1" />
<line x1="16" y1="526.5" x2="857" y2="526.5" stroke="#d9d9d9" stroke-width="1" />
<line x1="16" y1="537.5" x2="857" y2="537.5" stroke="#d9d9d9" stroke-width="1" />
<line x1="52.5" y1="414" x2="52.5" y2="545" stroke="#d9d9d9" stroke-width="1"/>
<line x1="33.5" y1="414" x2="33.5" y2="545" stroke="#a6a6a6" stroke-width="1"/>
<line x1="90.5" y1="414" x2="90.5" y2="545" stroke="#d9d9d9" stroke-width="1"/>
<line x1="71.5" y1="414" x2="71.5" y2="545" stroke="#a6a6a6" stroke-width="1"/>
<line x1="129.5" y1="414" x2="129.5" y2="545" stroke="#d9d9d9" stroke-width="1"/>
<line x1="110.5" y1="414" x2="110.5" y2="545" stroke="#a6a6a6" stroke-width="1"/>
<line x1="167.5" y1="414" x2="167.5" y2="545" stroke="#d9d9d9" stroke-width="1"/>
<line x1="148.5" y1="414" x2="148.5" y2="545" stroke="#a6a6a6" stroke-width="1"/>
<line x1="205.5" y1="414" x2="205.5" y2="545" stroke="#d9d9d9" stroke-width="1"/>
<line x1="186.5" y1="414" x2="186.5" y2="545" stroke="#a6a6a6" stroke-width="1"/>
<line x1="244.5" y1="414" x2="244.5" y2="545" stroke="#d9d9d9" stroke-width="1"/>
<line x1="224.5" y1="414" x2="224.5" y2="545" stroke="#a6a6a6" stroke-width="1"/>
<line x1="282.5" y1="414" x2="282.5" y2="545" stroke="#d9d9d9" stroke-width="1"/>
<line x1="263.5" y1="414" x2="263.5" y2="545" stroke="#a6a6a6" stroke-width="1"/>
<line x1="320.5" y1="414" x2="320.5" y2="545" stroke="#d9d9d9" stroke-width="1"/>
<line x1="301.5" y1="414" x2="301.5" y2="545" stroke="#a6a6a6" stroke-width="1"/>
<line x1="358.5" y1="414" x2="358.5" y2="545" stroke="#d9d9d9" stroke-width="1"/>
<line x1="339.5" y1="414" x2="339.5" y2="545" stroke="#a6a6a6" stroke-width="1"/>
<line x1="397.5" y1="414" x2="397.5" y2="545" stroke="#d9d9d9" stroke-width="1"/>
<line x1="378.5" y1="414" x2="378.5" y2="545" stroke="#a6a6a6" stroke-width="1"/>
<line x1="435.5" y1="414" x2="435.5" y2="545" stroke="#d9d9d9" stroke-width="1"/>
<line x1="416.5" y1="414" x2="416.5" y2="545" stroke="#a6a6a6" stroke-width="1"/>
<line x1="473.5" y1="414" x2="473.5" y2="545" stroke="#d9d9d9" stroke-width="1"/>
<line x1="454.5" y1="414" x2="454.5" y2="545" stroke="#a6a6a6" stroke-width="1"/>
<line x1="512.5" y1="414" x2="512.5" y2="545" stroke="#d9d9d9" stroke-width="1"/>
<line x1="493.5" y1="414" x2="493.5" y2="545" stroke="#a6a6a6" stroke-width="1"/>
<line x1="550.5" y1="414" x2="550.5" y2="545" stroke="#d9d9d9" stroke-width="1"/>
<line x1="531.5" y1="414" x2="531.5" y2="545" stroke="#a6a6a6" stroke-width="1"/>
<line x1="588.5" y1="414" x2="588.5" y2="545" stroke="#d9d9d9" stroke-width="1"/>
<line x1="569.5" y1="414" x2="569.5" y2="545" stroke="#a6a6a6" stroke-width="1"/>
<line x1="627.5" y1="414" x2="627.5" y2="545" stroke="#d9d9d9" stroke-width="1"/>
<line x1="607.5" y1="414" x2="607.5" y2="545" stroke="#a6a6a6" stroke-width="1"/>
<line x1="665.5" y1="414" x2="665.5" y2="545" stroke="#d9d9d9" stroke-width="1"/>
<line x1="646.5" y1="414" x2="646.5" y2="545" stroke="#a6a6a6" stroke-width="1"/>
<line x1="703.5" y1="414" x2="703.5" y2="545" stroke="#d9d9d9" stroke-width="1"/>
<line x1="684.5" y1="414" x2="684.5" y2="545" stroke="#a6a6a6" stroke-width="1"/>
<line x1="741.5" y1="414" x2="741.5" y2="545" stroke="#d9d9d9" stroke-width="1"/>
<line x1="722.5" y1="414" x2="722.5" y2="545" stroke="#a6a6a6" stroke-width="1"/>
<line x1="780.5" y1="414" x2="780.5" y2="545" stroke="#d9d9d9" stroke-width="1"/>
<line x1="761.5" y1="414" x2="761.5" y2="545" stroke="#a6a6a6" stroke-width="1"/>
<line x1="818.5" y1="414" x2="818.5" y2="545" stroke="#d9d9d9" stroke-width="1"/>
<line x1="799.5" y1="414" x2="799.5" y2="545" stroke="#a6a6a6" stroke-width="1"/>
<line x1="837.5" y1="414" x2="837.5" y2="545" stroke="#a6a6a6" stroke-width="1"/>
<line x1="16" y1="456.5" x2="857" y2="456.5" stroke="#6e6e6e" stroke-width="1" />
<line x1="16" y1="503.5" x2="857" y2="503.5" stroke="#6e6e6e" stroke-width="1" />
<line x1="16" y1="479.5" x2="857" y2="479.5" stroke="#666" stroke-width="1" stroke-dasharray="6.5,3,2,3" stroke-dashoffset="4"/>
<clipPath id="rA"><rect x="16" y="414" width="840" height="42.4"/></clipPath>
<clipPath id="rB"><rect x="16" y="502.9" width="840" height="41.1"/></clipPath>
<polygon points="17.7,456.4 17.7,511.3 20.9,476.2 24.1,462.2 27.3,437.4 30.5,427.2 33.7,433.4 36.9,427.9 40.1,452.9 43.3,494.8 46.5,451.3 49.7,443.5 52.9,487.1 56.0,443.5 59.2,459.1 62.4,522.6 65.6,494.8 68.8,467.7 72.0,511.3 75.2,498.0 78.4,525.8 81.6,480.8 84.8,489.4 88.0,487.1 91.2,445.1 94.3,485.5 97.5,525.0 100.7,479.3 103.9,454.4 107.1,435.7 110.3,454.4 113.5,498.0 116.7,505.8 119.9,529.2 123.1,512.1 126.3,524.5 129.5,488.7 132.6,491.0 135.8,529.2 139.0,533.0 142.2,460.6 145.4,487.1 148.6,515.1 151.8,491.7 155.0,459.1 158.2,431.9 161.4,425.6 164.6,424.1 167.8,488.6 170.9,498.7 174.1,468.4 177.3,435.7 180.5,428.8 183.7,425.2 186.9,424.1 190.1,423.6 193.3,423.3 196.5,422.6 199.7,422.1 202.9,422.1 206.1,479.3 209.2,512.1 212.4,480.8 215.6,507.3 218.8,439.7 222.0,428.8 225.2,426.4 228.4,425.2 231.6,442.8 234.8,432.7 238.0,425.6 241.2,502.7 244.4,451.3 247.5,440.5 250.7,430.4 253.9,428.1 257.1,425.6 260.3,423.6 263.5,423.3 266.7,491.7 269.9,460.6 273.1,432.7 276.3,453.6 279.5,519.7 282.7,487.9 285.8,483.9 289.0,442.0 292.2,428.8 295.4,425.6 298.6,427.9 301.8,424.9 305.0,423.3 308.2,422.6 311.4,422.1 314.6,422.1 317.8,444.3 321.0,440.5 324.1,514.3 327.3,462.2 330.5,433.4 333.7,472.2 336.9,457.6 340.1,519.7 343.3,487.9 346.5,517.4 349.7,476.2 352.9,457.6 356.1,479.3 359.3,504.2 362.4,519.7 365.6,532.2 368.8,536.1 372.0,537.6 375.2,532.2 378.4,519.7 381.6,504.2 384.8,440.5 388.0,427.9 391.2,425.6 394.4,425.2 397.6,422.6 400.7,424.9 403.9,422.6 407.1,422.1 410.3,422.1 413.5,422.1 416.7,442.8 419.9,434.2 423.1,425.2 426.3,480.8 429.5,515.1 432.7,522.1 435.9,466.9 439.0,458.3 442.2,431.1 445.4,427.7 448.6,459.9 451.8,434.2 455.0,471.5 458.2,477.0 461.4,446.6 464.6,452.9 467.8,521.4 471.0,529.2 474.2,507.3 477.3,532.3 480.5,535.3 483.7,480.1 486.9,507.3 490.1,503.4 493.3,459.1 496.5,501.8 499.7,455.9 502.9,439.7 506.1,509.6 509.3,512.0 512.5,477.8 515.6,452.9 518.8,430.4 522.0,427.7 525.2,426.1 528.4,487.9 531.6,503.4 534.8,448.2 538.0,440.5 541.2,494.9 544.4,460.6 547.6,507.3 550.8,483.1 553.9,511.3 557.1,441.2 560.3,435.7 563.5,427.7 566.7,465.4 569.9,494.9 573.1,451.3 576.3,435.7 579.5,468.4 582.7,455.1 585.9,469.2 589.1,459.1 592.2,440.5 595.4,424.6 598.6,483.1 601.8,445.8 605.0,465.4 608.2,493.4 611.4,438.9 614.6,428.1 617.8,426.4 621.0,424.6 624.2,471.5 627.4,439.7 630.5,502.7 633.7,524.5 636.9,476.2 640.1,483.9 643.3,498.0 646.5,526.0 649.7,528.3 652.9,501.8 656.1,513.5 659.3,491.7 662.5,528.3 665.7,459.1 668.8,465.6 672.0,478.0 675.2,520.7 678.4,460.2 681.6,445.1 684.8,508.2 688.0,487.9 691.2,510.0 694.4,492.2 697.6,458.5 700.8,442.5 704.0,432.7 707.1,513.6 710.3,478.0 713.5,456.6 716.7,440.7 719.9,426.4 723.1,424.7 726.3,483.4 729.5,518.0 732.7,485.2 735.9,451.4 739.1,447.8 742.3,431.8 745.4,424.7 748.6,449.6 751.8,501.1 755.0,464.7 758.2,520.7 761.4,479.8 764.6,469.2 767.8,498.5 771.0,454.1 774.2,493.1 777.4,472.7 780.6,445.1 783.7,498.5 786.9,465.6 790.1,445.1 793.3,432.7 796.5,462.9 799.7,455.8 802.9,515.3 806.1,534.8 809.3,493.9 812.5,486.9 815.7,516.3 818.9,484.2 818.9,456.4" fill="#6b8e6b" clip-path="url(#rA)"/>
<polygon points="17.7,502.9 17.7,511.3 20.9,476.2 24.1,462.2 27.3,437.4 30.5,427.2 33.7,433.4 36.9,427.9 40.1,452.9 43.3,494.8 46.5,451.3 49.7,443.5 52.9,487.1 56.0,443.5 59.2,459.1 62.4,522.6 65.6,494.8 68.8,467.7 72.0,511.3 75.2,498.0 78.4,525.8 81.6,480.8 84.8,489.4 88.0,487.1 91.2,445.1 94.3,485.5 97.5,525.0 100.7,479.3 103.9,454.4 107.1,435.7 110.3,454.4 113.5,498.0 116.7,505.8 119.9,529.2 123.1,512.1 126.3,524.5 129.5,488.7 132.6,491.0 135.8,529.2 139.0,533.0 142.2,460.6 145.4,487.1 148.6,515.1 151.8,491.7 155.0,459.1 158.2,431.9 161.4,425.6 164.6,424.1 167.8,488.6 170.9,498.7 174.1,468.4 177.3,435.7 180.5,428.8 183.7,425.2 186.9,424.1 190.1,423.6 193.3,423.3 196.5,422.6 199.7,422.1 202.9,422.1 206.1,479.3 209.2,512.1 212.4,480.8 215.6,507.3 218.8,439.7 222.0,428.8 225.2,426.4 228.4,425.2 231.6,442.8 234.8,432.7 238.0,425.6 241.2,502.7 244.4,451.3 247.5,440.5 250.7,430.4 253.9,428.1 257.1,425.6 260.3,423.6 263.5,423.3 266.7,491.7 269.9,460.6 273.1,432.7 276.3,453.6 279.5,519.7 282.7,487.9 285.8,483.9 289.0,442.0 292.2,428.8 295.4,425.6 298.6,427.9 301.8,424.9 305.0,423.3 308.2,422.6 311.4,422.1 314.6,422.1 317.8,444.3 321.0,440.5 324.1,514.3 327.3,462.2 330.5,433.4 333.7,472.2 336.9,457.6 340.1,519.7 343.3,487.9 346.5,517.4 349.7,476.2 352.9,457.6 356.1,479.3 359.3,504.2 362.4,519.7 365.6,532.2 368.8,536.1 372.0,537.6 375.2,532.2 378.4,519.7 381.6,504.2 384.8,440.5 388.0,427.9 391.2,425.6 394.4,425.2 397.6,422.6 400.7,424.9 403.9,422.6 407.1,422.1 410.3,422.1 413.5,422.1 416.7,442.8 419.9,434.2 423.1,425.2 426.3,480.8 429.5,515.1 432.7,522.1 435.9,466.9 439.0,458.3 442.2,431.1 445.4,427.7 448.6,459.9 451.8,434.2 455.0,471.5 458.2,477.0 461.4,446.6 464.6,452.9 467.8,521.4 471.0,529.2 474.2,507.3 477.3,532.3 480.5,535.3 483.7,480.1 486.9,507.3 490.1,503.4 493.3,459.1 496.5,501.8 499.7,455.9 502.9,439.7 506.1,509.6 509.3,512.0 512.5,477.8 515.6,452.9 518.8,430.4 522.0,427.7 525.2,426.1 528.4,487.9 531.6,503.4 534.8,448.2 538.0,440.5 541.2,494.9 544.4,460.6 547.6,507.3 550.8,483.1 553.9,511.3 557.1,441.2 560.3,435.7 563.5,427.7 566.7,465.4 569.9,494.9 573.1,451.3 576.3,435.7 579.5,468.4 582.7,455.1 585.9,469.2 589.1,459.1 592.2,440.5 595.4,424.6 598.6,483.1 601.8,445.8 605.0,465.4 608.2,493.4 611.4,438.9 614.6,428.1 617.8,426.4 621.0,424.6 624.2,471.5 627.4,439.7 630.5,502.7 633.7,524.5 636.9,476.2 640.1,483.9 643.3,498.0 646.5,526.0 649.7,528.3 652.9,501.8 656.1,513.5 659.3,491.7 662.5,528.3 665.7,459.1 668.8,465.6 672.0,478.0 675.2,520.7 678.4,460.2 681.6,445.1 684.8,508.2 688.0,487.9 691.2,510.0 694.4,492.2 697.6,458.5 700.8,442.5 704.0,432.7 707.1,513.6 710.3,478.0 713.5,456.6 716.7,440.7 719.9,426.4 723.1,424.7 726.3,483.4 729.5,518.0 732.7,485.2 735.9,451.4 739.1,447.8 742.3,431.8 745.4,424.7 748.6,449.6 751.8,501.1 755.0,464.7 758.2,520.7 761.4,479.8 764.6,469.2 767.8,498.5 771.0,454.1 774.2,493.1 777.4,472.7 780.6,445.1 783.7,498.5 786.9,465.6 790.1,445.1 793.3,432.7 796.5,462.9 799.7,455.8 802.9,515.3 806.1,534.8 809.3,493.9 812.5,486.9 815.7,516.3 818.9,484.2 818.9,502.9" fill="#a87070" clip-path="url(#rB)"/>
<polyline points="17.7,511.3 20.9,476.2 24.1,462.2 27.3,437.4 30.5,427.2 33.7,433.4 36.9,427.9 40.1,452.9 43.3,494.8 46.5,451.3 49.7,443.5 52.9,487.1 56.0,443.5 59.2,459.1 62.4,522.6 65.6,494.8 68.8,467.7 72.0,511.3 75.2,498.0 78.4,525.8 81.6,480.8 84.8,489.4 88.0,487.1 91.2,445.1 94.3,485.5 97.5,525.0 100.7,479.3 103.9,454.4 107.1,435.7 110.3,454.4 113.5,498.0 116.7,505.8 119.9,529.2 123.1,512.1 126.3,524.5 129.5,488.7 132.6,491.0 135.8,529.2 139.0,533.0 142.2,460.6 145.4,487.1 148.6,515.1 151.8,491.7 155.0,459.1 158.2,431.9 161.4,425.6 164.6,424.1 167.8,488.6 170.9,498.7 174.1,468.4 177.3,435.7 180.5,428.8 183.7,425.2 186.9,424.1 190.1,423.6 193.3,423.3 196.5,422.6 199.7,422.1 202.9,422.1 206.1,479.3 209.2,512.1 212.4,480.8 215.6,507.3 218.8,439.7 222.0,428.8 225.2,426.4 228.4,425.2 231.6,442.8 234.8,432.7 238.0,425.6 241.2,502.7 244.4,451.3 247.5,440.5 250.7,430.4 253.9,428.1 257.1,425.6 260.3,423.6 263.5,423.3 266.7,491.7 269.9,460.6 273.1,432.7 276.3,453.6 279.5,519.7 282.7,487.9 285.8,483.9 289.0,442.0 292.2,428.8 295.4,425.6 298.6,427.9 301.8,424.9 305.0,423.3 308.2,422.6 311.4,422.1 314.6,422.1 317.8,444.3 321.0,440.5 324.1,514.3 327.3,462.2 330.5,433.4 333.7,472.2 336.9,457.6 340.1,519.7 343.3,487.9 346.5,517.4 349.7,476.2 352.9,457.6 356.1,479.3 359.3,504.2 362.4,519.7 365.6,532.2 368.8,536.1 372.0,537.6 375.2,532.2 378.4,519.7 381.6,504.2 384.8,440.5 388.0,427.9 391.2,425.6 394.4,425.2 397.6,422.6 400.7,424.9 403.9,422.6 407.1,422.1 410.3,422.1 413.5,422.1 416.7,442.8 419.9,434.2 423.1,425.2 426.3,480.8 429.5,515.1 432.7,522.1 435.9,466.9 439.0,458.3 442.2,431.1 445.4,427.7 448.6,459.9 451.8,434.2 455.0,471.5 458.2,477.0 461.4,446.6 464.6,452.9 467.8,521.4 471.0,529.2 474.2,507.3 477.3,532.3 480.5,535.3 483.7,480.1 486.9,507.3 490.1,503.4 493.3,459.1 496.5,501.8 499.7,455.9 502.9,439.7 506.1,509.6 509.3,512.0 512.5,477.8 515.6,452.9 518.8,430.4 522.0,427.7 525.2,426.1 528.4,487.9 531.6,503.4 534.8,448.2 538.0,440.5 541.2,494.9 544.4,460.6 547.6,507.3 550.8,483.1 553.9,511.3 557.1,441.2 560.3,435.7 563.5,427.7 566.7,465.4 569.9,494.9 573.1,451.3 576.3,435.7 579.5,468.4 582.7,455.1 585.9,469.2 589.1,459.1 592.2,440.5 595.4,424.6 598.6,483.1 601.8,445.8 605.0,465.4 608.2,493.4 611.4,438.9 614.6,428.1 617.8,426.4 621.0,424.6 624.2,471.5 627.4,439.7 630.5,502.7 633.7,524.5 636.9,476.2 640.1,483.9 643.3,498.0 646.5,526.0 649.7,528.3 652.9,501.8 656.1,513.5 659.3,491.7 662.5,528.3 665.7,459.1 668.8,465.6 672.0,478.0 675.2,520.7 678.4,460.2 681.6,445.1 684.8,508.2 688.0,487.9 691.2,510.0 694.4,492.2 697.6,458.5 700.8,442.5 704.0,432.7 707.1,513.6 710.3,478.0 713.5,456.6 716.7,440.7 719.9,426.4 723.1,424.7 726.3,483.4 729.5,518.0 732.7,485.2 735.9,451.4 739.1,447.8 742.3,431.8 745.4,424.7 748.6,449.6 751.8,501.1 755.0,464.7 758.2,520.7 761.4,479.8 764.6,469.2 767.8,498.5 771.0,454.1 774.2,493.1 777.4,472.7 780.6,445.1 783.7,498.5 786.9,465.6 790.1,445.1 793.3,432.7 796.5,462.9 799.7,455.8 802.9,515.3 806.1,534.8 809.3,493.9 812.5,486.9 815.7,516.3 818.9,484.2" fill="none" stroke="#000" stroke-width="1.0" stroke-linejoin="round" />
<rect x="16.5" y="414.5" width="840" height="130" fill="none" stroke="#b3b3b3" stroke-width="1"/>
<line x1="857" y1="537.5" x2="859" y2="537.5" stroke="#b3b3b3" stroke-width="1"/>
<line x1="857" y1="531.5" x2="859" y2="531.5" stroke="#b3b3b3" stroke-width="1"/>
<line x1="857" y1="526.5" x2="859" y2="526.5" stroke="#b3b3b3" stroke-width="1"/>
<line x1="857" y1="520.5" x2="859" y2="520.5" stroke="#b3b3b3" stroke-width="1"/>
<line x1="857" y1="514.5" x2="859" y2="514.5" stroke="#b3b3b3" stroke-width="1"/>
<line x1="857" y1="508.5" x2="859" y2="508.5" stroke="#b3b3b3" stroke-width="1"/>
<line x1="857" y1="503.5" x2="859" y2="503.5" stroke="#b3b3b3" stroke-width="1"/>
<line x1="857" y1="497.5" x2="859" y2="497.5" stroke="#b3b3b3" stroke-width="1"/>
<line x1="857" y1="491.5" x2="859" y2="491.5" stroke="#b3b3b3" stroke-width="1"/>
<line x1="857" y1="485.5" x2="859" y2="485.5" stroke="#b3b3b3" stroke-width="1"/>
<line x1="857" y1="479.5" x2="859" y2="479.5" stroke="#b3b3b3" stroke-width="1"/>
<line x1="857" y1="473.5" x2="859" y2="473.5" stroke="#b3b3b3" stroke-width="1"/>
<line x1="857" y1="468.5" x2="859" y2="468.5" stroke="#b3b3b3" stroke-width="1"/>
<line x1="857" y1="462.5" x2="859" y2="462.5" stroke="#b3b3b3" stroke-width="1"/>
<line x1="857" y1="456.5" x2="859" y2="456.5" stroke="#b3b3b3" stroke-width="1"/>
<line x1="857" y1="450.5" x2="859" y2="450.5" stroke="#b3b3b3" stroke-width="1"/>
<line x1="857" y1="445.5" x2="859" y2="445.5" stroke="#b3b3b3" stroke-width="1"/>
<line x1="857" y1="438.5" x2="859" y2="438.5" stroke="#b3b3b3" stroke-width="1"/>
<line x1="857" y1="433.5" x2="859" y2="433.5" stroke="#b3b3b3" stroke-width="1"/>
<line x1="857" y1="427.5" x2="859" y2="427.5" stroke="#b3b3b3" stroke-width="1"/>
<line x1="857" y1="421.5" x2="859" y2="421.5" stroke="#b3b3b3" stroke-width="1"/>
<text x="859.6" y="435.6" font-size="10" textLength="11.1" lengthAdjust="spacing" style="font-family:'Liberation Sans', Arial, sans-serif" fill="#000">90</text>
<text x="859.6" y="458.6" font-size="10" textLength="11.1" lengthAdjust="spacing" style="font-family:'Liberation Sans', Arial, sans-serif" fill="#000">70</text>
<text x="859.6" y="481.6" font-size="10" textLength="11.1" lengthAdjust="spacing" style="font-family:'Liberation Sans', Arial, sans-serif" fill="#000">50</text>
<text x="859.6" y="505.6" font-size="10" textLength="11.1" lengthAdjust="spacing" style="font-family:'Liberation Sans', Arial, sans-serif" fill="#000">30</text>
<text x="859.6" y="528.6" font-size="10" textLength="11.1" lengthAdjust="spacing" style="font-family:'Liberation Sans', Arial, sans-serif" fill="#000">10</text>
<rect x="17" y="416" width="88" height="12" fill="#fff"/>
<path d="M18.9,425 L20.5,420 L22,418.5 L23.5,421 L25,418 L26.5,421 L28.3,425 Z" fill="#6b8e6b" stroke="#3c5a3c" stroke-width="0.8"/>
<text x="31.7" y="424.7" font-size="9.6" textLength="71.6" lengthAdjust="spacing" style="font-family:'DejaVu Sans', Verdana, sans-serif" fill="#000">RSI(2) 46.05</text>
<line x1="16" y1="668.5" x2="857" y2="668.5" stroke="#d9d9d9" stroke-width="1" />
<line x1="16" y1="655.5" x2="857" y2="655.5" stroke="#d9d9d9" stroke-width="1" />
<line x1="16" y1="640.5" x2="857" y2="640.5" stroke="#d9d9d9" stroke-width="1" />
<line x1="16" y1="625.5" x2="857" y2="625.5" stroke="#d9d9d9" stroke-width="1" />
<line x1="16" y1="610.5" x2="857" y2="610.5" stroke="#d9d9d9" stroke-width="1" />
<line x1="16" y1="595.5" x2="857" y2="595.5" stroke="#d9d9d9" stroke-width="1" />
<line x1="16" y1="580.5" x2="857" y2="580.5" stroke="#d9d9d9" stroke-width="1" />
<line x1="16" y1="565.5" x2="857" y2="565.5" stroke="#d9d9d9" stroke-width="1" />
<line x1="16" y1="550.5" x2="857" y2="550.5" stroke="#d9d9d9" stroke-width="1" />
<line x1="52.5" y1="544" x2="52.5" y2="675" stroke="#d9d9d9" stroke-width="1"/>
<line x1="33.5" y1="544" x2="33.5" y2="675" stroke="#a6a6a6" stroke-width="1"/>
<line x1="90.5" y1="544" x2="90.5" y2="675" stroke="#d9d9d9" stroke-width="1"/>
<line x1="71.5" y1="544" x2="71.5" y2="675" stroke="#a6a6a6" stroke-width="1"/>
<line x1="129.5" y1="544" x2="129.5" y2="675" stroke="#d9d9d9" stroke-width="1"/>
<line x1="110.5" y1="544" x2="110.5" y2="675" stroke="#a6a6a6" stroke-width="1"/>
<line x1="167.5" y1="544" x2="167.5" y2="675" stroke="#d9d9d9" stroke-width="1"/>
<line x1="148.5" y1="544" x2="148.5" y2="675" stroke="#a6a6a6" stroke-width="1"/>
<line x1="205.5" y1="544" x2="205.5" y2="675" stroke="#d9d9d9" stroke-width="1"/>
<line x1="186.5" y1="544" x2="186.5" y2="675" stroke="#a6a6a6" stroke-width="1"/>
<line x1="244.5" y1="544" x2="244.5" y2="675" stroke="#d9d9d9" stroke-width="1"/>
<line x1="224.5" y1="544" x2="224.5" y2="675" stroke="#a6a6a6" stroke-width="1"/>
<line x1="282.5" y1="544" x2="282.5" y2="675" stroke="#d9d9d9" stroke-width="1"/>
<line x1="263.5" y1="544" x2="263.5" y2="675" stroke="#a6a6a6" stroke-width="1"/>
<line x1="320.5" y1="544" x2="320.5" y2="675" stroke="#d9d9d9" stroke-width="1"/>
<line x1="301.5" y1="544" x2="301.5" y2="675" stroke="#a6a6a6" stroke-width="1"/>
<line x1="358.5" y1="544" x2="358.5" y2="675" stroke="#d9d9d9" stroke-width="1"/>
<line x1="339.5" y1="544" x2="339.5" y2="675" stroke="#a6a6a6" stroke-width="1"/>
<line x1="397.5" y1="544" x2="397.5" y2="675" stroke="#d9d9d9" stroke-width="1"/>
<line x1="378.5" y1="544" x2="378.5" y2="675" stroke="#a6a6a6" stroke-width="1"/>
<line x1="435.5" y1="544" x2="435.5" y2="675" stroke="#d9d9d9" stroke-width="1"/>
<line x1="416.5" y1="544" x2="416.5" y2="675" stroke="#a6a6a6" stroke-width="1"/>
<line x1="473.5" y1="544" x2="473.5" y2="675" stroke="#d9d9d9" stroke-width="1"/>
<line x1="454.5" y1="544" x2="454.5" y2="675" stroke="#a6a6a6" stroke-width="1"/>
<line x1="512.5" y1="544" x2="512.5" y2="675" stroke="#d9d9d9" stroke-width="1"/>
<line x1="493.5" y1="544" x2="493.5" y2="675" stroke="#a6a6a6" stroke-width="1"/>
<line x1="550.5" y1="544" x2="550.5" y2="675" stroke="#d9d9d9" stroke-width="1"/>
<line x1="531.5" y1="544" x2="531.5" y2="675" stroke="#a6a6a6" stroke-width="1"/>
<line x1="588.5" y1="544" x2="588.5" y2="675" stroke="#d9d9d9" stroke-width="1"/>
<line x1="569.5" y1="544" x2="569.5" y2="675" stroke="#a6a6a6" stroke-width="1"/>
<line x1="627.5" y1="544" x2="627.5" y2="675" stroke="#d9d9d9" stroke-width="1"/>
<line x1="607.5" y1="544" x2="607.5" y2="675" stroke="#a6a6a6" stroke-width="1"/>
<line x1="665.5" y1="544" x2="665.5" y2="675" stroke="#d9d9d9" stroke-width="1"/>
<line x1="646.5" y1="544" x2="646.5" y2="675" stroke="#a6a6a6" stroke-width="1"/>
<line x1="703.5" y1="544" x2="703.5" y2="675" stroke="#d9d9d9" stroke-width="1"/>
<line x1="684.5" y1="544" x2="684.5" y2="675" stroke="#a6a6a6" stroke-width="1"/>
<line x1="741.5" y1="544" x2="741.5" y2="675" stroke="#d9d9d9" stroke-width="1"/>
<line x1="722.5" y1="544" x2="722.5" y2="675" stroke="#a6a6a6" stroke-width="1"/>
<line x1="780.5" y1="544" x2="780.5" y2="675" stroke="#d9d9d9" stroke-width="1"/>
<line x1="761.5" y1="544" x2="761.5" y2="675" stroke="#a6a6a6" stroke-width="1"/>
<line x1="818.5" y1="544" x2="818.5" y2="675" stroke="#d9d9d9" stroke-width="1"/>
<line x1="799.5" y1="544" x2="799.5" y2="675" stroke="#a6a6a6" stroke-width="1"/>
<line x1="837.5" y1="544" x2="837.5" y2="675" stroke="#a6a6a6" stroke-width="1"/>
<rect x="17.5" y="622.5" width="3" height="3.0" fill="#5aaee0" stroke="#22709c" stroke-width="1" shape-rendering="crispEdges"/>
<rect x="20.5" y="622.5" width="3" height="3.0" fill="#5aaee0" stroke="#22709c" stroke-width="1" shape-rendering="crispEdges"/>
<rect x="23.5" y="622.5" width="4" height="3.0" fill="#5aaee0" stroke="#22709c" stroke-width="1" shape-rendering="crispEdges"/>
<rect x="27.5" y="621.5" width="3" height="4.0" fill="#5aaee0" stroke="#22709c" stroke-width="1" shape-rendering="crispEdges"/>
<rect x="30.5" y="619.5" width="3" height="6.0" fill="#5aaee0" stroke="#22709c" stroke-width="1" shape-rendering="crispEdges"/>
<rect x="33.5" y="618.5" width="3" height="7.0" fill="#5aaee0" stroke="#22709c" stroke-width="1" shape-rendering="crispEdges"/>
<rect x="36.5" y="617.5" width="3" height="8.0" fill="#5aaee0" stroke="#22709c" stroke-width="1" shape-rendering="crispEdges"/>
<rect x="39.5" y="617.5" width="4" height="8.0" fill="#5aaee0" stroke="#22709c" stroke-width="1" shape-rendering="crispEdges"/>
<rect x="43.5" y="618.5" width="3" height="7.0" fill="#5aaee0" stroke="#22709c" stroke-width="1" shape-rendering="crispEdges"/>
<rect x="46.5" y="619.5" width="3" height="6.0" fill="#5aaee0" stroke="#22709c" stroke-width="1" shape-rendering="crispEdges"/>
<rect x="49.5" y="619.5" width="3" height="6.0" fill="#5aaee0" stroke="#22709c" stroke-width="1" shape-rendering="crispEdges"/>
<rect x="52.5" y="620.5" width="3" height="5.0" fill="#5aaee0" stroke="#22709c" stroke-width="1" shape-rendering="crispEdges"/>
<rect x="55.5" y="620.5" width="4" height="5.0" fill="#5aaee0" stroke="#22709c" stroke-width="1" shape-rendering="crispEdges"/>
<rect x="59.5" y="622.5" width="3" height="3.0" fill="#5aaee0" stroke="#22709c" stroke-width="1" shape-rendering="crispEdges"/>
<rect x="62.5" y="625.5" width="3" height="1.0" fill="#5aaee0" stroke="#22709c" stroke-width="1" shape-rendering="crispEdges"/>
<rect x="65.5" y="625.5" width="3" height="3.0" fill="#5aaee0" stroke="#22709c" stroke-width="1" shape-rendering="crispEdges"/>
<rect x="68.5" y="625.5" width="3" height="4.0" fill="#5aaee0" stroke="#22709c" stroke-width="1" shape-rendering="crispEdges"/>
<rect x="71.5" y="625.5" width="3" height="6.0" fill="#5aaee0" stroke="#22709c" stroke-width="1" shape-rendering="crispEdges"/>
<rect x="74.5" y="625.5" width="4" height="9.0" fill="#5aaee0" stroke="#22709c" stroke-width="1" shape-rendering="crispEdges"/>
<rect x="78.5" y="625.5" width="3" height="12.0" fill="#5aaee0" stroke="#22709c" stroke-width="1" shape-rendering="crispEdges"/>
<rect x="81.5" y="625.5" width="3" height="12.0" fill="#5aaee0" stroke="#22709c" stroke-width="1" shape-rendering="crispEdges"/>
<rect x="84.5" y="625.5" width="3" height="12.0" fill="#5aaee0" stroke="#22709c" stroke-width="1" shape-rendering="crispEdges"/>
<rect x="87.5" y="625.5" width="3" height="11.0" fill="#5aaee0" stroke="#22709c" stroke-width="1" shape-rendering="crispEdges"/>
<rect x="90.5" y="625.5" width="4" height="9.0" fill="#5aaee0" stroke="#22709c" stroke-width="1" shape-rendering="crispEdges"/>
<rect x="94.5" y="625.5" width="3" height="9.0" fill="#5aaee0" stroke="#22709c" stroke-width="1" shape-rendering="crispEdges"/>
<rect x="97.5" y="625.5" width="3" height="10.0" fill="#5aaee0" stroke="#22709c" stroke-width="1" shape-rendering="crispEdges"/>
<rect x="100.5" y="625.5" width="3" height="10.0" fill="#5aaee0" stroke="#22709c" stroke-width="1" shape-rendering="crispEdges"/>
<rect x="103.5" y="625.5" width="3" height="8.0" fill="#5aaee0" stroke="#22709c" stroke-width="1" shape-rendering="crispEdges"/>
<rect x="106.5" y="625.5" width="4" height="6.0" fill="#5aaee0" stroke="#22709c" stroke-width="1" shape-rendering="crispEdges"/>
<rect x="110.5" y="625.5" width="3" height="4.0" fill="#5aaee0" stroke="#22709c" stroke-width="1" shape-rendering="crispEdges"/>
<rect x="113.5" y="625.5" width="3" height="4.0" fill="#5aaee0" stroke="#22709c" stroke-width="1" shape-rendering="crispEdges"/>
<rect x="116.5" y="625.5" width="3" height="4.0" fill="#5aaee0" stroke="#22709c" stroke-width="1" shape-rendering="crispEdges"/>
<rect x="119.5" y="625.5" width="3" height="5.0" fill="#5aaee0" stroke="#22709c" stroke-width="1" shape-rendering="crispEdges"/>
<rect x="122.5" y="625.5" width="4" height="6.0" fill="#5aaee0" stroke="#22709c" stroke-width="1" shape-rendering="crispEdges"/>
<rect x="126.5" y="625.5" width="3" height="6.0" fill="#5aaee0" stroke="#22709c" stroke-width="1" shape-rendering="crispEdges"/>
<rect x="129.5" y="625.5" width="3" height="6.0" fill="#5aaee0" stroke="#22709c" stroke-width="1" shape-rendering="crispEdges"/>
<rect x="132.5" y="625.5" width="3" height="6.0" fill="#5aaee0" stroke="#22709c" stroke-width="1" shape-rendering="crispEdges"/>
<rect x="135.5" y="625.5" width="3" height="6.0" fill="#5aaee0" stroke="#22709c" stroke-width="1" shape-rendering="crispEdges"/>
<rect x="138.5" y="625.5" width="4" height="6.0" fill="#5aaee0" stroke="#22709c" stroke-width="1" shape-rendering="crispEdges"/>
<rect x="142.5" y="625.5" width="3" height="5.0" fill="#5aaee0" stroke="#22709c" stroke-width="1" shape-rendering="crispEdges"/>
<rect x="145.5" y="625.5" width="3" height="5.0" fill="#5aaee0" stroke="#22709c" stroke-width="1" shape-rendering="crispEdges"/>
<rect x="148.5" y="625.5" width="3" height="6.0" fill="#5aaee0" stroke="#22709c" stroke-width="1" shape-rendering="crispEdges"/>
<rect x="151.5" y="625.5" width="3" height="5.0" fill="#5aaee0" stroke="#22709c" stroke-width="1" shape-rendering="crispEdges"/>
<rect x="154.5" y="625.5" width="3" height="4.0" fill="#5aaee0" stroke="#22709c" stroke-width="1" shape-rendering="crispEdges"/>
<rect x="157.5" y="625.5" width="4" height="1.0" fill="#5aaee0" stroke="#22709c" stroke-width="1" shape-rendering="crispEdges"/>
<rect x="161.5" y="623.5" width="3" height="2.0" fill="#5aaee0" stroke="#22709c" stroke-width="1" shape-rendering="crispEdges"/>
<rect x="164.5" y="620.5" width="3" height="5.0" fill="#5aaee0" stroke="#22709c" stroke-width="1" shape-rendering="crispEdges"/>
<rect x="167.5" y="619.5" width="3" height="6.0" fill="#5aaee0" stroke="#22709c" stroke-width="1" shape-rendering="crispEdges"/>
<rect x="170.5" y="619.5" width="3" height="6.0" fill="#5aaee0" stroke="#22709c" stroke-width="1" shape-rendering="crispEdges"/>
<rect x="173.5" y="620.5" width="4" height="5.0" fill="#5aaee0" stroke="#22709c" stroke-width="1" shape-rendering="crispEdges"/>
<rect x="177.5" y="618.5" width="3" height="7.0" fill="#5aaee0" stroke="#22709c" stroke-width="1" shape-rendering="crispEdges"/>
<rect x="180.5" y="616.5" width="3" height="9.0" fill="#5aaee0" stroke="#22709c" stroke-width="1" shape-rendering="crispEdges"/>
<rect x="183.5" y="615.5" width="3" height="10.0" fill="#5aaee0" stroke="#22709c" stroke-width="1" shape-rendering="crispEdges"/>
<rect x="186.5" y="614.5" width="3" height="11.0" fill="#5aaee0" stroke="#22709c" stroke-width="1" shape-rendering="crispEdges"/>
<rect x="189.5" y="614.5" width="4" height="11.0" fill="#5aaee0" stroke="#22709c" stroke-width="1" shape-rendering="crispEdges"/>
<rect x="193.5" y="615.5" width="3" height="10.0" fill="#5aaee0" stroke="#22709c" stroke-width="1" shape-rendering="crispEdges"/>
<rect x="196.5" y="616.5" width="3" height="9.0" fill="#5aaee0" stroke="#22709c" stroke-width="1" shape-rendering="crispEdges"/>
<rect x="199.5" y="616.5" width="3" height="9.0" fill="#5aaee0" stroke="#22709c" stroke-width="1" shape-rendering="crispEdges"/>
<rect x="202.5" y="617.5" width="3" height="8.0" fill="#5aaee0" stroke="#22709c" stroke-width="1" shape-rendering="crispEdges"/>
<rect x="205.5" y="618.5" width="4" height="7.0" fill="#5aaee0" stroke="#22709c" stroke-width="1" shape-rendering="crispEdges"/>
<rect x="209.5" y="620.5" width="3" height="5.0" fill="#5aaee0" stroke="#22709c" stroke-width="1" shape-rendering="crispEdges"/>
<rect x="212.5" y="621.5" width="3" height="4.0" fill="#5aaee0" stroke="#22709c" stroke-width="1" shape-rendering="crispEdges"/>
<rect x="215.5" y="623.5" width="3" height="2.0" fill="#5aaee0" stroke="#22709c" stroke-width="1" shape-rendering="crispEdges"/>
<rect x="218.5" y="623.5" width="3" height="2.0" fill="#5aaee0" stroke="#22709c" stroke-width="1" shape-rendering="crispEdges"/>
<rect x="221.5" y="621.5" width="4" height="4.0" fill="#5aaee0" stroke="#22709c" stroke-width="1" shape-rendering="crispEdges"/>
<rect x="225.5" y="619.5" width="3" height="6.0" fill="#5aaee0" stroke="#22709c" stroke-width="1" shape-rendering="crispEdges"/>
<rect x="228.5" y="619.5" width="3" height="6.0" fill="#5aaee0" stroke="#22709c" stroke-width="1" shape-rendering="crispEdges"/>
<rect x="231.5" y="619.5" width="3" height="6.0" fill="#5aaee0" stroke="#22709c" stroke-width="1" shape-rendering="crispEdges"/>
<rect x="234.5" y="619.5" width="3" height="6.0" fill="#5aaee0" stroke="#22709c" stroke-width="1" shape-rendering="crispEdges"/>
<rect x="237.5" y="619.5" width="3" height="6.0" fill="#5aaee0" stroke="#22709c" stroke-width="1" shape-rendering="crispEdges"/>
<rect x="240.5" y="620.5" width="4" height="5.0" fill="#5aaee0" stroke="#22709c" stroke-width="1" shape-rendering="crispEdges"/>
<rect x="244.5" y="621.5" width="3" height="4.0" fill="#5aaee0" stroke="#22709c" stroke-width="1" shape-rendering="crispEdges"/>
<rect x="247.5" y="620.5" width="3" height="5.0" fill="#5aaee0" stroke="#22709c" stroke-width="1" shape-rendering="crispEdges"/>
<rect x="250.5" y="619.5" width="3" height="6.0" fill="#5aaee0" stroke="#22709c" stroke-width="1" shape-rendering="crispEdges"/>
<rect x="253.5" y="619.5" width="3" height="6.0" fill="#5aaee0" stroke="#22709c" stroke-width="1" shape-rendering="crispEdges"/>
<rect x="256.5" y="619.5" width="4" height="6.0" fill="#5aaee0" stroke="#22709c" stroke-width="1" shape-rendering="crispEdges"/>
<rect x="260.5" y="618.5" width="3" height="7.0" fill="#5aaee0" stroke="#22709c" stroke-width="1" shape-rendering="crispEdges"/>
<rect x="263.5" y="618.5" width="3" height="7.0" fill="#5aaee0" stroke="#22709c" stroke-width="1" shape-rendering="crispEdges"/>
<rect x="266.5" y="619.5" width="3" height="6.0" fill="#5aaee0" stroke="#22709c" stroke-width="1" shape-rendering="crispEdges"/>
<rect x="269.5" y="620.5" width="3" height="5.0" fill="#5aaee0" stroke="#22709c" stroke-width="1" shape-rendering="crispEdges"/>
<rect x="272.5" y="620.5" width="4" height="5.0" fill="#5aaee0" stroke="#22709c" stroke-width="1" shape-rendering="crispEdges"/>
<rect x="276.5" y="621.5" width="3" height="4.0" fill="#5aaee0" stroke="#22709c" stroke-width="1" shape-rendering="crispEdges"/>
<rect x="279" y="625" width="4" height="1.6" fill="#22709c"/>
<rect x="282.5" y="625.5" width="3" height="2.0" fill="#5aaee0" stroke="#22709c" stroke-width="1" shape-rendering="crispEdges"/>
<rect x="285.5" y="625.5" width="3" height="3.0" fill="#5aaee0" stroke="#22709c" stroke-width="1" shape-rendering="crispEdges"/>
<rect x="288.5" y="625.5" width="4" height="3.0" fill="#5aaee0" stroke="#22709c" stroke-width="1" shape-rendering="crispEdges"/>
<rect x="292.5" y="625.5" width="3" height="1.0" fill="#5aaee0" stroke="#22709c" stroke-width="1" shape-rendering="crispEdges"/>
<rect x="295.5" y="624.5" width="3" height="1.0" fill="#5aaee0" stroke="#22709c" stroke-width="1" shape-rendering="crispEdges"/>
<rect x="298.5" y="623.5" width="3" height="2.0" fill="#5aaee0" stroke="#22709c" stroke-width="1" shape-rendering="crispEdges"/>
<rect x="301.5" y="622.5" width="3" height="3.0" fill="#5aaee0" stroke="#22709c" stroke-width="1" shape-rendering="crispEdges"/>
<rect x="304.5" y="622.5" width="3" height="3.0" fill="#5aaee0" stroke="#22709c" stroke-width="1" shape-rendering="crispEdges"/>
<rect x="307.5" y="621.5" width="4" height="4.0" fill="#5aaee0" stroke="#22709c" stroke-width="1" shape-rendering="crispEdges"/>
<rect x="311.5" y="619.5" width="3" height="6.0" fill="#5aaee0" stroke="#22709c" stroke-width="1" shape-rendering="crispEdges"/>
<rect x="314.5" y="616.5" width="3" height="9.0" fill="#5aaee0" stroke="#22709c" stroke-width="1" shape-rendering="crispEdges"/>
<rect x="317.5" y="616.5" width="3" height="9.0" fill="#5aaee0" stroke="#22709c" stroke-width="1" shape-rendering="crispEdges"/>
<rect x="320.5" y="617.5" width="3" height="8.0" fill="#5aaee0" stroke="#22709c" stroke-width="1" shape-rendering="crispEdges"/>
<rect x="323.5" y="620.5" width="4" height="5.0" fill="#5aaee0" stroke="#22709c" stroke-width="1" shape-rendering="crispEdges"/>
<rect x="327.5" y="622.5" width="3" height="3.0" fill="#5aaee0" stroke="#22709c" stroke-width="1" shape-rendering="crispEdges"/>
<rect x="330.5" y="618.5" width="3" height="7.0" fill="#5aaee0" stroke="#22709c" stroke-width="1" shape-rendering="crispEdges"/>
<rect x="333.5" y="619.5" width="3" height="6.0" fill="#5aaee0" stroke="#22709c" stroke-width="1" shape-rendering="crispEdges"/>
<rect x="336.5" y="619.5" width="3" height="6.0" fill="#5aaee0" stroke="#22709c" stroke-width="1" shape-rendering="crispEdges"/>
<rect x="339.5" y="625.5" width="4" height="1.0" fill="#5aaee0" stroke="#22709c" stroke-width="1" shape-rendering="crispEdges"/>
<rect x="343.5" y="625.5" width="3" height="4.0" fill="#5aaee0" stroke="#22709c" stroke-width="1" shape-rendering="crispEdges"/>
<rect x="346.5" y="625.5" width="3" height="11.0" fill="#5aaee0" stroke="#22709c" stroke-width="1" shape-rendering="crispEdges"/>
<rect x="349.5" y="625.5" width="3" height="12.0" fill="#5aaee0" stroke="#22709c" stroke-width="1" shape-rendering="crispEdges"/>
<rect x="352.5" y="625.5" width="3" height="11.0" fill="#5aaee0" stroke="#22709c" stroke-width="1" shape-rendering="crispEdges"/>
<rect x="355.5" y="625.5" width="4" height="12.0" fill="#5aaee0" stroke="#22709c" stroke-width="1" shape-rendering="crispEdges"/>
<rect x="359.5" y="625.5" width="3" height="14.0" fill="#5aaee0" stroke="#22709c" stroke-width="1" shape-rendering="crispEdges"/>
<rect x="362.5" y="625.5" width="3" height="17.0" fill="#5aaee0" stroke="#22709c" stroke-width="1" shape-rendering="crispEdges"/>
<rect x="365.5" y="625.5" width="3" height="23.0" fill="#5aaee0" stroke="#22709c" stroke-width="1" shape-rendering="crispEdges"/>
<rect x="368.5" y="625.5" width="3" height="31.0" fill="#5aaee0" stroke="#22709c" stroke-width="1" shape-rendering="crispEdges"/>
<rect x="371.5" y="625.5" width="4" height="38.0" fill="#5aaee0" stroke="#22709c" stroke-width="1" shape-rendering="crispEdges"/>
<rect x="375.5" y="625.5" width="3" height="40.0" fill="#5aaee0" stroke="#22709c" stroke-width="1" shape-rendering="crispEdges"/>
<rect x="378.5" y="625.5" width="3" height="40.0" fill="#5aaee0" stroke="#22709c" stroke-width="1" shape-rendering="crispEdges"/>
<rect x="381.5" y="625.5" width="3" height="37.0" fill="#5aaee0" stroke="#22709c" stroke-width="1" shape-rendering="crispEdges"/>
<rect x="384.5" y="625.5" width="3" height="30.0" fill="#5aaee0" stroke="#22709c" stroke-width="1" shape-rendering="crispEdges"/>
<rect x="387.5" y="625.5" width="3" height="22.0" fill="#5aaee0" stroke="#22709c" stroke-width="1" shape-rendering="crispEdges"/>
<rect x="390.5" y="625.5" width="4" height="14.0" fill="#5aaee0" stroke="#22709c" stroke-width="1" shape-rendering="crispEdges"/>
<rect x="394.5" y="625.5" width="3" height="8.0" fill="#5aaee0" stroke="#22709c" stroke-width="1" shape-rendering="crispEdges"/>
<rect x="397.5" y="625.5" width="3" height="1.0" fill="#5aaee0" stroke="#22709c" stroke-width="1" shape-rendering="crispEdges"/>
<rect x="400.5" y="619.5" width="3" height="6.0" fill="#5aaee0" stroke="#22709c" stroke-width="1" shape-rendering="crispEdges"/>
<rect x="403.5" y="614.5" width="3" height="11.0" fill="#5aaee0" stroke="#22709c" stroke-width="1" shape-rendering="crispEdges"/>
<rect x="406.5" y="609.5" width="4" height="16.0" fill="#5aaee0" stroke="#22709c" stroke-width="1" shape-rendering="crispEdges"/>
<rect x="410.5" y="606.5" width="3" height="19.0" fill="#5aaee0" stroke="#22709c" stroke-width="1" shape-rendering="crispEdges"/>
<rect x="413.5" y="602.5" width="3" height="23.0" fill="#5aaee0" stroke="#22709c" stroke-width="1" shape-rendering="crispEdges"/>
<rect x="416.5" y="602.5" width="3" height="23.0" fill="#5aaee0" stroke="#22709c" stroke-width="1" shape-rendering="crispEdges"/>
<rect x="419.5" y="602.5" width="3" height="23.0" fill="#5aaee0" stroke="#22709c" stroke-width="1" shape-rendering="crispEdges"/>
<rect x="422.5" y="600.5" width="4" height="25.0" fill="#5aaee0" stroke="#22709c" stroke-width="1" shape-rendering="crispEdges"/>
<rect x="426.5" y="602.5" width="3" height="23.0" fill="#5aaee0" stroke="#22709c" stroke-width="1" shape-rendering="crispEdges"/>
<rect x="429.5" y="608.5" width="3" height="17.0" fill="#5aaee0" stroke="#22709c" stroke-width="1" shape-rendering="crispEdges"/>
<rect x="432.5" y="615.5" width="3" height="10.0" fill="#5aaee0" stroke="#22709c" stroke-width="1" shape-rendering="crispEdges"/>
<rect x="435.5" y="618.5" width="3" height="7.0" fill="#5aaee0" stroke="#22709c" stroke-width="1" shape-rendering="crispEdges"/>
<rect x="438.5" y="620.5" width="4" height="5.0" fill="#5aaee0" stroke="#22709c" stroke-width="1" shape-rendering="crispEdges"/>
<rect x="442.5" y="618.5" width="3" height="7.0" fill="#5aaee0" stroke="#22709c" stroke-width="1" shape-rendering="crispEdges"/>
<rect x="445.5" y="616.5" width="3" height="9.0" fill="#5aaee0" stroke="#22709c" stroke-width="1" shape-rendering="crispEdges"/>
<rect x="448.5" y="615.5" width="3" height="10.0" fill="#5aaee0" stroke="#22709c" stroke-width="1" shape-rendering="crispEdges"/>
<rect x="451.5" y="614.5" width="3" height="11.0" fill="#5aaee0" stroke="#22709c" stroke-width="1" shape-rendering="crispEdges"/>
<rect x="454.5" y="615.5" width="3" height="10.0" fill="#5aaee0" stroke="#22709c" stroke-width="1" shape-rendering="crispEdges"/>
<rect x="457.5" y="616.5" width="4" height="9.0" fill="#5aaee0" stroke="#22709c" stroke-width="1" shape-rendering="crispEdges"/>
<rect x="461.5" y="617.5" width="3" height="8.0" fill="#5aaee0" stroke="#22709c" stroke-width="1" shape-rendering="crispEdges"/>
<rect x="464.5" y="619.5" width="3" height="6.0" fill="#5aaee0" stroke="#22709c" stroke-width="1" shape-rendering="crispEdges"/>
<rect x="467.5" y="622.5" width="3" height="3.0" fill="#5aaee0" stroke="#22709c" stroke-width="1" shape-rendering="crispEdges"/>
<rect x="470.5" y="625.5" width="3" height="2.0" fill="#5aaee0" stroke="#22709c" stroke-width="1" shape-rendering="crispEdges"/>
<rect x="473.5" y="625.5" width="4" height="6.0" fill="#5aaee0" stroke="#22709c" stroke-width="1" shape-rendering="crispEdges"/>
<rect x="477.5" y="625.5" width="3" height="11.0" fill="#5aaee0" stroke="#22709c" stroke-width="1" shape-rendering="crispEdges"/>
<rect x="480.5" y="625.5" width="3" height="17.0" fill="#5aaee0" stroke="#22709c" stroke-width="1" shape-rendering="crispEdges"/>
<rect x="483.5" y="625.5" width="3" height="18.0" fill="#5aaee0" stroke="#22709c" stroke-width="1" shape-rendering="crispEdges"/>
<rect x="486.5" y="625.5" width="3" height="20.0" fill="#5aaee0" stroke="#22709c" stroke-width="1" shape-rendering="crispEdges"/>
<rect x="489.5" y="625.5" width="4" height="19.0" fill="#5aaee0" stroke="#22709c" stroke-width="1" shape-rendering="crispEdges"/>
<rect x="493.5" y="625.5" width="3" height="18.0" fill="#5aaee0" stroke="#22709c" stroke-width="1" shape-rendering="crispEdges"/>
<rect x="496.5" y="625.5" width="3" height="17.0" fill="#5aaee0" stroke="#22709c" stroke-width="1" shape-rendering="crispEdges"/>
<rect x="499.5" y="625.5" width="3" height="16.0" fill="#5aaee0" stroke="#22709c" stroke-width="1" shape-rendering="crispEdges"/>
<rect x="502.5" y="625.5" width="3" height="12.0" fill="#5aaee0" stroke="#22709c" stroke-width="1" shape-rendering="crispEdges"/>
<rect x="505.5" y="625.5" width="4" height="12.0" fill="#5aaee0" stroke="#22709c" stroke-width="1" shape-rendering="crispEdges"/>
<rect x="509.5" y="625.5" width="3" height="13.0" fill="#5aaee0" stroke="#22709c" stroke-width="1" shape-rendering="crispEdges"/>
<rect x="512.5" y="625.5" width="3" height="11.0" fill="#5aaee0" stroke="#22709c" stroke-width="1" shape-rendering="crispEdges"/>
<rect x="515.5" y="625.5" width="3" height="8.0" fill="#5aaee0" stroke="#22709c" stroke-width="1" shape-rendering="crispEdges"/>
<rect x="518.5" y="625.5" width="3" height="3.0" fill="#5aaee0" stroke="#22709c" stroke-width="1" shape-rendering="crispEdges"/>
<rect x="521.5" y="624.5" width="4" height="1.0" fill="#5aaee0" stroke="#22709c" stroke-width="1" shape-rendering="crispEdges"/>
<rect x="525.5" y="622.5" width="3" height="3.0" fill="#5aaee0" stroke="#22709c" stroke-width="1" shape-rendering="crispEdges"/>
<rect x="528.5" y="621.5" width="3" height="4.0" fill="#5aaee0" stroke="#22709c" stroke-width="1" shape-rendering="crispEdges"/>
<rect x="531.5" y="622.5" width="3" height="3.0" fill="#5aaee0" stroke="#22709c" stroke-width="1" shape-rendering="crispEdges"/>
<rect x="534.5" y="621.5" width="3" height="4.0" fill="#5aaee0" stroke="#22709c" stroke-width="1" shape-rendering="crispEdges"/>
<rect x="537.5" y="620.5" width="3" height="5.0" fill="#5aaee0" stroke="#22709c" stroke-width="1" shape-rendering="crispEdges"/>
<rect x="540.5" y="621.5" width="4" height="4.0" fill="#5aaee0" stroke="#22709c" stroke-width="1" shape-rendering="crispEdges"/>
<rect x="544.5" y="621.5" width="3" height="4.0" fill="#5aaee0" stroke="#22709c" stroke-width="1" shape-rendering="crispEdges"/>
<rect x="547.5" y="622.5" width="3" height="3.0" fill="#5aaee0" stroke="#22709c" stroke-width="1" shape-rendering="crispEdges"/>
<rect x="550.5" y="623.5" width="3" height="2.0" fill="#5aaee0" stroke="#22709c" stroke-width="1" shape-rendering="crispEdges"/>
<rect x="553" y="625" width="4" height="1.6" fill="#22709c"/>
<rect x="556.5" y="623.5" width="4" height="2.0" fill="#5aaee0" stroke="#22709c" stroke-width="1" shape-rendering="crispEdges"/>
<rect x="560.5" y="621.5" width="3" height="4.0" fill="#5aaee0" stroke="#22709c" stroke-width="1" shape-rendering="crispEdges"/>
<rect x="563.5" y="618.5" width="3" height="7.0" fill="#5aaee0" stroke="#22709c" stroke-width="1" shape-rendering="crispEdges"/>
<rect x="566.5" y="617.5" width="3" height="8.0" fill="#5aaee0" stroke="#22709c" stroke-width="1" shape-rendering="crispEdges"/>
<rect x="569.5" y="618.5" width="3" height="7.0" fill="#5aaee0" stroke="#22709c" stroke-width="1" shape-rendering="crispEdges"/>
<rect x="572.5" y="617.5" width="4" height="8.0" fill="#5aaee0" stroke="#22709c" stroke-width="1" shape-rendering="crispEdges"/>
<rect x="576.5" y="616.5" width="3" height="9.0" fill="#5aaee0" stroke="#22709c" stroke-width="1" shape-rendering="crispEdges"/>
<rect x="579.5" y="617.5" width="3" height="8.0" fill="#5aaee0" stroke="#22709c" stroke-width="1" shape-rendering="crispEdges"/>
<rect x="582.5" y="617.5" width="3" height="8.0" fill="#5aaee0" stroke="#22709c" stroke-width="1" shape-rendering="crispEdges"/>
<rect x="585.5" y="618.5" width="3" height="7.0" fill="#5aaee0" stroke="#22709c" stroke-width="1" shape-rendering="crispEdges"/>
<rect x="588.5" y="620.5" width="4" height="5.0" fill="#5aaee0" stroke="#22709c" stroke-width="1" shape-rendering="crispEdges"/>
<rect x="592.5" y="621.5" width="3" height="4.0" fill="#5aaee0" stroke="#22709c" stroke-width="1" shape-rendering="crispEdges"/>
<rect x="595.5" y="620.5" width="3" height="5.0" fill="#5aaee0" stroke="#22709c" stroke-width="1" shape-rendering="crispEdges"/>
<rect x="598.5" y="621.5" width="3" height="4.0" fill="#5aaee0" stroke="#22709c" stroke-width="1" shape-rendering="crispEdges"/>
<rect x="601.5" y="620.5" width="3" height="5.0" fill="#5aaee0" stroke="#22709c" stroke-width="1" shape-rendering="crispEdges"/>
<rect x="604.5" y="621.5" width="4" height="4.0" fill="#5aaee0" stroke="#22709c" stroke-width="1" shape-rendering="crispEdges"/>
<rect x="608.5" y="623.5" width="3" height="2.0" fill="#5aaee0" stroke="#22709c" stroke-width="1" shape-rendering="crispEdges"/>
<rect x="611.5" y="621.5" width="3" height="4.0" fill="#5aaee0" stroke="#22709c" stroke-width="1" shape-rendering="crispEdges"/>
<rect x="614.5" y="617.5" width="3" height="8.0" fill="#5aaee0" stroke="#22709c" stroke-width="1" shape-rendering="crispEdges"/>
<rect x="617.5" y="614.5" width="3" height="11.0" fill="#5aaee0" stroke="#22709c" stroke-width="1" shape-rendering="crispEdges"/>
<rect x="620.5" y="613.5" width="3" height="12.0" fill="#5aaee0" stroke="#22709c" stroke-width="1" shape-rendering="crispEdges"/>
<rect x="623.5" y="613.5" width="4" height="12.0" fill="#5aaee0" stroke="#22709c" stroke-width="1" shape-rendering="crispEdges"/>
<rect x="627.5" y="613.5" width="3" height="12.0" fill="#5aaee0" stroke="#22709c" stroke-width="1" shape-rendering="crispEdges"/>
<rect x="630.5" y="617.5" width="3" height="8.0" fill="#5aaee0" stroke="#22709c" stroke-width="1" shape-rendering="crispEdges"/>
<rect x="633" y="625" width="4" height="1.6" fill="#22709c"/>
<rect x="636.5" y="625.5" width="3" height="3.0" fill="#5aaee0" stroke="#22709c" stroke-width="1" shape-rendering="crispEdges"/>
<rect x="639.5" y="625.5" width="4" height="6.0" fill="#5aaee0" stroke="#22709c" stroke-width="1" shape-rendering="crispEdges"/>
<rect x="643.5" y="625.5" width="3" height="9.0" fill="#5aaee0" stroke="#22709c" stroke-width="1" shape-rendering="crispEdges"/>
<rect x="646.5" y="625.5" width="3" height="13.0" fill="#5aaee0" stroke="#22709c" stroke-width="1" shape-rendering="crispEdges"/>
<rect x="649.5" y="625.5" width="3" height="17.0" fill="#5aaee0" stroke="#22709c" stroke-width="1" shape-rendering="crispEdges"/>
<rect x="652.5" y="625.5" width="3" height="18.0" fill="#5aaee0" stroke="#22709c" stroke-width="1" shape-rendering="crispEdges"/>
<rect x="655.5" y="625.5" width="4" height="19.0" fill="#5aaee0" stroke="#22709c" stroke-width="1" shape-rendering="crispEdges"/>
<rect x="659.5" y="625.5" width="3" height="19.0" fill="#5aaee0" stroke="#22709c" stroke-width="1" shape-rendering="crispEdges"/>
<rect x="662.5" y="625.5" width="3" height="19.0" fill="#5aaee0" stroke="#22709c" stroke-width="1" shape-rendering="crispEdges"/>
<rect x="665.5" y="625.5" width="3" height="17.0" fill="#5aaee0" stroke="#22709c" stroke-width="1" shape-rendering="crispEdges"/>
<rect x="668.5" y="625.5" width="3" height="15.0" fill="#5aaee0" stroke="#22709c" stroke-width="1" shape-rendering="crispEdges"/>
<rect x="671.5" y="625.5" width="4" height="13.0" fill="#5aaee0" stroke="#22709c" stroke-width="1" shape-rendering="crispEdges"/>
<rect x="675.5" y="625.5" width="3" height="13.0" fill="#5aaee0" stroke="#22709c" stroke-width="1" shape-rendering="crispEdges"/>
<rect x="678.5" y="625.5" width="3" height="11.0" fill="#5aaee0" stroke="#22709c" stroke-width="1" shape-rendering="crispEdges"/>
<rect x="681.5" y="625.5" width="3" height="8.0" fill="#5aaee0" stroke="#22709c" stroke-width="1" shape-rendering="crispEdges"/>
<rect x="684.5" y="625.5" width="3" height="8.0" fill="#5aaee0" stroke="#22709c" stroke-width="1" shape-rendering="crispEdges"/>
<rect x="687.5" y="625.5" width="3" height="8.0" fill="#5aaee0" stroke="#22709c" stroke-width="1" shape-rendering="crispEdges"/>
<rect x="690.5" y="625.5" width="4" height="8.0" fill="#5aaee0" stroke="#22709c" stroke-width="1" shape-rendering="crispEdges"/>
<rect x="694.5" y="625.5" width="3" height="7.0" fill="#5aaee0" stroke="#22709c" stroke-width="1" shape-rendering="crispEdges"/>
<rect x="697.5" y="625.5" width="3" height="6.0" fill="#5aaee0" stroke="#22709c" stroke-width="1" shape-rendering="crispEdges"/>
<rect x="700.5" y="625.5" width="3" height="4.0" fill="#5aaee0" stroke="#22709c" stroke-width="1" shape-rendering="crispEdges"/>
<rect x="703.5" y="625.5" width="3" height="3.0" fill="#5aaee0" stroke="#22709c" stroke-width="1" shape-rendering="crispEdges"/>
<rect x="706.5" y="625.5" width="4" height="3.0" fill="#5aaee0" stroke="#22709c" stroke-width="1" shape-rendering="crispEdges"/>
<rect x="710.5" y="625.5" width="3" height="3.0" fill="#5aaee0" stroke="#22709c" stroke-width="1" shape-rendering="crispEdges"/>
<rect x="713.5" y="625.5" width="3" height="1.0" fill="#5aaee0" stroke="#22709c" stroke-width="1" shape-rendering="crispEdges"/>
<rect x="716.5" y="624.5" width="3" height="1.0" fill="#5aaee0" stroke="#22709c" stroke-width="1" shape-rendering="crispEdges"/>
<rect x="719.5" y="621.5" width="3" height="4.0" fill="#5aaee0" stroke="#22709c" stroke-width="1" shape-rendering="crispEdges"/>
<rect x="722.5" y="619.5" width="4" height="6.0" fill="#5aaee0" stroke="#22709c" stroke-width="1" shape-rendering="crispEdges"/>
<rect x="726.5" y="619.5" width="3" height="6.0" fill="#5aaee0" stroke="#22709c" stroke-width="1" shape-rendering="crispEdges"/>
<rect x="729.5" y="622.5" width="3" height="3.0" fill="#5aaee0" stroke="#22709c" stroke-width="1" shape-rendering="crispEdges"/>
<rect x="732.5" y="622.5" width="3" height="3.0" fill="#5aaee0" stroke="#22709c" stroke-width="1" shape-rendering="crispEdges"/>
<rect x="735.5" y="621.5" width="3" height="4.0" fill="#5aaee0" stroke="#22709c" stroke-width="1" shape-rendering="crispEdges"/>
<rect x="738.5" y="621.5" width="4" height="4.0" fill="#5aaee0" stroke="#22709c" stroke-width="1" shape-rendering="crispEdges"/>
<rect x="742.5" y="619.5" width="3" height="6.0" fill="#5aaee0" stroke="#22709c" stroke-width="1" shape-rendering="crispEdges"/>
<rect x="745.5" y="614.5" width="3" height="11.0" fill="#5aaee0" stroke="#22709c" stroke-width="1" shape-rendering="crispEdges"/>
<rect x="748.5" y="613.5" width="3" height="12.0" fill="#5aaee0" stroke="#22709c" stroke-width="1" shape-rendering="crispEdges"/>
<rect x="751.5" y="615.5" width="3" height="10.0" fill="#5aaee0" stroke="#22709c" stroke-width="1" shape-rendering="crispEdges"/>
<rect x="754.5" y="615.5" width="4" height="10.0" fill="#5aaee0" stroke="#22709c" stroke-width="1" shape-rendering="crispEdges"/>
<rect x="758.5" y="623.5" width="3" height="2.0" fill="#5aaee0" stroke="#22709c" stroke-width="1" shape-rendering="crispEdges"/>
<rect x="761.5" y="624.5" width="3" height="1.0" fill="#5aaee0" stroke="#22709c" stroke-width="1" shape-rendering="crispEdges"/>
<rect x="764" y="625" width="4" height="1.6" fill="#22709c"/>
<rect x="767.5" y="625.5" width="3" height="1.0" fill="#5aaee0" stroke="#22709c" stroke-width="1" shape-rendering="crispEdges"/>
<rect x="770" y="625" width="4" height="1.6" fill="#22709c"/>
<rect x="773.5" y="625.5" width="4" height="2.0" fill="#5aaee0" stroke="#22709c" stroke-width="1" shape-rendering="crispEdges"/>
<rect x="777.5" y="625.5" width="3" height="1.0" fill="#5aaee0" stroke="#22709c" stroke-width="1" shape-rendering="crispEdges"/>
<rect x="780" y="625" width="4" height="1.6" fill="#22709c"/>
<rect x="783.5" y="625.5" width="3" height="1.0" fill="#5aaee0" stroke="#22709c" stroke-width="1" shape-rendering="crispEdges"/>
<rect x="786" y="625" width="4" height="1.6" fill="#22709c"/>
<rect x="789.5" y="623.5" width="4" height="2.0" fill="#5aaee0" stroke="#22709c" stroke-width="1" shape-rendering="crispEdges"/>
<rect x="793.5" y="621.5" width="3" height="4.0" fill="#5aaee0" stroke="#22709c" stroke-width="1" shape-rendering="crispEdges"/>
<rect x="796.5" y="620.5" width="3" height="5.0" fill="#5aaee0" stroke="#22709c" stroke-width="1" shape-rendering="crispEdges"/>
<rect x="799.5" y="621.5" width="3" height="4.0" fill="#5aaee0" stroke="#22709c" stroke-width="1" shape-rendering="crispEdges"/>
<rect x="802.5" y="623.5" width="3" height="2.0" fill="#5aaee0" stroke="#22709c" stroke-width="1" shape-rendering="crispEdges"/>
<rect x="805.5" y="625.5" width="4" height="11.0" fill="#5aaee0" stroke="#22709c" stroke-width="1" shape-rendering="crispEdges"/>
<rect x="809.5" y="625.5" width="3" height="16.0" fill="#5aaee0" stroke="#22709c" stroke-width="1" shape-rendering="crispEdges"/>
<rect x="812.5" y="625.5" width="3" height="17.0" fill="#5aaee0" stroke="#22709c" stroke-width="1" shape-rendering="crispEdges"/>
<rect x="815.5" y="625.5" width="3" height="21.0" fill="#5aaee0" stroke="#22709c" stroke-width="1" shape-rendering="crispEdges"/>
<rect x="818.5" y="625.5" width="3" height="21.0" fill="#5aaee0" stroke="#22709c" stroke-width="1" shape-rendering="crispEdges"/>
<polyline points="17.7,612.3 20.9,611.4 24.1,610.6 27.3,609.5 30.5,607.9 33.7,606.1 36.9,603.9 40.1,601.7 43.3,599.9 46.5,598.2 49.7,596.5 52.9,595.1 56.0,593.7 59.2,592.7 62.4,592.8 65.6,593.3 68.8,594.2 72.0,595.6 75.2,597.8 78.4,600.7 81.6,603.6 84.8,606.4 88.0,609.1 91.2,611.3 94.3,613.5 97.5,616.0 100.7,618.2 103.9,620.1 107.1,621.3 110.3,622.2 113.5,623.1 116.7,624.0 119.9,625.2 123.1,626.5 126.3,627.9 129.5,629.3 132.6,630.6 135.8,631.9 139.0,633.3 142.2,634.5 145.4,635.7 148.6,637.0 151.8,638.1 155.0,639.0 158.2,639.2 161.4,638.5 164.6,637.1 167.8,635.5 170.9,634.0 174.1,632.5 177.3,630.6 180.5,628.4 183.7,625.7 186.9,623.0 190.1,620.2 193.3,617.6 196.5,615.1 199.7,612.8 202.9,610.6 206.1,608.8 209.2,607.4 212.4,606.4 215.6,605.7 218.8,605.1 222.0,604.0 225.2,602.4 228.4,600.7 231.6,599.1 234.8,597.5 238.0,595.8 241.2,594.4 244.4,593.1 247.5,591.8 250.7,590.2 253.9,588.5 257.1,586.8 260.3,584.9 263.5,583.0 266.7,581.5 269.9,580.1 273.1,578.8 276.3,577.8 279.5,577.6 282.7,578.0 285.8,578.8 289.0,579.4 292.2,579.4 295.4,579.1 298.6,578.5 301.8,577.7 305.0,576.8 308.2,575.7 311.4,574.1 314.6,571.8 317.8,569.3 321.0,567.2 324.1,565.9 327.3,564.9 330.5,563.1 333.7,561.4 336.9,559.8 340.1,559.9 343.3,560.8 346.5,563.4 349.7,566.2 352.9,568.9 356.1,571.9 359.3,575.3 362.4,579.3 365.6,584.8 368.8,592.4 372.0,601.7 375.2,611.7 378.4,621.5 381.6,630.7 384.8,638.0 388.0,643.3 391.2,646.7 394.4,648.5 397.6,648.5 400.7,646.9 403.9,644.0 407.1,640.0 410.3,635.0 413.5,629.2 416.7,623.2 419.9,617.3 423.1,611.0 426.3,605.2 429.5,600.9 432.7,598.3 435.9,596.5 439.0,595.1 442.2,593.4 445.4,591.0 448.6,588.5 451.8,585.6 455.0,582.9 458.2,580.5 461.4,578.5 464.6,576.9 467.8,575.9 471.0,576.2 474.2,577.5 477.3,580.2 480.5,584.2 483.7,588.5 486.9,593.3 490.1,598.1 493.3,602.5 496.5,606.7 499.7,610.5 502.9,613.4 506.1,616.2 509.3,619.2 512.5,621.8 515.6,623.6 518.8,624.3 522.0,624.0 525.2,623.0 528.4,622.0 531.6,621.1 534.8,619.9 538.0,618.6 541.2,617.4 544.4,616.2 547.6,615.4 550.8,614.9 553.9,614.8 557.1,614.2 560.3,613.1 563.5,611.2 566.7,609.0 569.9,607.2 573.1,605.2 576.3,602.8 579.5,600.6 582.7,598.5 585.9,596.8 589.1,595.3 592.2,594.0 595.4,592.5 598.6,591.4 601.8,590.1 605.0,589.0 608.2,588.2 611.4,587.2 614.6,585.1 617.8,582.4 621.0,579.1 624.2,576.1 627.4,572.9 630.5,570.7 633.7,570.7 636.9,571.3 640.1,572.7 643.3,574.8 646.5,578.1 649.7,582.1 652.9,586.6 656.1,591.2 659.3,595.7 662.5,600.4 665.7,604.5 668.8,608.0 672.0,611.3 675.2,614.3 678.4,616.9 681.6,618.7 684.8,620.5 688.0,622.4 691.2,624.2 694.4,625.8 697.6,627.2 700.8,628.1 704.0,628.7 707.1,629.4 710.3,629.9 713.5,630.2 716.7,629.9 719.9,628.8 723.1,627.1 726.3,625.4 729.5,624.5 732.7,623.6 735.9,622.6 739.1,621.5 742.3,619.8 745.4,617.0 748.6,613.9 751.8,611.2 755.0,608.7 758.2,607.9 761.4,607.6 764.6,607.5 767.8,607.7 771.0,607.7 774.2,607.9 777.4,608.1 780.6,608.0 783.7,608.1 786.9,608.1 790.1,607.5 793.3,606.3 796.5,604.9 799.7,603.7 802.9,603.1 806.1,605.8 809.3,609.6 812.5,613.7 815.7,618.8 818.9,623.8" fill="none" stroke="#ff0000" stroke-width="1.25" stroke-linejoin="round" />
<polyline points="17.7,608.8 20.9,608.0 24.1,607.5 27.3,605.2 30.5,601.5 33.7,599.0 36.9,595.0 40.1,593.0 43.3,592.5 46.5,591.2 49.7,589.7 52.9,589.7 56.0,588.1 59.2,588.7 62.4,593.0 65.6,595.6 68.8,597.4 72.0,601.4 75.2,606.7 78.4,612.3 81.6,615.2 84.8,617.8 88.0,619.6 91.2,620.2 94.3,622.2 97.5,625.9 100.7,627.4 103.9,627.4 107.1,626.4 110.3,625.8 113.5,626.4 116.7,627.6 119.9,629.9 123.1,631.7 126.3,633.6 129.5,634.8 132.6,635.6 135.8,637.1 139.0,639.2 142.2,639.3 145.4,640.4 148.6,642.1 151.8,642.7 155.0,642.5 158.2,640.1 161.4,635.6 164.6,631.3 167.8,629.2 170.9,628.0 174.1,626.6 177.3,623.2 180.5,619.2 183.7,615.2 186.9,611.9 190.1,609.2 193.3,606.9 196.5,605.2 199.7,603.8 202.9,602.0 206.1,601.4 209.2,601.7 212.4,602.3 215.6,603.3 218.8,602.6 222.0,599.3 225.2,596.3 228.4,594.0 231.6,592.6 234.8,591.1 238.0,589.1 241.2,588.6 244.4,588.2 247.5,586.4 250.7,583.8 253.9,581.8 257.1,579.9 260.3,577.3 263.5,575.3 266.7,575.4 269.9,574.9 273.1,573.6 276.3,573.4 279.5,577.2 282.7,579.5 285.8,581.7 289.0,582.0 292.2,579.6 295.4,577.6 298.6,576.1 301.8,574.6 305.0,573.2 308.2,571.4 311.4,567.7 314.6,562.4 317.8,559.4 321.0,558.7 324.1,560.7 327.3,561.2 330.5,555.7 333.7,554.7 336.9,553.2 340.1,560.3 343.3,564.5 346.5,573.8 349.7,577.5 352.9,579.5 356.1,583.8 359.3,589.0 362.4,595.4 365.6,606.9 368.8,622.9 372.0,638.8 375.2,651.5 378.4,661.0 381.6,667.3 384.8,667.5 388.0,664.5 391.2,660.0 394.4,655.7 397.6,648.6 400.7,640.6 403.9,632.2 407.1,624.0 410.3,615.1 413.5,606.0 416.7,599.3 419.9,593.4 423.1,585.8 426.3,582.2 429.5,583.8 432.7,587.7 435.9,589.5 439.0,589.5 442.2,586.2 445.4,581.4 448.6,578.4 451.8,573.9 455.0,572.1 458.2,571.2 461.4,570.2 464.6,570.5 467.8,572.1 471.0,577.2 474.2,582.8 477.3,590.8 480.5,600.4 483.7,605.8 486.9,612.6 490.1,617.0 493.3,620.1 496.5,623.5 499.7,625.7 502.9,624.9 506.1,627.6 509.3,631.3 512.5,632.1 515.6,630.7 518.8,626.9 522.0,622.9 525.2,619.3 528.4,617.9 531.6,617.5 534.8,615.3 538.0,613.2 541.2,612.4 544.4,611.4 547.6,612.4 550.8,612.8 553.9,614.3 557.1,612.0 560.3,608.7 563.5,603.4 566.7,600.3 569.9,600.0 573.1,597.2 576.3,593.3 579.5,591.6 582.7,590.3 585.9,589.6 589.1,589.3 592.2,589.0 595.4,586.6 598.6,586.7 601.8,584.9 605.0,584.6 608.2,585.2 611.4,583.2 614.6,576.7 617.8,571.2 621.0,566.2 624.2,564.0 627.4,560.1 630.5,562.0 633.7,570.4 636.9,574.1 640.1,578.3 643.3,583.1 646.5,591.0 649.7,598.4 652.9,604.4 656.1,609.5 659.3,614.0 662.5,618.9 665.7,620.8 668.8,622.3 672.0,624.2 675.2,626.5 678.4,627.0 681.6,626.3 684.8,627.8 688.0,629.6 691.2,631.4 694.4,632.4 697.6,632.6 700.8,632.0 704.0,631.1 707.1,632.1 710.3,632.0 713.5,631.0 716.7,628.8 719.9,624.7 723.1,620.1 726.3,618.8 729.5,620.6 732.7,620.2 735.9,618.6 739.1,616.9 742.3,612.9 745.4,605.9 748.6,601.5 751.8,600.6 755.0,598.6 758.2,605.0 761.4,606.3 764.6,606.9 767.8,608.6 771.0,607.5 774.2,608.9 777.4,609.0 780.6,607.5 783.7,608.5 786.9,607.9 790.1,605.2 793.3,601.5 796.5,599.3 799.7,599.1 802.9,600.6 806.1,616.4 809.3,625.0 812.5,630.1 815.7,639.1 818.9,644.0" fill="none" stroke="#000" stroke-width="1.9" stroke-linejoin="round" />
<rect x="16.5" y="544.5" width="840" height="130" fill="none" stroke="#b3b3b3" stroke-width="1"/>
<line x1="857" y1="668.5" x2="859" y2="668.5" stroke="#b3b3b3" stroke-width="1"/>
<line x1="857" y1="655.5" x2="859" y2="655.5" stroke="#b3b3b3" stroke-width="1"/>
<line x1="857" y1="640.5" x2="859" y2="640.5" stroke="#b3b3b3" stroke-width="1"/>
<line x1="857" y1="625.5" x2="859" y2="625.5" stroke="#b3b3b3" stroke-width="1"/>
<line x1="857" y1="610.5" x2="859" y2="610.5" stroke="#b3b3b3" stroke-width="1"/>
<line x1="857" y1="595.5" x2="859" y2="595.5" stroke="#b3b3b3" stroke-width="1"/>
<line x1="857" y1="580.5" x2="859" y2="580.5" stroke="#b3b3b3" stroke-width="1"/>
<line x1="857" y1="565.5" x2="859" y2="565.5" stroke="#b3b3b3" stroke-width="1"/>
<line x1="857" y1="550.5" x2="859" y2="550.5" stroke="#b3b3b3" stroke-width="1"/>
<text x="861.8" y="670.6" font-size="10" textLength="14.5" lengthAdjust="spacing" style="font-family:'Liberation Sans', Arial, sans-serif" fill="#000">-75</text>
<text x="861.8" y="657.6" font-size="10" textLength="14.5" lengthAdjust="spacing" style="font-family:'Liberation Sans', Arial, sans-serif" fill="#000">-50</text>
<text x="861.8" y="642.6" font-size="10" textLength="14.5" lengthAdjust="spacing" style="font-family:'Liberation Sans', Arial, sans-serif" fill="#000">-25</text>
<text x="870.7" y="627.6" font-size="10" textLength="5.5" lengthAdjust="spacing" style="font-family:'Liberation Sans', Arial, sans-serif" fill="#000">0</text>
<text x="865.1" y="612.6" font-size="10" textLength="11.1" lengthAdjust="spacing" style="font-family:'Liberation Sans', Arial, sans-serif" fill="#000">25</text>
<text x="865.1" y="597.6" font-size="10" textLength="11.1" lengthAdjust="spacing" style="font-family:'Liberation Sans', Arial, sans-serif" fill="#000">50</text>
<text x="865.1" y="582.6" font-size="10" textLength="11.1" lengthAdjust="spacing" style="font-family:'Liberation Sans', Arial, sans-serif" fill="#000">75</text>
<text x="859.6" y="567.6" font-size="10" textLength="16.6" lengthAdjust="spacing" style="font-family:'Liberation Sans', Arial, sans-serif" fill="#000">100</text>
<text x="859.6" y="552.6" font-size="10" textLength="16.6" lengthAdjust="spacing" style="font-family:'Liberation Sans', Arial, sans-serif" fill="#000">125</text>
<rect x="17" y="546" width="241" height="12" fill="#fff"/>
<rect x="19.3" y="550" width="8.4" height="2" fill="#000"/>
<text x="31.3" y="554.6" font-size="9.6" textLength="131.4" lengthAdjust="spacing" style="font-family:'DejaVu Sans', Verdana, sans-serif" fill="#000">MACD(12,26,9) -31.035</text>
<text x="163.2" y="554.6" font-size="9.6" textLength="40.3" lengthAdjust="spacing" style="font-family:'DejaVu Sans', Verdana, sans-serif" fill="#ff0000">, 2.747</text>
<text x="204.9" y="554.6" font-size="9.6" textLength="50.5" lengthAdjust="spacing" style="font-family:'DejaVu Sans', Verdana, sans-serif" fill="#4aa3d8">, -33.783</text>
<line x1="16" y1="681.5" x2="857" y2="681.5" stroke="#d9d9d9" stroke-width="1" />
<line x1="16" y1="693.5" x2="857" y2="693.5" stroke="#d9d9d9" stroke-width="1" />
<line x1="16" y1="716.5" x2="857" y2="716.5" stroke="#d9d9d9" stroke-width="1" />
<line x1="16" y1="728.5" x2="857" y2="728.5" stroke="#d9d9d9" stroke-width="1" />
<line x1="16" y1="751.5" x2="857" y2="751.5" stroke="#d9d9d9" stroke-width="1" />
<line x1="16" y1="763.5" x2="857" y2="763.5" stroke="#d9d9d9" stroke-width="1" />
<line x1="16" y1="786.5" x2="857" y2="786.5" stroke="#d9d9d9" stroke-width="1" />
<line x1="16" y1="797.5" x2="857" y2="797.5" stroke="#d9d9d9" stroke-width="1" />
<line x1="52.5" y1="674" x2="52.5" y2="805" stroke="#d9d9d9" stroke-width="1"/>
<line x1="33.5" y1="674" x2="33.5" y2="805" stroke="#a6a6a6" stroke-width="1"/>
<line x1="90.5" y1="674" x2="90.5" y2="805" stroke="#d9d9d9" stroke-width="1"/>
<line x1="71.5" y1="674" x2="71.5" y2="805" stroke="#a6a6a6" stroke-width="1"/>
<line x1="129.5" y1="674" x2="129.5" y2="805" stroke="#d9d9d9" stroke-width="1"/>
<line x1="110.5" y1="674" x2="110.5" y2="805" stroke="#a6a6a6" stroke-width="1"/>
<line x1="167.5" y1="674" x2="167.5" y2="805" stroke="#d9d9d9" stroke-width="1"/>
<line x1="148.5" y1="674" x2="148.5" y2="805" stroke="#a6a6a6" stroke-width="1"/>
<line x1="205.5" y1="674" x2="205.5" y2="805" stroke="#d9d9d9" stroke-width="1"/>
<line x1="186.5" y1="674" x2="186.5" y2="805" stroke="#a6a6a6" stroke-width="1"/>
<line x1="244.5" y1="674" x2="244.5" y2="805" stroke="#d9d9d9" stroke-width="1"/>
<line x1="224.5" y1="674" x2="224.5" y2="805" stroke="#a6a6a6" stroke-width="1"/>
<line x1="282.5" y1="674" x2="282.5" y2="805" stroke="#d9d9d9" stroke-width="1"/>
<line x1="263.5" y1="674" x2="263.5" y2="805" stroke="#a6a6a6" stroke-width="1"/>
<line x1="320.5" y1="674" x2="320.5" y2="805" stroke="#d9d9d9" stroke-width="1"/>
<line x1="301.5" y1="674" x2="301.5" y2="805" stroke="#a6a6a6" stroke-width="1"/>
<line x1="358.5" y1="674" x2="358.5" y2="805" stroke="#d9d9d9" stroke-width="1"/>
<line x1="339.5" y1="674" x2="339.5" y2="805" stroke="#a6a6a6" stroke-width="1"/>
<line x1="397.5" y1="674" x2="397.5" y2="805" stroke="#d9d9d9" stroke-width="1"/>
<line x1="378.5" y1="674" x2="378.5" y2="805" stroke="#a6a6a6" stroke-width="1"/>
<line x1="435.5" y1="674" x2="435.5" y2="805" stroke="#d9d9d9" stroke-width="1"/>
<line x1="416.5" y1="674" x2="416.5" y2="805" stroke="#a6a6a6" stroke-width="1"/>
<line x1="473.5" y1="674" x2="473.5" y2="805" stroke="#d9d9d9" stroke-width="1"/>
<line x1="454.5" y1="674" x2="454.5" y2="805" stroke="#a6a6a6" stroke-width="1"/>
<line x1="512.5" y1="674" x2="512.5" y2="805" stroke="#d9d9d9" stroke-width="1"/>
<line x1="493.5" y1="674" x2="493.5" y2="805" stroke="#a6a6a6" stroke-width="1"/>
<line x1="550.5" y1="674" x2="550.5" y2="805" stroke="#d9d9d9" stroke-width="1"/>
<line x1="531.5" y1="674" x2="531.5" y2="805" stroke="#a6a6a6" stroke-width="1"/>
<line x1="588.5" y1="674" x2="588.5" y2="805" stroke="#d9d9d9" stroke-width="1"/>
<line x1="569.5" y1="674" x2="569.5" y2="805" stroke="#a6a6a6" stroke-width="1"/>
<line x1="627.5" y1="674" x2="627.5" y2="805" stroke="#d9d9d9" stroke-width="1"/>
<line x1="607.5" y1="674" x2="607.5" y2="805" stroke="#a6a6a6" stroke-width="1"/>
<line x1="665.5" y1="674" x2="665.5" y2="805" stroke="#d9d9d9" stroke-width="1"/>
<line x1="646.5" y1="674" x2="646.5" y2="805" stroke="#a6a6a6" stroke-width="1"/>
<line x1="703.5" y1="674" x2="703.5" y2="805" stroke="#d9d9d9" stroke-width="1"/>
<line x1="684.5" y1="674" x2="684.5" y2="805" stroke="#a6a6a6" stroke-width="1"/>
<line x1="741.5" y1="674" x2="741.5" y2="805" stroke="#d9d9d9" stroke-width="1"/>
<line x1="722.5" y1="674" x2="722.5" y2="805" stroke="#a6a6a6" stroke-width="1"/>
<line x1="780.5" y1="674" x2="780.5" y2="805" stroke="#d9d9d9" stroke-width="1"/>
<line x1="761.5" y1="674" x2="761.5" y2="805" stroke="#a6a6a6" stroke-width="1"/>
<line x1="818.5" y1="674" x2="818.5" y2="805" stroke="#d9d9d9" stroke-width="1"/>
<line x1="799.5" y1="674" x2="799.5" y2="805" stroke="#a6a6a6" stroke-width="1"/>
<line x1="837.5" y1="674" x2="837.5" y2="805" stroke="#a6a6a6" stroke-width="1"/>
<line x1="16" y1="705.5" x2="857" y2="705.5" stroke="#6e6e6e" stroke-width="1" />
<line x1="16" y1="774.5" x2="857" y2="774.5" stroke="#6e6e6e" stroke-width="1" />
<line x1="16" y1="739.5" x2="857" y2="739.5" stroke="#666" stroke-width="1" stroke-dasharray="6.5,3,2,3" stroke-dashoffset="4"/>
<polyline points="17.7,704.3 20.9,704.3 24.1,704.3 27.3,704.8 30.5,703.9 33.7,696.8 36.9,690.8 40.1,688.5 43.3,688.5 46.5,688.5 49.7,688.5 52.9,688.5 56.0,688.5 59.2,688.5 62.4,688.5 65.6,688.5 68.8,688.5 72.0,688.5 75.2,688.5 78.4,688.5 81.6,688.5 84.8,688.5 88.0,688.5 91.2,688.5 94.3,688.5 97.5,688.5 100.7,688.5 103.9,696.8 107.1,696.8 110.3,696.8 113.5,696.8 116.7,696.8 119.9,696.8 123.1,696.8 126.3,709.3 129.5,727.3 132.6,735.2 135.8,735.2 139.0,735.2 142.2,735.2 145.4,735.2 148.6,735.2 151.8,735.2 155.0,735.2 158.2,735.2 161.4,735.2 164.6,725.0 167.8,699.1 170.9,698.4 174.1,698.4 177.3,698.4 180.5,698.4 183.7,696.8 186.9,688.2 190.1,686.7 193.3,686.7 196.5,686.7 199.7,686.7 202.9,686.7 206.1,686.7 209.2,686.7 212.4,686.7 215.6,686.7 218.8,686.7 222.0,686.7 225.2,686.7 228.4,685.8 231.6,685.8 234.8,685.8 238.0,685.8 241.2,685.8 244.4,685.8 247.5,685.8 250.7,685.8 253.9,685.8 257.1,685.8 260.3,685.8 263.5,684.2 266.7,684.2 269.9,684.2 273.1,684.2 276.3,684.2 279.5,684.2 282.7,684.2 285.8,684.2 289.0,684.2 292.2,684.2 295.4,684.2 298.6,684.2 301.8,684.2 305.0,684.2 308.2,684.2 311.4,684.2 314.6,684.2 317.8,684.2 321.0,684.2 324.1,684.2 327.3,685.0 330.5,693.6 333.7,693.6 336.9,693.6 340.1,693.6 343.3,693.6 346.5,693.6 349.7,693.6 352.9,693.6 356.1,693.6 359.3,693.6 362.4,693.6 365.6,693.6 368.8,693.6 372.0,693.6 375.2,693.6 378.4,693.6 381.6,693.6 384.8,695.3 388.0,696.8 391.2,696.8 394.4,696.8 397.6,696.8 400.7,696.8 403.9,714.1 407.1,714.1 410.3,710.9 413.5,703.9 416.7,692.1 419.9,685.8 423.1,685.0 426.3,685.0 429.5,685.0 432.7,685.0 435.9,685.0 439.0,685.0 442.2,685.0 445.4,685.0 448.6,685.0 451.8,685.0 455.0,685.0 458.2,685.0 461.4,685.0 464.6,685.0 467.8,685.0 471.0,685.0 474.2,685.0 477.3,685.0 480.5,685.0 483.7,685.0 486.9,685.8 490.1,686.7 493.3,687.4 496.5,687.4 499.7,687.4 502.9,687.4 506.1,687.4 509.3,687.4 512.5,687.4 515.6,687.4 518.8,693.6 522.0,695.3 525.2,696.0 528.4,693.6 531.6,693.6 534.8,693.6 538.0,693.6 541.2,693.6 544.4,693.6 547.6,693.6 550.8,693.6 553.9,693.6 557.1,693.6 560.3,693.6 563.5,693.6 566.7,688.2 569.9,688.2 573.1,688.2 576.3,688.2 579.5,688.2 582.7,688.2 585.9,688.2 589.1,688.2 592.2,688.2 595.4,688.2 598.6,688.2 601.8,688.2 605.0,688.2 608.2,688.2 611.4,688.2 614.6,688.2 617.8,688.2 621.0,688.2 624.2,688.2 627.4,688.2 630.5,689.0 633.7,689.0 636.9,689.0 640.1,689.0 643.3,689.0 646.5,689.0 649.7,689.0 652.9,689.0 656.1,689.0 659.3,689.0 662.5,689.0 665.7,689.0 668.8,689.0 672.0,689.0 675.2,689.0 678.4,689.0 681.6,689.0 684.8,692.1 688.0,695.3 691.2,695.3 694.4,706.2 697.6,725.0 700.8,742.2 704.0,746.2 707.1,739.5 710.3,738.1 713.5,738.1 716.7,738.1 719.9,727.1 723.1,707.3 726.3,692.1 729.5,692.1 732.7,692.1 735.9,692.1 739.1,692.1 742.3,692.1 745.4,692.1 748.6,689.5 751.8,686.2 755.0,686.2 758.2,686.2 761.4,686.2 764.6,686.2 767.8,686.2 771.0,686.2 774.2,686.2 777.4,686.2 780.6,686.2 783.7,686.2 786.9,686.2 790.1,686.2 793.3,686.2 796.5,686.2 799.7,686.2 802.9,686.2 806.1,686.2 809.3,686.2 812.5,686.2 815.7,687.4 818.9,687.4" fill="none" stroke="#000080" stroke-width="1" stroke-linejoin="round" />
<polyline points="17.7,763.4 20.9,763.4 24.1,763.4 27.3,763.4 30.5,763.4 33.7,763.4 36.9,763.4 40.1,763.4 43.3,763.4 46.5,763.4 49.7,763.4 52.9,751.3 56.0,737.3 59.2,725.7 62.4,716.4 65.6,711.8 68.8,727.3 72.0,737.6 75.2,747.0 78.4,761.0 81.6,785.3 84.8,785.3 88.0,785.3 91.2,785.3 94.3,785.3 97.5,785.3 100.7,785.3 103.9,785.3 107.1,785.3 110.3,785.3 113.5,785.3 116.7,785.3 119.9,785.3 123.1,785.3 126.3,785.3 129.5,785.3 132.6,785.3 135.8,785.3 139.0,785.3 142.2,788.5 145.4,788.5 148.6,788.5 151.8,788.5 155.0,789.2 158.2,789.2 161.4,789.2 164.6,789.2 167.8,789.2 170.9,789.2 174.1,789.2 177.3,789.2 180.5,789.2 183.7,789.2 186.9,789.2 190.1,789.2 193.3,789.2 196.5,789.2 199.7,789.2 202.9,789.2 206.1,789.2 209.2,789.2 212.4,789.2 215.6,789.2 218.8,776.7 222.0,755.0 225.2,725.0 228.4,714.1 231.6,714.1 234.8,714.1 238.0,714.1 241.2,708.5 244.4,708.5 247.5,708.5 250.7,708.5 253.9,708.5 257.1,708.5 260.3,708.5 263.5,708.5 266.7,708.5 269.9,708.5 273.1,708.5 276.3,708.5 279.5,708.5 282.7,704.7 285.8,718.7 289.0,729.7 292.2,729.7 295.4,729.7 298.6,729.7 301.8,729.7 305.0,735.9 308.2,735.9 311.4,735.9 314.6,735.9 317.8,735.9 321.0,735.9 324.1,735.9 327.3,735.9 330.5,735.9 333.7,735.9 336.9,735.9 340.1,735.9 343.3,735.9 346.5,735.9 349.7,749.3 352.9,749.3 356.1,749.3 359.3,749.3 362.4,749.3 365.6,754.8 368.8,759.4 372.0,761.7 375.2,764.2 378.4,768.1 381.6,768.1 384.8,768.1 388.0,768.1 391.2,768.1 394.4,768.1 397.6,768.1 400.7,768.1 403.9,768.1 407.1,768.1 410.3,768.1 413.5,768.1 416.7,768.1 419.9,768.1 423.1,768.1 426.3,768.1 429.5,768.1 432.7,768.1 435.9,768.1 439.0,768.1 442.2,768.1 445.4,764.2 448.6,757.9 451.8,748.5 455.0,739.1 458.2,729.7 461.4,723.5 464.6,718.7 467.8,718.7 471.0,718.7 474.2,718.7 477.3,720.4 480.5,734.4 483.7,747.0 486.9,758.7 490.1,761.0 493.3,761.0 496.5,761.8 499.7,762.5 502.9,762.5 506.1,762.5 509.3,762.5 512.5,762.5 515.6,763.4 518.8,763.4 522.0,763.4 525.2,763.4 528.4,763.4 531.6,763.4 534.8,763.4 538.0,763.4 541.2,763.4 544.4,763.4 547.6,763.4 550.8,763.4 553.9,763.4 557.1,763.4 560.3,763.4 563.5,763.4 566.7,763.4 569.9,763.4 573.1,763.4 576.3,763.4 579.5,750.1 582.7,728.1 585.9,715.6 589.1,715.6 592.2,715.6 595.4,715.6 598.6,715.6 601.8,715.6 605.0,715.6 608.2,715.6 611.4,715.6 614.6,715.6 617.8,715.6 621.0,708.5 624.2,708.5 627.4,708.5 630.5,708.5 633.7,708.5 636.9,725.0 640.1,742.2 643.3,746.2 646.5,747.0 649.7,761.0 652.9,775.2 656.1,781.4 659.3,781.4 662.5,781.4 665.7,781.4 668.8,781.4 672.0,781.4 675.2,781.4 678.4,781.4 681.6,781.4 684.8,781.4 688.0,781.4 691.2,781.4 694.4,781.4 697.6,781.4 700.8,781.4 704.0,781.4 707.1,781.4 710.3,781.4 713.5,781.4 716.7,781.4 719.9,781.4 723.1,781.4 726.3,781.4 729.5,780.8 732.7,779.9 735.9,779.0 739.1,779.0 742.3,773.6 745.4,770.9 748.6,770.9 751.8,770.9 755.0,770.9 758.2,768.2 761.4,766.4 764.6,753.9 767.8,739.5 771.0,739.5 774.2,739.5 777.4,739.5 780.6,739.5 783.7,739.5 786.9,739.5 790.1,739.5 793.3,739.5 796.5,739.5 799.7,739.5 802.9,739.5 806.1,739.5 809.3,739.5 812.5,746.2 815.7,748.1 818.9,748.9" fill="none" stroke="#000080" stroke-width="1" stroke-linejoin="round" />
<polyline points="17.7,733.8 20.9,733.8 24.1,733.8 27.3,734.1 30.5,733.6 33.7,730.1 36.9,727.1 40.1,725.9 43.3,725.9 46.5,725.9 49.7,725.9 52.9,719.9 56.0,712.9 59.2,707.1 62.4,702.5 65.6,700.1 68.8,707.9 72.0,713.0 75.2,717.7 78.4,724.8 81.6,736.9 84.8,736.9 88.0,736.9 91.2,736.9 94.3,736.9 97.5,736.9 100.7,736.9 103.9,741.0 107.1,741.0 110.3,741.0 113.5,741.0 116.7,741.0 119.9,741.0 123.1,741.0 126.3,747.3 129.5,756.3 132.6,760.3 135.8,760.3 139.0,760.3 142.2,761.8 145.4,761.8 148.6,761.8 151.8,761.8 155.0,762.2 158.2,762.2 161.4,762.2 164.6,757.1 167.8,744.1 170.9,743.8 174.1,743.8 177.3,743.8 180.5,743.8 183.7,743.0 186.9,738.7 190.1,737.9 193.3,737.9 196.5,737.9 199.7,737.9 202.9,737.9 206.1,737.9 209.2,737.9 212.4,737.9 215.6,737.9 218.8,731.7 222.0,720.8 225.2,705.8 228.4,700.0 231.6,700.0 234.8,700.0 238.0,700.0 241.2,697.2 244.4,697.2 247.5,697.2 250.7,697.2 253.9,697.2 257.1,697.2 260.3,697.2 263.5,696.4 266.7,696.4 269.9,696.4 273.1,696.4 276.3,696.4 279.5,696.4 282.7,694.4 285.8,701.5 289.0,706.9 292.2,706.9 295.4,706.9 298.6,706.9 301.8,706.9 305.0,710.1 308.2,710.1 311.4,710.1 314.6,710.1 317.8,710.1 321.0,710.1 324.1,710.1 327.3,710.5 330.5,714.8 333.7,714.8 336.9,714.8 340.1,714.8 343.3,714.8 346.5,714.8 349.7,721.5 352.9,721.5 356.1,721.5 359.3,721.5 362.4,721.5 365.6,724.2 368.8,726.5 372.0,727.7 375.2,728.9 378.4,730.9 381.6,730.9 384.8,731.7 388.0,732.4 391.2,732.4 394.4,732.4 397.6,732.4 400.7,732.4 403.9,741.1 407.1,741.1 410.3,739.5 413.5,736.0 416.7,730.1 419.9,727.0 423.1,726.6 426.3,726.6 429.5,726.6 432.7,726.6 435.9,726.6 439.0,726.6 442.2,726.6 445.4,724.6 448.6,721.5 451.8,716.8 455.0,712.1 458.2,707.3 461.4,704.3 464.6,701.9 467.8,701.9 471.0,701.9 474.2,701.9 477.3,702.7 480.5,709.7 483.7,716.0 486.9,722.3 490.1,723.8 493.3,724.2 496.5,724.6 499.7,725.0 502.9,725.0 506.1,725.0 509.3,725.0 512.5,725.0 515.6,725.4 518.8,728.5 522.0,729.3 525.2,729.7 528.4,728.5 531.6,728.5 534.8,728.5 538.0,728.5 541.2,728.5 544.4,728.5 547.6,728.5 550.8,728.5 553.9,728.5 557.1,728.5 560.3,728.5 563.5,728.5 566.7,725.8 569.9,725.8 573.1,725.8 576.3,725.8 579.5,719.1 582.7,708.2 585.9,701.9 589.1,701.9 592.2,701.9 595.4,701.9 598.6,701.9 601.8,701.9 605.0,701.9 608.2,701.9 611.4,701.9 614.6,701.9 617.8,701.9 621.0,698.3 624.2,698.3 627.4,698.3 630.5,698.7 633.7,698.7 636.9,707.0 640.1,715.6 643.3,717.6 646.5,718.0 649.7,725.0 652.9,732.1 656.1,735.2 659.3,735.2 662.5,735.2 665.7,735.2 668.8,735.2 672.0,735.2 675.2,735.2 678.4,735.2 681.6,735.2 684.8,736.7 688.0,738.3 691.2,738.3 694.4,743.8 697.6,753.2 700.8,761.8 704.0,763.8 707.1,760.4 710.3,759.8 713.5,759.8 716.7,759.8 719.9,754.2 723.1,744.4 726.3,736.7 729.5,736.5 732.7,736.0 735.9,735.6 739.1,735.6 742.3,732.9 745.4,731.5 748.6,730.2 751.8,728.6 755.0,728.6 758.2,727.2 761.4,726.3 764.6,720.1 767.8,712.9 771.0,712.9 774.2,712.9 777.4,712.9 780.6,712.9 783.7,712.9 786.9,712.9 790.1,712.9 793.3,712.9 796.5,712.9 799.7,712.9 802.9,712.9 806.1,712.9 809.3,712.9 812.5,716.2 815.7,717.8 818.9,718.1" fill="none" stroke="#000080" stroke-width="1" stroke-linejoin="round" stroke-dasharray="2,2"/>
<polyline points="17.7,706.0 20.9,706.7 24.1,708.1 27.3,707.8 30.5,703.6 33.7,697.2 36.9,692.0 40.1,692.0 43.3,695.8 46.5,701.5 49.7,703.6 52.9,703.1 56.0,700.7 59.2,698.6 62.4,701.5 65.6,711.1 68.8,724.7 72.0,737.3 75.2,748.5 78.4,764.4 81.6,775.4 84.8,778.0 88.0,771.3 91.2,766.0 94.3,765.5 97.5,770.9 100.7,776.7 103.9,779.3 107.1,771.0 110.3,756.9 113.5,743.6 116.7,738.8 119.9,747.2 123.1,762.1 126.3,774.4 129.5,778.3 132.6,777.5 135.8,778.8 139.0,783.0 142.2,785.6 145.4,786.1 148.6,785.0 151.8,786.3 155.0,783.7 158.2,773.6 161.4,752.2 164.6,726.4 167.8,707.5 170.9,701.8 174.1,706.8 177.3,709.4 180.5,705.7 183.7,697.0 186.9,690.5 190.1,687.9 193.3,688.7 196.5,689.8 199.7,689.8 202.9,689.0 206.1,689.5 209.2,692.6 212.4,698.1 215.6,703.9 218.8,704.9 222.0,701.2 225.2,693.7 228.4,688.4 231.6,686.9 234.8,688.2 238.0,690.0 241.2,691.6 244.4,693.1 247.5,696.3 250.7,696.3 253.9,695.2 257.1,690.8 260.3,687.6 263.5,685.5 266.7,687.6 269.9,693.1 273.1,697.0 276.3,698.1 279.5,699.4 282.7,706.7 285.8,717.7 289.0,724.0 292.2,723.5 295.4,720.1 298.6,721.6 301.8,727.9 305.0,731.2 308.2,729.7 311.4,721.9 314.6,712.0 317.8,702.0 321.0,696.3 324.1,696.5 327.3,699.4 330.5,701.0 333.7,699.9 336.9,698.1 340.1,702.8 343.3,711.5 346.5,729.0 349.7,740.4 352.9,746.7 356.1,743.5 359.3,742.5 362.4,746.7 365.6,753.2 368.8,758.6 372.0,761.8 375.2,764.7 378.4,766.8 381.6,766.8 384.8,763.4 388.0,756.8 391.2,748.5 394.4,739.1 397.6,730.7 400.7,724.0 403.9,718.8 407.1,714.6 410.3,709.6 413.5,702.3 416.7,693.9 419.9,687.7 423.1,685.6 426.3,685.8 429.5,689.8 432.7,698.1 435.9,708.8 439.0,715.1 442.2,713.0 445.4,704.6 448.6,695.8 451.8,690.0 455.0,690.0 458.2,692.1 461.4,695.8 464.6,696.5 467.8,697.8 471.0,701.0 474.2,709.1 477.3,720.9 480.5,733.9 483.7,746.7 486.9,755.6 490.1,760.3 493.3,761.3 496.5,761.8 499.7,760.3 502.9,757.1 506.1,754.5 509.3,755.5 512.5,759.2 515.6,757.6 518.8,747.2 522.0,729.2 525.2,710.4 528.4,700.5 531.6,699.7 534.8,705.2 538.0,706.2 541.2,703.1 544.4,698.6 547.6,699.7 550.8,702.5 553.9,708.8 557.1,709.3 560.3,707.8 563.5,698.6 566.7,695.0 569.9,695.5 573.1,702.3 576.3,703.8 579.5,700.4 582.7,695.0 585.9,693.9 589.1,694.4 592.2,694.7 595.4,692.1 598.6,690.5 601.8,689.3 605.0,690.5 608.2,692.4 611.4,694.4 614.6,693.9 617.8,691.9 621.0,690.8 624.2,693.2 627.4,695.3 630.5,699.9 633.7,708.8 636.9,724.5 640.1,737.8 643.3,745.1 646.5,751.4 649.7,761.1 652.9,772.5 656.1,778.3 659.3,779.1 662.5,779.1 665.7,779.9 668.8,780.7 672.0,778.8 675.2,778.2 678.4,776.1 681.6,771.8 684.8,765.8 688.0,762.2 691.2,764.9 694.4,767.3 697.6,768.5 700.8,762.9 704.0,753.3 707.1,743.9 710.3,738.6 713.5,738.1 716.7,734.5 719.9,724.2 723.1,708.9 726.3,697.5 729.5,698.1 732.7,710.6 735.9,722.3 739.1,723.8 742.3,713.3 745.4,700.5 748.6,691.3 751.8,690.1 755.0,694.9 758.2,708.5 761.4,721.1 764.6,733.0 767.8,734.8 771.0,732.7 774.2,729.5 777.4,727.1 780.6,725.6 783.7,722.3 786.9,719.0 790.1,715.1 793.3,707.3 796.5,698.0 799.7,691.1 802.9,692.3 806.1,707.9 809.3,726.8 812.5,742.8 815.7,747.7 818.9,749.2" fill="none" stroke="#ff0000" stroke-width="1.2" stroke-linejoin="round" />
<polyline points="17.7,704.8 20.9,709.3 24.1,710.1 27.3,703.9 30.5,696.8 33.7,690.8 36.9,688.5 40.1,696.8 43.3,702.2 46.5,705.5 49.7,703.0 52.9,700.7 56.0,698.4 59.2,696.8 62.4,709.3 65.6,727.3 68.8,737.6 72.0,747.0 75.2,761.0 78.4,785.3 81.6,779.9 84.8,768.9 88.0,765.0 91.2,764.2 94.3,767.3 97.5,781.4 100.7,781.4 103.9,775.2 107.1,756.4 110.3,739.1 113.5,735.2 116.7,742.2 119.9,764.2 123.1,779.9 126.3,779.0 129.5,775.9 132.6,777.5 135.8,783.0 139.0,788.5 142.2,785.3 145.4,784.5 148.6,785.3 151.8,789.2 155.0,776.7 158.2,755.0 161.4,725.0 164.6,699.1 167.8,698.4 170.9,707.8 174.1,714.1 177.3,706.2 180.5,696.8 183.7,688.2 186.9,686.7 190.1,689.0 193.3,690.5 196.5,689.8 199.7,689.0 202.9,688.2 206.1,691.3 209.2,698.4 212.4,704.7 215.6,708.5 218.8,701.5 222.0,693.6 225.2,685.8 228.4,685.8 231.6,689.0 234.8,689.8 238.0,691.3 241.2,693.6 244.4,694.4 247.5,700.7 250.7,693.6 253.9,691.3 257.1,687.4 260.3,684.2 263.5,685.0 266.7,693.6 269.9,700.7 273.1,696.8 276.3,696.8 279.5,704.7 282.7,718.7 285.8,729.7 289.0,723.5 292.2,717.2 295.4,719.5 298.6,728.1 301.8,735.9 305.0,729.7 308.2,723.5 311.4,712.5 314.6,699.9 317.8,693.6 321.0,695.3 324.1,700.7 327.3,702.2 330.5,699.9 333.7,697.6 336.9,696.8 340.1,714.1 343.3,723.5 346.5,749.3 349.7,748.5 352.9,742.2 356.1,739.9 359.3,745.3 362.4,754.8 365.6,759.4 368.8,761.7 372.0,764.2 375.2,768.1 378.4,768.1 381.6,764.2 384.8,757.9 388.0,748.5 391.2,739.1 394.4,729.7 397.6,723.5 400.7,718.7 403.9,714.1 407.1,710.9 410.3,703.9 413.5,692.1 416.7,685.8 419.9,685.0 423.1,685.8 426.3,686.7 429.5,696.8 432.7,710.9 435.9,718.7 439.0,715.6 442.2,704.7 445.4,693.6 448.6,689.0 451.8,687.4 455.0,693.6 458.2,695.3 461.4,698.4 464.6,696.0 467.8,699.1 471.0,707.8 474.2,720.4 477.3,734.4 480.5,747.0 483.7,758.7 486.9,761.0 490.1,761.0 493.3,761.8 496.5,762.5 499.7,756.4 502.9,752.4 506.1,754.8 509.3,759.4 512.5,763.4 515.6,750.1 518.8,728.1 522.0,709.3 525.2,693.6 528.4,698.4 531.6,707.0 534.8,710.1 538.0,701.5 541.2,697.6 544.4,696.8 547.6,704.7 550.8,706.2 553.9,715.6 557.1,706.2 560.3,701.5 563.5,688.2 566.7,695.3 569.9,703.0 573.1,708.5 576.3,699.9 579.5,692.8 582.7,692.1 585.9,696.8 589.1,694.4 592.2,692.8 595.4,689.0 598.6,689.8 601.8,689.0 605.0,692.8 608.2,695.3 611.4,695.3 614.6,691.3 617.8,689.0 621.0,692.1 624.2,698.4 627.4,695.3 630.5,706.2 633.7,725.0 636.9,742.2 640.1,746.2 643.3,747.0 646.5,761.0 649.7,775.2 652.9,781.4 656.1,778.3 659.3,777.5 662.5,781.4 665.7,780.8 668.8,779.9 672.0,775.8 675.2,779.0 678.4,773.6 681.6,762.9 684.8,760.8 688.0,762.9 691.2,770.9 694.4,768.2 697.6,766.4 700.8,753.9 704.0,739.5 707.1,738.1 710.3,738.1 713.5,738.1 716.7,727.1 719.9,707.3 723.1,692.1 726.3,693.1 729.5,709.1 732.7,729.8 735.9,727.9 739.1,713.6 742.3,698.4 745.4,689.5 748.6,686.2 751.8,694.8 755.0,703.7 758.2,727.1 761.4,732.4 764.6,739.5 767.8,732.4 771.0,726.2 774.2,729.8 777.4,725.2 780.6,721.6 783.7,719.9 786.9,715.4 790.1,710.0 793.3,696.5 796.5,687.4 799.7,689.5 802.9,700.1 806.1,734.2 809.3,746.2 812.5,748.1 815.7,748.9 818.9,750.7" fill="none" stroke="#000" stroke-width="1.8" stroke-linejoin="round" />
<rect x="16.5" y="674.5" width="840" height="130" fill="none" stroke="#b3b3b3" stroke-width="1"/>
<line x1="857" y1="797.5" x2="859" y2="797.5" stroke="#b3b3b3" stroke-width="1"/>
<line x1="857" y1="791.5" x2="859" y2="791.5" stroke="#b3b3b3" stroke-width="1"/>
<line x1="857" y1="786.5" x2="859" y2="786.5" stroke="#b3b3b3" stroke-width="1"/>
<line x1="857" y1="780.5" x2="859" y2="780.5" stroke="#b3b3b3" stroke-width="1"/>
<line x1="857" y1="774.5" x2="859" y2="774.5" stroke="#b3b3b3" stroke-width="1"/>
<line x1="857" y1="768.5" x2="859" y2="768.5" stroke="#b3b3b3" stroke-width="1"/>
<line x1="857" y1="763.5" x2="859" y2="763.5" stroke="#b3b3b3" stroke-width="1"/>
<line x1="857" y1="757.5" x2="859" y2="757.5" stroke="#b3b3b3" stroke-width="1"/>
<line x1="857" y1="751.5" x2="859" y2="751.5" stroke="#b3b3b3" stroke-width="1"/>
<line x1="857" y1="745.5" x2="859" y2="745.5" stroke="#b3b3b3" stroke-width="1"/>
<line x1="857" y1="739.5" x2="859" y2="739.5" stroke="#b3b3b3" stroke-width="1"/>
<line x1="857" y1="733.5" x2="859" y2="733.5" stroke="#b3b3b3" stroke-width="1"/>
<line x1="857" y1="728.5" x2="859" y2="728.5" stroke="#b3b3b3" stroke-width="1"/>
<line x1="857" y1="722.5" x2="859" y2="722.5" stroke="#b3b3b3" stroke-width="1"/>
<line x1="857" y1="716.5" x2="859" y2="716.5" stroke="#b3b3b3" stroke-width="1"/>
<line x1="857" y1="710.5" x2="859" y2="710.5" stroke="#b3b3b3" stroke-width="1"/>
<line x1="857" y1="705.5" x2="859" y2="705.5" stroke="#b3b3b3" stroke-width="1"/>
<line x1="857" y1="698.5" x2="859" y2="698.5" stroke="#b3b3b3" stroke-width="1"/>
<line x1="857" y1="693.5" x2="859" y2="693.5" stroke="#b3b3b3" stroke-width="1"/>
<line x1="857" y1="687.5" x2="859" y2="687.5" stroke="#b3b3b3" stroke-width="1"/>
<line x1="857" y1="681.5" x2="859" y2="681.5" stroke="#b3b3b3" stroke-width="1"/>
<text x="859.6" y="707.6" font-size="10" textLength="11.1" lengthAdjust="spacing" style="font-family:'Liberation Sans', Arial, sans-serif" fill="#000">80</text>
<text x="859.6" y="741.6" font-size="10" textLength="11.1" lengthAdjust="spacing" style="font-family:'Liberation Sans', Arial, sans-serif" fill="#000">50</text>
<text x="859.6" y="776.6" font-size="10" textLength="11.1" lengthAdjust="spacing" style="font-family:'Liberation Sans', Arial, sans-serif" fill="#000">20</text>
<rect x="17" y="676" width="229" height="11" fill="#fff"/>
<rect x="17" y="687" width="153" height="11" fill="#fff"/>
<rect x="19" y="680.4" width="8.5" height="2" fill="#000"/>
<text x="31.3" y="684.3" font-size="9.6" textLength="176.9" lengthAdjust="spacing" style="font-family:'DejaVu Sans', Verdana, sans-serif" fill="#000">Slow STO %K(14) %D(3) 40.53,</text>
<text x="211.8" y="684.3" font-size="9.6" textLength="31.4" lengthAdjust="spacing" style="font-family:'DejaVu Sans', Verdana, sans-serif" fill="#ff0000">41.78</text>
<rect x="19" y="691.4" width="8.5" height="2" fill="#000080"/>
<text x="29.3" y="695.4" font-size="9.2" textLength="138.1" lengthAdjust="spacingAndGlyphs" style="font-family:'DejaVu Sans Condensed', 'DejaVu Sans', sans-serif" fill="#000080" stroke="#000080" stroke-width="0.12">CHAN(20) 42.05 - 68.51 - 94.98</text>
<line x1="16" y1="927.5" x2="857" y2="927.5" stroke="#d9d9d9" stroke-width="1" />
<line x1="16" y1="901.5" x2="857" y2="901.5" stroke="#d9d9d9" stroke-width="1" />
<line x1="16" y1="888.5" x2="857" y2="888.5" stroke="#d9d9d9" stroke-width="1" />
<line x1="16" y1="875.5" x2="857" y2="875.5" stroke="#d9d9d9" stroke-width="1" />
<line x1="16" y1="862.5" x2="857" y2="862.5" stroke="#d9d9d9" stroke-width="1" />
<line x1="16" y1="849.5" x2="857" y2="849.5" stroke="#d9d9d9" stroke-width="1" />
<line x1="16" y1="836.5" x2="857" y2="836.5" stroke="#d9d9d9" stroke-width="1" />
<line x1="16" y1="823.5" x2="857" y2="823.5" stroke="#d9d9d9" stroke-width="1" />
<line x1="16" y1="809.5" x2="857" y2="809.5" stroke="#d9d9d9" stroke-width="1" />
<line x1="52.5" y1="804" x2="52.5" y2="935" stroke="#d9d9d9" stroke-width="1"/>
<line x1="33.5" y1="804" x2="33.5" y2="935" stroke="#a6a6a6" stroke-width="1"/>
<line x1="90.5" y1="804" x2="90.5" y2="935" stroke="#d9d9d9" stroke-width="1"/>
<line x1="71.5" y1="804" x2="71.5" y2="935" stroke="#a6a6a6" stroke-width="1"/>
<line x1="129.5" y1="804" x2="129.5" y2="935" stroke="#d9d9d9" stroke-width="1"/>
<line x1="110.5" y1="804" x2="110.5" y2="935" stroke="#a6a6a6" stroke-width="1"/>
<line x1="167.5" y1="804" x2="167.5" y2="935" stroke="#d9d9d9" stroke-width="1"/>
<line x1="148.5" y1="804" x2="148.5" y2="935" stroke="#a6a6a6" stroke-width="1"/>
<line x1="205.5" y1="804" x2="205.5" y2="935" stroke="#d9d9d9" stroke-width="1"/>
<line x1="186.5" y1="804" x2="186.5" y2="935" stroke="#a6a6a6" stroke-width="1"/>
<line x1="244.5" y1="804" x2="244.5" y2="935" stroke="#d9d9d9" stroke-width="1"/>
<line x1="224.5" y1="804" x2="224.5" y2="935" stroke="#a6a6a6" stroke-width="1"/>
<line x1="282.5" y1="804" x2="282.5" y2="935" stroke="#d9d9d9" stroke-width="1"/>
<line x1="263.5" y1="804" x2="263.5" y2="935" stroke="#a6a6a6" stroke-width="1"/>
<line x1="320.5" y1="804" x2="320.5" y2="935" stroke="#d9d9d9" stroke-width="1"/>
<line x1="301.5" y1="804" x2="301.5" y2="935" stroke="#a6a6a6" stroke-width="1"/>
<line x1="358.5" y1="804" x2="358.5" y2="935" stroke="#d9d9d9" stroke-width="1"/>
<line x1="339.5" y1="804" x2="339.5" y2="935" stroke="#a6a6a6" stroke-width="1"/>
<line x1="397.5" y1="804" x2="397.5" y2="935" stroke="#d9d9d9" stroke-width="1"/>
<line x1="378.5" y1="804" x2="378.5" y2="935" stroke="#a6a6a6" stroke-width="1"/>
<line x1="435.5" y1="804" x2="435.5" y2="935" stroke="#d9d9d9" stroke-width="1"/>
<line x1="416.5" y1="804" x2="416.5" y2="935" stroke="#a6a6a6" stroke-width="1"/>
<line x1="473.5" y1="804" x2="473.5" y2="935" stroke="#d9d9d9" stroke-width="1"/>
<line x1="454.5" y1="804" x2="454.5" y2="935" stroke="#a6a6a6" stroke-width="1"/>
<line x1="512.5" y1="804" x2="512.5" y2="935" stroke="#d9d9d9" stroke-width="1"/>
<line x1="493.5" y1="804" x2="493.5" y2="935" stroke="#a6a6a6" stroke-width="1"/>
<line x1="550.5" y1="804" x2="550.5" y2="935" stroke="#d9d9d9" stroke-width="1"/>
<line x1="531.5" y1="804" x2="531.5" y2="935" stroke="#a6a6a6" stroke-width="1"/>
<line x1="588.5" y1="804" x2="588.5" y2="935" stroke="#d9d9d9" stroke-width="1"/>
<line x1="569.5" y1="804" x2="569.5" y2="935" stroke="#a6a6a6" stroke-width="1"/>
<line x1="627.5" y1="804" x2="627.5" y2="935" stroke="#d9d9d9" stroke-width="1"/>
<line x1="607.5" y1="804" x2="607.5" y2="935" stroke="#a6a6a6" stroke-width="1"/>
<line x1="665.5" y1="804" x2="665.5" y2="935" stroke="#d9d9d9" stroke-width="1"/>
<line x1="646.5" y1="804" x2="646.5" y2="935" stroke="#a6a6a6" stroke-width="1"/>
<line x1="703.5" y1="804" x2="703.5" y2="935" stroke="#d9d9d9" stroke-width="1"/>
<line x1="684.5" y1="804" x2="684.5" y2="935" stroke="#a6a6a6" stroke-width="1"/>
<line x1="741.5" y1="804" x2="741.5" y2="935" stroke="#d9d9d9" stroke-width="1"/>
<line x1="722.5" y1="804" x2="722.5" y2="935" stroke="#a6a6a6" stroke-width="1"/>
<line x1="780.5" y1="804" x2="780.5" y2="935" stroke="#d9d9d9" stroke-width="1"/>
<line x1="761.5" y1="804" x2="761.5" y2="935" stroke="#a6a6a6" stroke-width="1"/>
<line x1="818.5" y1="804" x2="818.5" y2="935" stroke="#d9d9d9" stroke-width="1"/>
<line x1="799.5" y1="804" x2="799.5" y2="935" stroke="#a6a6a6" stroke-width="1"/>
<line x1="837.5" y1="804" x2="837.5" y2="935" stroke="#a6a6a6" stroke-width="1"/>
<line x1="16" y1="914.5" x2="857" y2="914.5" stroke="#666" stroke-width="1" stroke-dasharray="6.5,3,2,3" stroke-dashoffset="4"/>
<polyline points="72.0,823.9 75.2,826.1 78.4,829.4 81.6,833.1 84.8,836.9 88.0,840.9 91.2,844.5 94.3,848.3 97.5,852.8 100.7,857.1 103.9,861.0 107.1,864.3 110.3,867.1 113.5,869.8 116.7,872.6 119.9,875.9 123.1,879.3 126.3,883.0 129.5,886.8 132.6,890.5 135.8,894.3 139.0,898.4 142.2,902.2 145.4,906.1 148.6,910.1 151.8,914.0 155.0,917.6 158.2,920.0 161.4,920.8 164.6,920.4 167.8,919.3 170.9,918.1 174.1,916.6 177.3,914.3 180.5,911.3 183.7,907.6 186.9,903.5 190.1,899.2 193.3,894.9 196.5,890.7 199.7,886.6 202.9,882.5 206.1,878.9 209.2,875.7 212.4,873.0 215.6,870.8 218.8,868.7 222.0,866.2 225.2,863.5 228.4,860.6 231.6,857.8 234.8,855.1 238.0,852.4 241.2,849.9 244.4,847.6 247.5,845.4 250.7,843.1 253.9,840.7 257.1,838.4 260.3,836.0 263.5,833.7 266.7,831.7 269.9,830.0 273.1,828.3 276.3,826.9 279.5,826.2 282.7,826.0 285.8,826.2 289.0,826.4 292.2,826.4 295.4,826.3 298.6,826.0 301.8,825.7 305.0,825.4 308.2,825.0 311.4,824.3 314.6,823.2 317.8,822.0 321.0,821.0 324.1,820.4 327.3,820.0 330.5,819.2 333.7,818.4 336.9,817.7 340.1,817.8 343.3,818.4 346.5,819.9 349.7,821.6 352.9,823.4 356.1,825.4 359.3,827.9 362.4,830.8 365.6,834.7 368.8,840.2 372.0,847.2 375.2,855.1 378.4,863.5 381.6,871.8 384.8,879.1 388.0,885.2 391.2,890.0 394.4,893.7 397.6,896.1 400.7,897.3 403.9,897.5 407.1,896.7 410.3,895.0 413.5,892.6 416.7,889.8 419.9,886.7 423.1,883.2 426.3,879.9 429.5,877.0 432.7,874.9 435.9,873.3 439.0,871.8 442.2,870.3 445.4,868.5 448.6,866.6 451.8,864.6 455.0,862.7 458.2,861.0 461.4,859.4 464.6,858.1 467.8,857.2 471.0,856.8 474.2,857.1 477.3,858.0 480.5,859.9 483.7,862.0 486.9,864.7 490.1,867.4 493.3,870.3 496.5,873.1 499.7,876.0 502.9,878.5 506.1,881.0 509.3,883.7 512.5,886.2 515.6,888.3 518.8,889.9 522.0,890.9 525.2,891.6 528.4,892.1 531.6,892.5 534.8,892.8 538.0,892.9 541.2,892.9 544.4,892.9 547.6,893.0 550.8,893.1 553.9,893.5 557.1,893.6 560.3,893.4 563.5,892.8 566.7,892.0 569.9,891.3 573.1,890.4 576.3,889.3 579.5,888.3 582.7,887.2 585.9,886.2 589.1,885.3 592.2,884.5 595.4,883.6 598.6,882.8 601.8,882.0 605.0,881.3 608.2,880.7 611.4,880.0 614.6,879.0 617.8,877.6 621.0,876.1 624.2,874.6 627.4,872.9 630.5,871.6 633.7,871.1 636.9,870.8 640.1,870.9 643.3,871.3 646.5,872.2 649.7,873.6 652.9,875.2 656.1,877.1 659.3,879.2 662.5,881.4 665.7,883.5 668.8,885.5 672.0,887.5 675.2,889.5 678.4,891.3 681.6,892.9 684.8,894.5 688.0,896.1 691.2,897.7 694.4,899.3 697.6,900.7 700.8,902.0 704.0,903.0 707.1,904.1 710.3,905.1 713.5,906.0 716.7,906.6 719.9,906.9 723.1,906.8 726.3,906.6 729.5,906.6 732.7,906.6 735.9,906.5 739.1,906.3 742.3,905.9 745.4,904.9 748.6,903.8 751.8,902.7 755.0,901.6 758.2,901.1 761.4,900.7 764.6,900.4 767.8,900.1 771.0,899.9 774.2,899.7 777.4,899.6 780.6,899.3 783.7,899.2 786.9,899.0 790.1,898.7 793.3,898.2 796.5,897.5 799.7,897.0 802.9,896.6 806.1,897.3 809.3,898.5 812.5,899.9 815.7,901.7 818.9,903.7" fill="none" stroke="#ff0000" stroke-width="1.3" stroke-linejoin="round" />
<polyline points="72.0,828.5 75.2,835.8 78.4,844.5 81.6,849.4 84.8,854.4 88.0,858.5 91.2,861.1 94.3,865.5 97.5,872.7 100.7,876.6 103.9,878.6 107.1,878.9 110.3,879.7 113.5,882.1 116.7,885.4 119.9,890.4 123.1,894.9 126.3,899.8 129.5,903.6 132.6,907.0 135.8,911.4 139.0,917.1 142.2,919.4 145.4,923.3 148.6,928.5 151.8,931.6 155.0,933.4 158.2,930.9 161.4,924.6 164.6,918.3 167.8,914.7 170.9,912.4 174.1,909.8 177.3,904.2 180.5,897.6 183.7,891.0 186.9,885.2 190.1,879.9 193.3,875.4 196.5,871.6 199.7,868.1 202.9,864.5 206.1,862.3 209.2,861.2 212.4,860.8 215.6,861.0 218.8,859.5 222.0,855.1 225.2,851.0 228.4,847.7 231.6,845.3 234.8,842.8 238.0,840.0 241.2,838.7 244.4,837.6 247.5,835.3 250.7,832.5 253.9,830.2 257.1,828.0 260.3,825.3 263.5,823.2 266.7,822.8 269.9,822.0 273.1,820.8 276.3,820.5 279.5,823.2 282.7,825.0 285.8,827.0 289.0,827.7 292.2,826.5 295.4,825.5 298.6,824.9 301.8,824.4 305.0,823.8 308.2,823.1 311.4,821.2 314.6,818.3 317.8,816.7 321.0,816.3 324.1,817.6 327.3,818.2 330.5,815.5 333.7,815.0 336.9,814.4 340.1,818.3 343.3,820.9 346.5,826.6 349.7,829.3 352.9,831.3 356.1,834.7 359.3,838.8 362.4,843.9 365.6,852.5 368.8,864.9 372.0,878.6 375.2,890.8 378.4,901.1 381.6,909.2 384.8,912.2 388.0,912.5 391.2,911.6 394.4,910.4 397.6,907.1 400.7,902.8 403.9,898.0 407.1,893.0 410.3,887.5 413.5,881.7 416.7,877.1 419.9,872.8 423.1,867.7 426.3,864.6 429.5,864.3 432.7,865.5 435.9,865.8 439.0,865.4 442.2,863.2 445.4,860.3 448.6,858.3 451.8,855.6 455.0,854.2 458.2,853.3 461.4,852.4 464.6,852.3 467.8,852.8 471.0,855.2 474.2,858.1 477.3,862.5 480.5,868.1 483.7,871.8 486.9,876.4 490.1,880.0 493.3,882.9 496.5,886.1 499.7,888.7 502.9,889.7 506.1,892.3 509.3,895.7 512.5,897.4 515.6,897.9 518.8,897.0 522.0,895.7 525.2,894.6 528.4,894.3 531.6,894.6 534.8,893.9 538.0,893.1 541.2,893.0 544.4,892.8 547.6,893.4 550.8,893.9 553.9,895.0 557.1,894.0 560.3,892.6 563.5,890.1 566.7,888.4 569.9,888.1 573.1,886.5 576.3,884.5 579.5,883.4 582.7,882.4 585.9,881.7 589.1,881.3 592.2,880.9 595.4,879.6 598.6,879.3 601.8,878.3 605.0,878.0 608.2,878.0 611.4,877.0 614.6,874.1 617.8,871.6 621.0,869.1 624.2,867.7 627.4,865.7 630.5,865.8 633.7,868.5 636.9,869.6 640.1,871.1 643.3,873.0 646.5,876.4 649.7,879.7 652.9,882.8 656.1,885.6 659.3,888.3 662.5,891.3 665.7,893.0 668.8,894.7 672.0,896.4 675.2,898.4 678.4,899.6 681.6,900.2 684.8,901.7 688.0,903.3 691.2,904.9 694.4,906.2 697.6,907.1 700.8,907.6 704.0,908.0 707.1,909.0 710.3,909.7 713.5,909.8 716.7,909.4 719.9,908.0 723.1,906.4 726.3,905.9 729.5,906.7 732.7,906.7 735.9,906.1 739.1,905.4 742.3,903.7 745.4,900.8 748.6,898.7 751.8,897.9 755.0,896.7 758.2,898.7 761.4,898.9 764.6,898.8 767.8,899.2 771.0,898.6 774.2,899.0 777.4,899.0 780.6,898.3 783.7,898.6 786.9,898.3 790.1,897.2 793.3,895.7 796.5,894.7 799.7,894.4 802.9,894.8 806.1,900.7 809.3,903.9 812.5,906.0 815.7,910.0 818.9,912.5" fill="none" stroke="#000" stroke-width="1.9" stroke-linejoin="round" />
<rect x="16.5" y="804.5" width="840" height="130" fill="none" stroke="#b3b3b3" stroke-width="1"/>
<line x1="857" y1="927.5" x2="859" y2="927.5" stroke="#b3b3b3" stroke-width="1"/>
<line x1="857" y1="921.5" x2="859" y2="921.5" stroke="#b3b3b3" stroke-width="1"/>
<line x1="857" y1="914.5" x2="859" y2="914.5" stroke="#b3b3b3" stroke-width="1"/>
<line x1="857" y1="908.5" x2="859" y2="908.5" stroke="#b3b3b3" stroke-width="1"/>
<line x1="857" y1="901.5" x2="859" y2="901.5" stroke="#b3b3b3" stroke-width="1"/>
<line x1="857" y1="895.5" x2="859" y2="895.5" stroke="#b3b3b3" stroke-width="1"/>
<line x1="857" y1="888.5" x2="859" y2="888.5" stroke="#b3b3b3" stroke-width="1"/>
<line x1="857" y1="882.5" x2="859" y2="882.5" stroke="#b3b3b3" stroke-width="1"/>
<line x1="857" y1="875.5" x2="859" y2="875.5" stroke="#b3b3b3" stroke-width="1"/>
<line x1="857" y1="869.5" x2="859" y2="869.5" stroke="#b3b3b3" stroke-width="1"/>
<line x1="857" y1="862.5" x2="859" y2="862.5" stroke="#b3b3b3" stroke-width="1"/>
<line x1="857" y1="856.5" x2="859" y2="856.5" stroke="#b3b3b3" stroke-width="1"/>
<line x1="857" y1="849.5" x2="859" y2="849.5" stroke="#b3b3b3" stroke-width="1"/>
<line x1="857" y1="843.5" x2="859" y2="843.5" stroke="#b3b3b3" stroke-width="1"/>
<line x1="857" y1="836.5" x2="859" y2="836.5" stroke="#b3b3b3" stroke-width="1"/>
<line x1="857" y1="830.5" x2="859" y2="830.5" stroke="#b3b3b3" stroke-width="1"/>
<line x1="857" y1="823.5" x2="859" y2="823.5" stroke="#b3b3b3" stroke-width="1"/>
<line x1="857" y1="817.5" x2="859" y2="817.5" stroke="#b3b3b3" stroke-width="1"/>
<line x1="857" y1="810.5" x2="859" y2="810.5" stroke="#b3b3b3" stroke-width="1"/>
<text x="861.8" y="929.6" font-size="10" textLength="17.5" lengthAdjust="spacing" style="font-family:'Liberation Sans', Arial, sans-serif" fill="#000">-2.5</text>
<text x="865.1" y="916.6" font-size="10" textLength="14.1" lengthAdjust="spacing" style="font-family:'Liberation Sans', Arial, sans-serif" fill="#000">0.0</text>
<text x="865.1" y="903.6" font-size="10" textLength="14.1" lengthAdjust="spacing" style="font-family:'Liberation Sans', Arial, sans-serif" fill="#000">2.5</text>
<text x="865.1" y="890.6" font-size="10" textLength="14.1" lengthAdjust="spacing" style="font-family:'Liberation Sans', Arial, sans-serif" fill="#000">5.0</text>
<text x="865.1" y="877.6" font-size="10" textLength="14.1" lengthAdjust="spacing" style="font-family:'Liberation Sans', Arial, sans-serif" fill="#000">7.5</text>
<text x="859.6" y="864.6" font-size="10" textLength="19.6" lengthAdjust="spacing" style="font-family:'Liberation Sans', Arial, sans-serif" fill="#000">10.0</text>
<text x="859.6" y="851.6" font-size="10" textLength="19.6" lengthAdjust="spacing" style="font-family:'Liberation Sans', Arial, sans-serif" fill="#000">12.5</text>
<text x="859.6" y="838.6" font-size="10" textLength="19.6" lengthAdjust="spacing" style="font-family:'Liberation Sans', Arial, sans-serif" fill="#000">15.0</text>
<text x="859.6" y="825.6" font-size="10" textLength="19.6" lengthAdjust="spacing" style="font-family:'Liberation Sans', Arial, sans-serif" fill="#000">17.5</text>
<text x="859.6" y="811.6" font-size="10" textLength="19.6" lengthAdjust="spacing" style="font-family:'Liberation Sans', Arial, sans-serif" fill="#000">20.0</text>
<rect x="17" y="806" width="163" height="12" fill="#fff"/>
<rect x="19" y="810.5" width="8.6" height="2" fill="#000"/>
<text x="31.6" y="814.4" font-size="9.6" textLength="117.4" lengthAdjust="spacing" style="font-family:'DejaVu Sans', Verdana, sans-serif" fill="#000">PMO(35,20,10) 0.47,</text>
<text x="153.6" y="814.4" font-size="9.6" textLength="23.4" lengthAdjust="spacing" style="font-family:'DejaVu Sans', Verdana, sans-serif" fill="#ff0000">2.19</text>
<line x1="17.5" y1="935" x2="17.5" y2="936" stroke="#c8c8c8" stroke-width="1"/>
<line x1="20.5" y1="935" x2="20.5" y2="936" stroke="#c8c8c8" stroke-width="1"/>
<line x1="23.5" y1="935" x2="23.5" y2="936" stroke="#c8c8c8" stroke-width="1"/>
<line x1="27.5" y1="935" x2="27.5" y2="936" stroke="#c8c8c8" stroke-width="1"/>
<line x1="30.5" y1="935" x2="30.5" y2="936" stroke="#c8c8c8" stroke-width="1"/>
<line x1="33.5" y1="935" x2="33.5" y2="938" stroke="#c8c8c8" stroke-width="1"/>
<line x1="36.5" y1="935" x2="36.5" y2="936" stroke="#c8c8c8" stroke-width="1"/>
<line x1="39.5" y1="935" x2="39.5" y2="936" stroke="#c8c8c8" stroke-width="1"/>
<line x1="42.5" y1="935" x2="42.5" y2="936" stroke="#c8c8c8" stroke-width="1"/>
<line x1="46.5" y1="935" x2="46.5" y2="936" stroke="#c8c8c8" stroke-width="1"/>
<line x1="49.5" y1="935" x2="49.5" y2="936" stroke="#c8c8c8" stroke-width="1"/>
<line x1="52.5" y1="935" x2="52.5" y2="936" stroke="#c8c8c8" stroke-width="1"/>
<line x1="55.5" y1="935" x2="55.5" y2="936" stroke="#c8c8c8" stroke-width="1"/>
<line x1="58.5" y1="935" x2="58.5" y2="936" stroke="#c8c8c8" stroke-width="1"/>
<line x1="62.5" y1="935" x2="62.5" y2="936" stroke="#c8c8c8" stroke-width="1"/>
<line x1="65.5" y1="935" x2="65.5" y2="936" stroke="#c8c8c8" stroke-width="1"/>
<line x1="68.5" y1="935" x2="68.5" y2="936" stroke="#c8c8c8" stroke-width="1"/>
<line x1="71.5" y1="935" x2="71.5" y2="938" stroke="#c8c8c8" stroke-width="1"/>
<line x1="74.5" y1="935" x2="74.5" y2="936" stroke="#c8c8c8" stroke-width="1"/>
<line x1="78.5" y1="935" x2="78.5" y2="936" stroke="#c8c8c8" stroke-width="1"/>
<line x1="81.5" y1="935" x2="81.5" y2="936" stroke="#c8c8c8" stroke-width="1"/>
<line x1="84.5" y1="935" x2="84.5" y2="936" stroke="#c8c8c8" stroke-width="1"/>
<line x1="87.5" y1="935" x2="87.5" y2="936" stroke="#c8c8c8" stroke-width="1"/>
<line x1="90.5" y1="935" x2="90.5" y2="936" stroke="#c8c8c8" stroke-width="1"/>
<line x1="94.5" y1="935" x2="94.5" y2="936" stroke="#c8c8c8" stroke-width="1"/>
<line x1="97.5" y1="935" x2="97.5" y2="936" stroke="#c8c8c8" stroke-width="1"/>
<line x1="100.5" y1="935" x2="100.5" y2="936" stroke="#c8c8c8" stroke-width="1"/>
<line x1="103.5" y1="935" x2="103.5" y2="936" stroke="#c8c8c8" stroke-width="1"/>
<line x1="106.5" y1="935" x2="106.5" y2="936" stroke="#c8c8c8" stroke-width="1"/>
<line x1="110.5" y1="935" x2="110.5" y2="938" stroke="#c8c8c8" stroke-width="1"/>
<line x1="113.5" y1="935" x2="113.5" y2="936" stroke="#c8c8c8" stroke-width="1"/>
<line x1="116.5" y1="935" x2="116.5" y2="936" stroke="#c8c8c8" stroke-width="1"/>
<line x1="119.5" y1="935" x2="119.5" y2="936" stroke="#c8c8c8" stroke-width="1"/>
<line x1="122.5" y1="935" x2="122.5" y2="936" stroke="#c8c8c8" stroke-width="1"/>
<line x1="125.5" y1="935" x2="125.5" y2="936" stroke="#c8c8c8" stroke-width="1"/>
<line x1="129.5" y1="935" x2="129.5" y2="936" stroke="#c8c8c8" stroke-width="1"/>
<line x1="132.5" y1="935" x2="132.5" y2="936" stroke="#c8c8c8" stroke-width="1"/>
<line x1="135.5" y1="935" x2="135.5" y2="936" stroke="#c8c8c8" stroke-width="1"/>
<line x1="138.5" y1="935" x2="138.5" y2="936" stroke="#c8c8c8" stroke-width="1"/>
<line x1="141.5" y1="935" x2="141.5" y2="936" stroke="#c8c8c8" stroke-width="1"/>
<line x1="145.5" y1="935" x2="145.5" y2="936" stroke="#c8c8c8" stroke-width="1"/>
<line x1="148.5" y1="935" x2="148.5" y2="938" stroke="#c8c8c8" stroke-width="1"/>
<line x1="151.5" y1="935" x2="151.5" y2="936" stroke="#c8c8c8" stroke-width="1"/>
<line x1="154.5" y1="935" x2="154.5" y2="936" stroke="#c8c8c8" stroke-width="1"/>
<line x1="157.5" y1="935" x2="157.5" y2="936" stroke="#c8c8c8" stroke-width="1"/>
<line x1="161.5" y1="935" x2="161.5" y2="936" stroke="#c8c8c8" stroke-width="1"/>
<line x1="164.5" y1="935" x2="164.5" y2="936" stroke="#c8c8c8" stroke-width="1"/>
<line x1="167.5" y1="935" x2="167.5" y2="936" stroke="#c8c8c8" stroke-width="1"/>
<line x1="170.5" y1="935" x2="170.5" y2="936" stroke="#c8c8c8" stroke-width="1"/>
<line x1="173.5" y1="935" x2="173.5" y2="936" stroke="#c8c8c8" stroke-width="1"/>
<line x1="177.5" y1="935" x2="177.5" y2="936" stroke="#c8c8c8" stroke-width="1"/>
<line x1="180.5" y1="935" x2="180.5" y2="936" stroke="#c8c8c8" stroke-width="1"/>
<line x1="183.5" y1="935" x2="183.5" y2="936" stroke="#c8c8c8" stroke-width="1"/>
<line x1="186.5" y1="935" x2="186.5" y2="938" stroke="#c8c8c8" stroke-width="1"/>
<line x1="189.5" y1="935" x2="189.5" y2="936" stroke="#c8c8c8" stroke-width="1"/>
<line x1="192.5" y1="935" x2="192.5" y2="936" stroke="#c8c8c8" stroke-width="1"/>
<line x1="196.5" y1="935" x2="196.5" y2="936" stroke="#c8c8c8" stroke-width="1"/>
<line x1="199.5" y1="935" x2="199.5" y2="936" stroke="#c8c8c8" stroke-width="1"/>
<line x1="202.5" y1="935" x2="202.5" y2="936" stroke="#c8c8c8" stroke-width="1"/>
<line x1="205.5" y1="935" x2="205.5" y2="936" stroke="#c8c8c8" stroke-width="1"/>
<line x1="208.5" y1="935" x2="208.5" y2="936" stroke="#c8c8c8" stroke-width="1"/>
<line x1="212.5" y1="935" x2="212.5" y2="936" stroke="#c8c8c8" stroke-width="1"/>
<line x1="215.5" y1="935" x2="215.5" y2="936" stroke="#c8c8c8" stroke-width="1"/>
<line x1="218.5" y1="935" x2="218.5" y2="936" stroke="#c8c8c8" stroke-width="1"/>
<line x1="221.5" y1="935" x2="221.5" y2="936" stroke="#c8c8c8" stroke-width="1"/>
<line x1="224.5" y1="935" x2="224.5" y2="938" stroke="#c8c8c8" stroke-width="1"/>
<line x1="228.5" y1="935" x2="228.5" y2="936" stroke="#c8c8c8" stroke-width="1"/>
<line x1="231.5" y1="935" x2="231.5" y2="936" stroke="#c8c8c8" stroke-width="1"/>
<line x1="234.5" y1="935" x2="234.5" y2="936" stroke="#c8c8c8" stroke-width="1"/>
<line x1="237.5" y1="935" x2="237.5" y2="936" stroke="#c8c8c8" stroke-width="1"/>
<line x1="240.5" y1="935" x2="240.5" y2="936" stroke="#c8c8c8" stroke-width="1"/>
<line x1="244.5" y1="935" x2="244.5" y2="936" stroke="#c8c8c8" stroke-width="1"/>
<line x1="247.5" y1="935" x2="247.5" y2="936" stroke="#c8c8c8" stroke-width="1"/>
<line x1="250.5" y1="935" x2="250.5" y2="936" stroke="#c8c8c8" stroke-width="1"/>
<line x1="253.5" y1="935" x2="253.5" y2="936" stroke="#c8c8c8" stroke-width="1"/>
<line x1="256.5" y1="935" x2="256.5" y2="936" stroke="#c8c8c8" stroke-width="1"/>
<line x1="260.5" y1="935" x2="260.5" y2="936" stroke="#c8c8c8" stroke-width="1"/>
<line x1="263.5" y1="935" x2="263.5" y2="938" stroke="#c8c8c8" stroke-width="1"/>
<line x1="266.5" y1="935" x2="266.5" y2="936" stroke="#c8c8c8" stroke-width="1"/>
<line x1="269.5" y1="935" x2="269.5" y2="936" stroke="#c8c8c8" stroke-width="1"/>
<line x1="272.5" y1="935" x2="272.5" y2="936" stroke="#c8c8c8" stroke-width="1"/>
<line x1="275.5" y1="935" x2="275.5" y2="936" stroke="#c8c8c8" stroke-width="1"/>
<line x1="279.5" y1="935" x2="279.5" y2="936" stroke="#c8c8c8" stroke-width="1"/>
<line x1="282.5" y1="935" x2="282.5" y2="936" stroke="#c8c8c8" stroke-width="1"/>
<line x1="285.5" y1="935" x2="285.5" y2="936" stroke="#c8c8c8" stroke-width="1"/>
<line x1="288.5" y1="935" x2="288.5" y2="936" stroke="#c8c8c8" stroke-width="1"/>
<line x1="291.5" y1="935" x2="291.5" y2="936" stroke="#c8c8c8" stroke-width="1"/>
<line x1="295.5" y1="935" x2="295.5" y2="936" stroke="#c8c8c8" stroke-width="1"/>
<line x1="298.5" y1="935" x2="298.5" y2="936" stroke="#c8c8c8" stroke-width="1"/>
<line x1="301.5" y1="935" x2="301.5" y2="938" stroke="#c8c8c8" stroke-width="1"/>
<line x1="304.5" y1="935" x2="304.5" y2="936" stroke="#c8c8c8" stroke-width="1"/>
<line x1="307.5" y1="935" x2="307.5" y2="936" stroke="#c8c8c8" stroke-width="1"/>
<line x1="311.5" y1="935" x2="311.5" y2="936" stroke="#c8c8c8" stroke-width="1"/>
<line x1="314.5" y1="935" x2="314.5" y2="936" stroke="#c8c8c8" stroke-width="1"/>
<line x1="317.5" y1="935" x2="317.5" y2="936" stroke="#c8c8c8" stroke-width="1"/>
<line x1="320.5" y1="935" x2="320.5" y2="936" stroke="#c8c8c8" stroke-width="1"/>
<line x1="323.5" y1="935" x2="323.5" y2="936" stroke="#c8c8c8" stroke-width="1"/>
<line x1="327.5" y1="935" x2="327.5" y2="936" stroke="#c8c8c8" stroke-width="1"/>
<line x1="330.5" y1="935" x2="330.5" y2="936" stroke="#c8c8c8" stroke-width="1"/>
<line x1="333.5" y1="935" x2="333.5" y2="936" stroke="#c8c8c8" stroke-width="1"/>
<line x1="336.5" y1="935" x2="336.5" y2="936" stroke="#c8c8c8" stroke-width="1"/>
<line x1="339.5" y1="935" x2="339.5" y2="938" stroke="#c8c8c8" stroke-width="1"/>
<line x1="342.5" y1="935" x2="342.5" y2="936" stroke="#c8c8c8" stroke-width="1"/>
<line x1="346.5" y1="935" x2="346.5" y2="936" stroke="#c8c8c8" stroke-width="1"/>
<line x1="349.5" y1="935" x2="349.5" y2="936" stroke="#c8c8c8" stroke-width="1"/>
<line x1="352.5" y1="935" x2="352.5" y2="936" stroke="#c8c8c8" stroke-width="1"/>
<line x1="355.5" y1="935" x2="355.5" y2="936" stroke="#c8c8c8" stroke-width="1"/>
<line x1="358.5" y1="935" x2="358.5" y2="936" stroke="#c8c8c8" stroke-width="1"/>
<line x1="362.5" y1="935" x2="362.5" y2="936" stroke="#c8c8c8" stroke-width="1"/>
<line x1="365.5" y1="935" x2="365.5" y2="936" stroke="#c8c8c8" stroke-width="1"/>
<line x1="368.5" y1="935" x2="368.5" y2="936" stroke="#c8c8c8" stroke-width="1"/>
<line x1="371.5" y1="935" x2="371.5" y2="936" stroke="#c8c8c8" stroke-width="1"/>
<line x1="374.5" y1="935" x2="374.5" y2="936" stroke="#c8c8c8" stroke-width="1"/>
<line x1="378.5" y1="935" x2="378.5" y2="938" stroke="#c8c8c8" stroke-width="1"/>
<line x1="381.5" y1="935" x2="381.5" y2="936" stroke="#c8c8c8" stroke-width="1"/>
<line x1="384.5" y1="935" x2="384.5" y2="936" stroke="#c8c8c8" stroke-width="1"/>
<line x1="387.5" y1="935" x2="387.5" y2="936" stroke="#c8c8c8" stroke-width="1"/>
<line x1="390.5" y1="935" x2="390.5" y2="936" stroke="#c8c8c8" stroke-width="1"/>
<line x1="394.5" y1="935" x2="394.5" y2="936" stroke="#c8c8c8" stroke-width="1"/>
<line x1="397.5" y1="935" x2="397.5" y2="936" stroke="#c8c8c8" stroke-width="1"/>
<line x1="400.5" y1="935" x2="400.5" y2="936" stroke="#c8c8c8" stroke-width="1"/>
<line x1="403.5" y1="935" x2="403.5" y2="936" stroke="#c8c8c8" stroke-width="1"/>
<line x1="406.5" y1="935" x2="406.5" y2="936" stroke="#c8c8c8" stroke-width="1"/>
<line x1="410.5" y1="935" x2="410.5" y2="936" stroke="#c8c8c8" stroke-width="1"/>
<line x1="413.5" y1="935" x2="413.5" y2="936" stroke="#c8c8c8" stroke-width="1"/>
<line x1="416.5" y1="935" x2="416.5" y2="938" stroke="#c8c8c8" stroke-width="1"/>
<line x1="419.5" y1="935" x2="419.5" y2="936" stroke="#c8c8c8" stroke-width="1"/>
<line x1="422.5" y1="935" x2="422.5" y2="936" stroke="#c8c8c8" stroke-width="1"/>
<line x1="425.5" y1="935" x2="425.5" y2="936" stroke="#c8c8c8" stroke-width="1"/>
<line x1="429.5" y1="935" x2="429.5" y2="936" stroke="#c8c8c8" stroke-width="1"/>
<line x1="432.5" y1="935" x2="432.5" y2="936" stroke="#c8c8c8" stroke-width="1"/>
<line x1="435.5" y1="935" x2="435.5" y2="936" stroke="#c8c8c8" stroke-width="1"/>
<line x1="438.5" y1="935" x2="438.5" y2="936" stroke="#c8c8c8" stroke-width="1"/>
<line x1="441.5" y1="935" x2="441.5" y2="936" stroke="#c8c8c8" stroke-width="1"/>
<line x1="445.5" y1="935" x2="445.5" y2="936" stroke="#c8c8c8" stroke-width="1"/>
<line x1="448.5" y1="935" x2="448.5" y2="936" stroke="#c8c8c8" stroke-width="1"/>
<line x1="451.5" y1="935" x2="451.5" y2="936" stroke="#c8c8c8" stroke-width="1"/>
<line x1="454.5" y1="935" x2="454.5" y2="938" stroke="#c8c8c8" stroke-width="1"/>
<line x1="457.5" y1="935" x2="457.5" y2="936" stroke="#c8c8c8" stroke-width="1"/>
<line x1="461.5" y1="935" x2="461.5" y2="936" stroke="#c8c8c8" stroke-width="1"/>
<line x1="464.5" y1="935" x2="464.5" y2="936" stroke="#c8c8c8" stroke-width="1"/>
<line x1="467.5" y1="935" x2="467.5" y2="936" stroke="#c8c8c8" stroke-width="1"/>
<line x1="470.5" y1="935" x2="470.5" y2="936" stroke="#c8c8c8" stroke-width="1"/>
<line x1="473.5" y1="935" x2="473.5" y2="936" stroke="#c8c8c8" stroke-width="1"/>
<line x1="477.5" y1="935" x2="477.5" y2="936" stroke="#c8c8c8" stroke-width="1"/>
<line x1="480.5" y1="935" x2="480.5" y2="936" stroke="#c8c8c8" stroke-width="1"/>
<line x1="483.5" y1="935" x2="483.5" y2="936" stroke="#c8c8c8" stroke-width="1"/>
<line x1="486.5" y1="935" x2="486.5" y2="936" stroke="#c8c8c8" stroke-width="1"/>
<line x1="489.5" y1="935" x2="489.5" y2="936" stroke="#c8c8c8" stroke-width="1"/>
<line x1="493.5" y1="935" x2="493.5" y2="938" stroke="#c8c8c8" stroke-width="1"/>
<line x1="496.5" y1="935" x2="496.5" y2="936" stroke="#c8c8c8" stroke-width="1"/>
<line x1="499.5" y1="935" x2="499.5" y2="936" stroke="#c8c8c8" stroke-width="1"/>
<line x1="502.5" y1="935" x2="502.5" y2="936" stroke="#c8c8c8" stroke-width="1"/>
<line x1="505.5" y1="935" x2="505.5" y2="936" stroke="#c8c8c8" stroke-width="1"/>
<line x1="508.5" y1="935" x2="508.5" y2="936" stroke="#c8c8c8" stroke-width="1"/>
<line x1="512.5" y1="935" x2="512.5" y2="936" stroke="#c8c8c8" stroke-width="1"/>
<line x1="515.5" y1="935" x2="515.5" y2="936" stroke="#c8c8c8" stroke-width="1"/>
<line x1="518.5" y1="935" x2="518.5" y2="936" stroke="#c8c8c8" stroke-width="1"/>
<line x1="521.5" y1="935" x2="521.5" y2="936" stroke="#c8c8c8" stroke-width="1"/>
<line x1="524.5" y1="935" x2="524.5" y2="936" stroke="#c8c8c8" stroke-width="1"/>
<line x1="528.5" y1="935" x2="528.5" y2="936" stroke="#c8c8c8" stroke-width="1"/>
<line x1="531.5" y1="935" x2="531.5" y2="938" stroke="#c8c8c8" stroke-width="1"/>
<line x1="534.5" y1="935" x2="534.5" y2="936" stroke="#c8c8c8" stroke-width="1"/>
<line x1="537.5" y1="935" x2="537.5" y2="936" stroke="#c8c8c8" stroke-width="1"/>
<line x1="540.5" y1="935" x2="540.5" y2="936" stroke="#c8c8c8" stroke-width="1"/>
<line x1="544.5" y1="935" x2="544.5" y2="936" stroke="#c8c8c8" stroke-width="1"/>
<line x1="547.5" y1="935" x2="547.5" y2="936" stroke="#c8c8c8" stroke-width="1"/>
<line x1="550.5" y1="935" x2="550.5" y2="936" stroke="#c8c8c8" stroke-width="1"/>
<line x1="553.5" y1="935" x2="553.5" y2="936" stroke="#c8c8c8" stroke-width="1"/>
<line x1="556.5" y1="935" x2="556.5" y2="936" stroke="#c8c8c8" stroke-width="1"/>
<line x1="560.5" y1="935" x2="560.5" y2="936" stroke="#c8c8c8" stroke-width="1"/>
<line x1="563.5" y1="935" x2="563.5" y2="936" stroke="#c8c8c8" stroke-width="1"/>
<line x1="566.5" y1="935" x2="566.5" y2="936" stroke="#c8c8c8" stroke-width="1"/>
<line x1="569.5" y1="935" x2="569.5" y2="938" stroke="#c8c8c8" stroke-width="1"/>
<line x1="572.5" y1="935" x2="572.5" y2="936" stroke="#c8c8c8" stroke-width="1"/>
<line x1="575.5" y1="935" x2="575.5" y2="936" stroke="#c8c8c8" stroke-width="1"/>
<line x1="579.5" y1="935" x2="579.5" y2="936" stroke="#c8c8c8" stroke-width="1"/>
<line x1="582.5" y1="935" x2="582.5" y2="936" stroke="#c8c8c8" stroke-width="1"/>
<line x1="585.5" y1="935" x2="585.5" y2="936" stroke="#c8c8c8" stroke-width="1"/>
<line x1="588.5" y1="935" x2="588.5" y2="936" stroke="#c8c8c8" stroke-width="1"/>
<line x1="591.5" y1="935" x2="591.5" y2="936" stroke="#c8c8c8" stroke-width="1"/>
<line x1="595.5" y1="935" x2="595.5" y2="936" stroke="#c8c8c8" stroke-width="1"/>
<line x1="598.5" y1="935" x2="598.5" y2="936" stroke="#c8c8c8" stroke-width="1"/>
<line x1="601.5" y1="935" x2="601.5" y2="936" stroke="#c8c8c8" stroke-width="1"/>
<line x1="604.5" y1="935" x2="604.5" y2="936" stroke="#c8c8c8" stroke-width="1"/>
<line x1="607.5" y1="935" x2="607.5" y2="938" stroke="#c8c8c8" stroke-width="1"/>
<line x1="611.5" y1="935" x2="611.5" y2="936" stroke="#c8c8c8" stroke-width="1"/>
<line x1="614.5" y1="935" x2="614.5" y2="936" stroke="#c8c8c8" stroke-width="1"/>
<line x1="617.5" y1="935" x2="617.5" y2="936" stroke="#c8c8c8" stroke-width="1"/>
<line x1="620.5" y1="935" x2="620.5" y2="936" stroke="#c8c8c8" stroke-width="1"/>
<line x1="623.5" y1="935" x2="623.5" y2="936" stroke="#c8c8c8" stroke-width="1"/>
<line x1="627.5" y1="935" x2="627.5" y2="936" stroke="#c8c8c8" stroke-width="1"/>
<line x1="630.5" y1="935" x2="630.5" y2="936" stroke="#c8c8c8" stroke-width="1"/>
<line x1="633.5" y1="935" x2="633.5" y2="936" stroke="#c8c8c8" stroke-width="1"/>
<line x1="636.5" y1="935" x2="636.5" y2="936" stroke="#c8c8c8" stroke-width="1"/>
<line x1="639.5" y1="935" x2="639.5" y2="936" stroke="#c8c8c8" stroke-width="1"/>
<line x1="643.5" y1="935" x2="643.5" y2="936" stroke="#c8c8c8" stroke-width="1"/>
<line x1="646.5" y1="935" x2="646.5" y2="938" stroke="#c8c8c8" stroke-width="1"/>
<line x1="649.5" y1="935" x2="649.5" y2="936" stroke="#c8c8c8" stroke-width="1"/>
<line x1="652.5" y1="935" x2="652.5" y2="936" stroke="#c8c8c8" stroke-width="1"/>
<line x1="655.5" y1="935" x2="655.5" y2="936" stroke="#c8c8c8" stroke-width="1"/>
<line x1="658.5" y1="935" x2="658.5" y2="936" stroke="#c8c8c8" stroke-width="1"/>
<line x1="662.5" y1="935" x2="662.5" y2="936" stroke="#c8c8c8" stroke-width="1"/>
<line x1="665.5" y1="935" x2="665.5" y2="936" stroke="#c8c8c8" stroke-width="1"/>
<line x1="668.5" y1="935" x2="668.5" y2="936" stroke="#c8c8c8" stroke-width="1"/>
<line x1="671.5" y1="935" x2="671.5" y2="936" stroke="#c8c8c8" stroke-width="1"/>
<line x1="674.5" y1="935" x2="674.5" y2="936" stroke="#c8c8c8" stroke-width="1"/>
<line x1="678.5" y1="935" x2="678.5" y2="936" stroke="#c8c8c8" stroke-width="1"/>
<line x1="681.5" y1="935" x2="681.5" y2="936" stroke="#c8c8c8" stroke-width="1"/>
<line x1="684.5" y1="935" x2="684.5" y2="938" stroke="#c8c8c8" stroke-width="1"/>
<line x1="687.5" y1="935" x2="687.5" y2="936" stroke="#c8c8c8" stroke-width="1"/>
<line x1="690.5" y1="935" x2="690.5" y2="936" stroke="#c8c8c8" stroke-width="1"/>
<line x1="694.5" y1="935" x2="694.5" y2="936" stroke="#c8c8c8" stroke-width="1"/>
<line x1="697.5" y1="935" x2="697.5" y2="936" stroke="#c8c8c8" stroke-width="1"/>
<line x1="700.5" y1="935" x2="700.5" y2="936" stroke="#c8c8c8" stroke-width="1"/>
<line x1="703.5" y1="935" x2="703.5" y2="936" stroke="#c8c8c8" stroke-width="1"/>
<line x1="706.5" y1="935" x2="706.5" y2="936" stroke="#c8c8c8" stroke-width="1"/>
<line x1="710.5" y1="935" x2="710.5" y2="936" stroke="#c8c8c8" stroke-width="1"/>
<line x1="713.5" y1="935" x2="713.5" y2="936" stroke="#c8c8c8" stroke-width="1"/>
<line x1="716.5" y1="935" x2="716.5" y2="936" stroke="#c8c8c8" stroke-width="1"/>
<line x1="719.5" y1="935" x2="719.5" y2="936" stroke="#c8c8c8" stroke-width="1"/>
<line x1="722.5" y1="935" x2="722.5" y2="938" stroke="#c8c8c8" stroke-width="1"/>
<line x1="725.5" y1="935" x2="725.5" y2="936" stroke="#c8c8c8" stroke-width="1"/>
<line x1="729.5" y1="935" x2="729.5" y2="936" stroke="#c8c8c8" stroke-width="1"/>
<line x1="732.5" y1="935" x2="732.5" y2="936" stroke="#c8c8c8" stroke-width="1"/>
<line x1="735.5" y1="935" x2="735.5" y2="936" stroke="#c8c8c8" stroke-width="1"/>
<line x1="738.5" y1="935" x2="738.5" y2="936" stroke="#c8c8c8" stroke-width="1"/>
<line x1="741.5" y1="935" x2="741.5" y2="936" stroke="#c8c8c8" stroke-width="1"/>
<line x1="745.5" y1="935" x2="745.5" y2="936" stroke="#c8c8c8" stroke-width="1"/>
<line x1="748.5" y1="935" x2="748.5" y2="936" stroke="#c8c8c8" stroke-width="1"/>
<line x1="751.5" y1="935" x2="751.5" y2="936" stroke="#c8c8c8" stroke-width="1"/>
<line x1="754.5" y1="935" x2="754.5" y2="936" stroke="#c8c8c8" stroke-width="1"/>
<line x1="757.5" y1="935" x2="757.5" y2="936" stroke="#c8c8c8" stroke-width="1"/>
<line x1="761.5" y1="935" x2="761.5" y2="938" stroke="#c8c8c8" stroke-width="1"/>
<line x1="764.5" y1="935" x2="764.5" y2="936" stroke="#c8c8c8" stroke-width="1"/>
<line x1="767.5" y1="935" x2="767.5" y2="936" stroke="#c8c8c8" stroke-width="1"/>
<line x1="770.5" y1="935" x2="770.5" y2="936" stroke="#c8c8c8" stroke-width="1"/>
<line x1="773.5" y1="935" x2="773.5" y2="936" stroke="#c8c8c8" stroke-width="1"/>
<line x1="777.5" y1="935" x2="777.5" y2="936" stroke="#c8c8c8" stroke-width="1"/>
<line x1="780.5" y1="935" x2="780.5" y2="936" stroke="#c8c8c8" stroke-width="1"/>
<line x1="783.5" y1="935" x2="783.5" y2="936" stroke="#c8c8c8" stroke-width="1"/>
<line x1="786.5" y1="935" x2="786.5" y2="936" stroke="#c8c8c8" stroke-width="1"/>
<line x1="789.5" y1="935" x2="789.5" y2="936" stroke="#c8c8c8" stroke-width="1"/>
<line x1="793.5" y1="935" x2="793.5" y2="936" stroke="#c8c8c8" stroke-width="1"/>
<line x1="796.5" y1="935" x2="796.5" y2="936" stroke="#c8c8c8" stroke-width="1"/>
<line x1="799.5" y1="935" x2="799.5" y2="938" stroke="#c8c8c8" stroke-width="1"/>
<line x1="802.5" y1="935" x2="802.5" y2="936" stroke="#c8c8c8" stroke-width="1"/>
<line x1="805.5" y1="935" x2="805.5" y2="936" stroke="#c8c8c8" stroke-width="1"/>
<line x1="808.5" y1="935" x2="808.5" y2="936" stroke="#c8c8c8" stroke-width="1"/>
<line x1="812.5" y1="935" x2="812.5" y2="936" stroke="#c8c8c8" stroke-width="1"/>
<line x1="815.5" y1="935" x2="815.5" y2="936" stroke="#c8c8c8" stroke-width="1"/>
<line x1="818.5" y1="935" x2="818.5" y2="936" stroke="#c8c8c8" stroke-width="1"/>
<line x1="821.5" y1="935" x2="821.5" y2="936" stroke="#c8c8c8" stroke-width="1"/>
<line x1="824.5" y1="935" x2="824.5" y2="936" stroke="#c8c8c8" stroke-width="1"/>
<line x1="828.5" y1="935" x2="828.5" y2="936" stroke="#c8c8c8" stroke-width="1"/>
<line x1="831.5" y1="935" x2="831.5" y2="936" stroke="#c8c8c8" stroke-width="1"/>
<line x1="834.5" y1="935" x2="834.5" y2="936" stroke="#c8c8c8" stroke-width="1"/>
<line x1="837.5" y1="935" x2="837.5" y2="938" stroke="#c8c8c8" stroke-width="1"/>
<line x1="840.5" y1="935" x2="840.5" y2="936" stroke="#c8c8c8" stroke-width="1"/>
<line x1="844.5" y1="935" x2="844.5" y2="936" stroke="#c8c8c8" stroke-width="1"/>
<rect x="33" y="947" width="1" height="1" fill="#bbb"/>
<rect x="52" y="947" width="1" height="1" fill="#bbb"/>
<rect x="71" y="947" width="1" height="1" fill="#bbb"/>
<rect x="90" y="947" width="1" height="1" fill="#bbb"/>
<rect x="110" y="947" width="1" height="1" fill="#bbb"/>
<rect x="129" y="947" width="1" height="1" fill="#bbb"/>
<rect x="148" y="947" width="1" height="1" fill="#bbb"/>
<rect x="167" y="947" width="1" height="1" fill="#bbb"/>
<rect x="186" y="947" width="1" height="1" fill="#bbb"/>
<rect x="205" y="947" width="1" height="1" fill="#bbb"/>
<rect x="224" y="947" width="1" height="1" fill="#bbb"/>
<rect x="244" y="947" width="1" height="1" fill="#bbb"/>
<rect x="263" y="947" width="1" height="1" fill="#bbb"/>
<rect x="282" y="947" width="1" height="1" fill="#bbb"/>
<rect x="301" y="947" width="1" height="1" fill="#bbb"/>
<rect x="320" y="947" width="1" height="1" fill="#bbb"/>
<rect x="339" y="947" width="1" height="1" fill="#bbb"/>
<rect x="358" y="947" width="1" height="1" fill="#bbb"/>
<rect x="378" y="947" width="1" height="1" fill="#bbb"/>
<rect x="397" y="947" width="1" height="1" fill="#bbb"/>
<rect x="416" y="947" width="1" height="1" fill="#bbb"/>
<rect x="435" y="947" width="1" height="1" fill="#bbb"/>
<rect x="454" y="947" width="1" height="1" fill="#bbb"/>
<rect x="473" y="947" width="1" height="1" fill="#bbb"/>
<rect x="493" y="947" width="1" height="1" fill="#bbb"/>
<rect x="512" y="947" width="1" height="1" fill="#bbb"/>
<rect x="531" y="947" width="1" height="1" fill="#bbb"/>
<rect x="550" y="947" width="1" height="1" fill="#bbb"/>
<rect x="569" y="947" width="1" height="1" fill="#bbb"/>
<rect x="588" y="947" width="1" height="1" fill="#bbb"/>
<rect x="607" y="947" width="1" height="1" fill="#bbb"/>
<rect x="627" y="947" width="1" height="1" fill="#bbb"/>
<rect x="646" y="947" width="1" height="1" fill="#bbb"/>
<rect x="665" y="947" width="1" height="1" fill="#bbb"/>
<rect x="684" y="947" width="1" height="1" fill="#bbb"/>
<rect x="703" y="947" width="1" height="1" fill="#bbb"/>
<rect x="722" y="947" width="1" height="1" fill="#bbb"/>
<rect x="741" y="947" width="1" height="1" fill="#bbb"/>
<rect x="761" y="947" width="1" height="1" fill="#bbb"/>
<rect x="780" y="947" width="1" height="1" fill="#bbb"/>
<rect x="799" y="947" width="1" height="1" fill="#bbb"/>
<rect x="818" y="947" width="1" height="1" fill="#bbb"/>
<rect x="837" y="947" width="1" height="1" fill="#bbb"/>
<text x="21.1" y="944.7" font-size="9.1" textLength="23.3" lengthAdjust="spacing" stroke="#000" stroke-width="0.1" style="font-family:'Liberation Sans', Arial, sans-serif">2000</text>
<text x="59.1" y="944.7" font-size="9.1" textLength="23.3" lengthAdjust="spacing" stroke="#000" stroke-width="0.1" style="font-family:'Liberation Sans', Arial, sans-serif">2001</text>
<text x="98.1" y="944.7" font-size="9.1" textLength="23.3" lengthAdjust="spacing" stroke="#000" stroke-width="0.1" style="font-family:'Liberation Sans', Arial, sans-serif">2002</text>
<text x="136.1" y="944.7" font-size="9.1" textLength="23.3" lengthAdjust="spacing" stroke="#000" stroke-width="0.1" style="font-family:'Liberation Sans', Arial, sans-serif">2003</text>
<text x="174.1" y="944.7" font-size="9.1" textLength="23.3" lengthAdjust="spacing" stroke="#000" stroke-width="0.1" style="font-family:'Liberation Sans', Arial, sans-serif">2004</text>
<text x="212.1" y="944.7" font-size="9.1" textLength="23.3" lengthAdjust="spacing" stroke="#000" stroke-width="0.1" style="font-family:'Liberation Sans', Arial, sans-serif">2005</text>
<text x="251.1" y="944.7" font-size="9.1" textLength="23.3" lengthAdjust="spacing" stroke="#000" stroke-width="0.1" style="font-family:'Liberation Sans', Arial, sans-serif">2006</text>
<text x="289.1" y="944.7" font-size="9.1" textLength="23.3" lengthAdjust="spacing" stroke="#000" stroke-width="0.1" style="font-family:'Liberation Sans', Arial, sans-serif">2007</text>
<text x="327.1" y="944.7" font-size="9.1" textLength="23.3" lengthAdjust="spacing" stroke="#000" stroke-width="0.1" style="font-family:'Liberation Sans', Arial, sans-serif">2008</text>
<text x="366.1" y="944.7" font-size="9.1" textLength="23.3" lengthAdjust="spacing" stroke="#000" stroke-width="0.1" style="font-family:'Liberation Sans', Arial, sans-serif">2009</text>
<text x="404.1" y="944.7" font-size="9.1" textLength="23.3" lengthAdjust="spacing" stroke="#000" stroke-width="0.1" style="font-family:'Liberation Sans', Arial, sans-serif">2010</text>
<text x="442.1" y="944.7" font-size="9.1" textLength="23.3" lengthAdjust="spacing" stroke="#000" stroke-width="0.1" style="font-family:'Liberation Sans', Arial, sans-serif">2011</text>
<text x="480.1" y="944.7" font-size="9.1" textLength="23.3" lengthAdjust="spacing" stroke="#000" stroke-width="0.1" style="font-family:'Liberation Sans', Arial, sans-serif">2012</text>
<text x="519.1" y="944.7" font-size="9.1" textLength="23.3" lengthAdjust="spacing" stroke="#000" stroke-width="0.1" style="font-family:'Liberation Sans', Arial, sans-serif">2013</text>
<text x="557.1" y="944.7" font-size="9.1" textLength="23.3" lengthAdjust="spacing" stroke="#000" stroke-width="0.1" style="font-family:'Liberation Sans', Arial, sans-serif">2014</text>
<text x="595.1" y="944.7" font-size="9.1" textLength="23.3" lengthAdjust="spacing" stroke="#000" stroke-width="0.1" style="font-family:'Liberation Sans', Arial, sans-serif">2015</text>
<text x="634.1" y="944.7" font-size="9.1" textLength="23.3" lengthAdjust="spacing" stroke="#000" stroke-width="0.1" style="font-family:'Liberation Sans', Arial, sans-serif">2016</text>
<text x="672.1" y="944.7" font-size="9.1" textLength="23.3" lengthAdjust="spacing" stroke="#000" stroke-width="0.1" style="font-family:'Liberation Sans', Arial, sans-serif">2017</text>
<text x="710.1" y="944.7" font-size="9.1" textLength="23.3" lengthAdjust="spacing" stroke="#000" stroke-width="0.1" style="font-family:'Liberation Sans', Arial, sans-serif">2018</text>
<text x="749.1" y="944.7" font-size="9.1" textLength="23.3" lengthAdjust="spacing" stroke="#000" stroke-width="0.1" style="font-family:'Liberation Sans', Arial, sans-serif">2019</text>
<text x="787.1" y="944.7" font-size="9.1" textLength="23.3" lengthAdjust="spacing" stroke="#000" stroke-width="0.1" style="font-family:'Liberation Sans', Arial, sans-serif">2020</text>
<text x="825.1" y="944.7" font-size="9.1" textLength="23.3" lengthAdjust="spacing" stroke="#000" stroke-width="0.1" style="font-family:'Liberation Sans', Arial, sans-serif">2021</text>
<rect x="16.5" y="28.5" width="840" height="372" fill="none" stroke="#b3b3b3" stroke-width="1"/>
</svg></body></html>
